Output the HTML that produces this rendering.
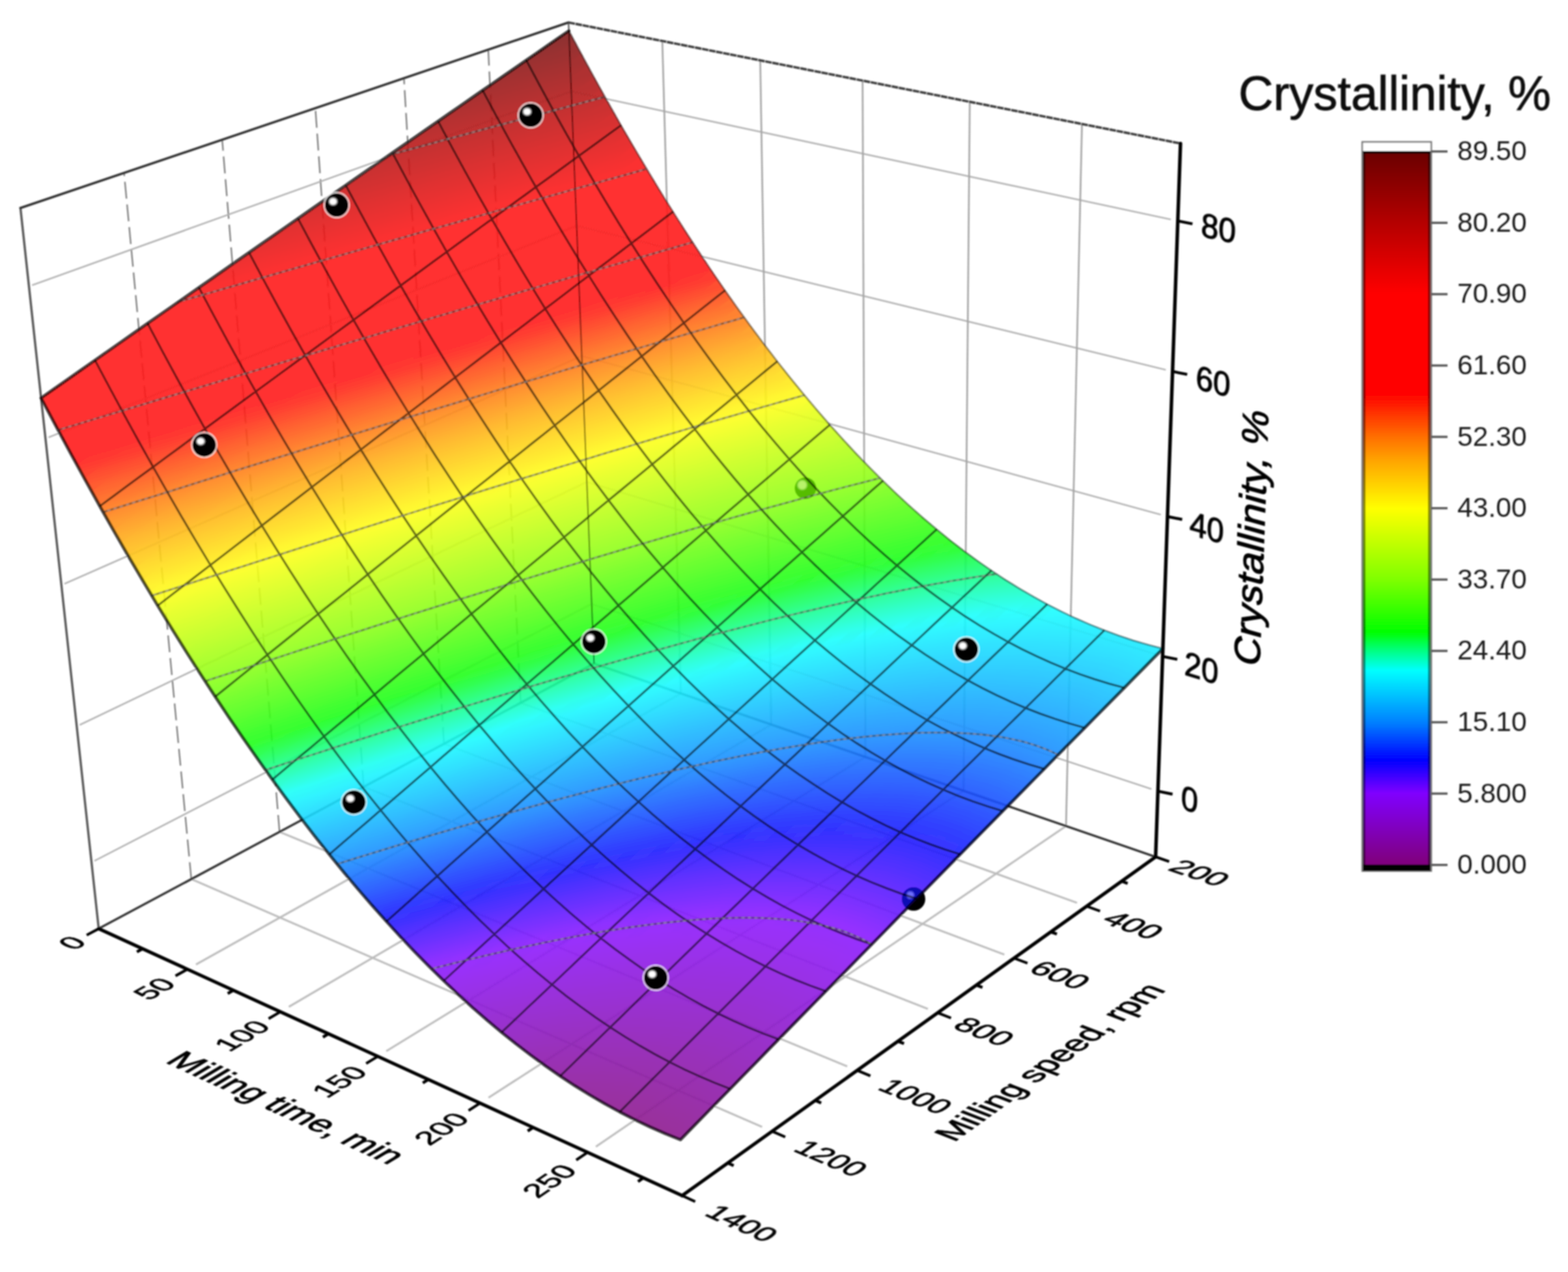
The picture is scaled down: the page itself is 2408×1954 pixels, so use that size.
<!DOCTYPE html>
<html lang="en"><head><meta charset="utf-8"><title>Crystallinity response surface</title>
<style>html,body{margin:0;padding:0;background:#fff}svg{display:block}</style></head>
<body>
<svg width="2408" height="1954" viewBox="0 0 2408 1954">
<defs>
<filter id="soft" filterUnits="userSpaceOnUse" x="0" y="0" width="2408" height="1954"><feGaussianBlur stdDeviation="0.8"/></filter>
<filter id="b1" x="-50%" y="-50%" width="200%" height="200%"><feGaussianBlur stdDeviation="1.2"/></filter>
<linearGradient id="g0" gradientUnits="userSpaceOnUse" x1="878.7" y1="56.8" x2="966.5" y2="372.3"><stop offset="0.0000" stop-color="#750000"/><stop offset="0.0362" stop-color="#7d0000"/><stop offset="0.0729" stop-color="#850000"/><stop offset="0.1100" stop-color="#8d0000"/><stop offset="0.1475" stop-color="#940000"/><stop offset="0.1855" stop-color="#9c0000"/><stop offset="0.2239" stop-color="#a40000"/><stop offset="0.2628" stop-color="#ac0000"/><stop offset="0.3021" stop-color="#b40000"/><stop offset="0.3419" stop-color="#bc0000"/><stop offset="0.3821" stop-color="#c30000"/><stop offset="0.4229" stop-color="#cb0000"/><stop offset="0.4641" stop-color="#d30000"/><stop offset="0.5058" stop-color="#db0000"/><stop offset="0.5481" stop-color="#e30000"/><stop offset="0.5908" stop-color="#eb0000"/><stop offset="0.6341" stop-color="#f30000"/><stop offset="0.6779" stop-color="#fb0000"/><stop offset="0.7222" stop-color="#ff0000"/><stop offset="0.7671" stop-color="#ff0000"/><stop offset="0.8125" stop-color="#ff0000"/><stop offset="0.8585" stop-color="#ff0000"/><stop offset="0.9051" stop-color="#ff0000"/><stop offset="0.9522" stop-color="#ff0000"/><stop offset="1.0000" stop-color="#ff0000"/></linearGradient>
<linearGradient id="g1" gradientUnits="userSpaceOnUse" x1="888.7" y1="75.6" x2="977.4" y2="391.9"><stop offset="0.0000" stop-color="#820000"/><stop offset="0.0363" stop-color="#8a0000"/><stop offset="0.0729" stop-color="#920000"/><stop offset="0.1100" stop-color="#990000"/><stop offset="0.1475" stop-color="#a10000"/><stop offset="0.1855" stop-color="#a90000"/><stop offset="0.2239" stop-color="#b10000"/><stop offset="0.2628" stop-color="#b90000"/><stop offset="0.3021" stop-color="#c10000"/><stop offset="0.3419" stop-color="#c80000"/><stop offset="0.3822" stop-color="#d00000"/><stop offset="0.4229" stop-color="#d80000"/><stop offset="0.4641" stop-color="#e00000"/><stop offset="0.5059" stop-color="#e80000"/><stop offset="0.5481" stop-color="#f00000"/><stop offset="0.5908" stop-color="#f80000"/><stop offset="0.6341" stop-color="#ff0000"/><stop offset="0.6779" stop-color="#ff0000"/><stop offset="0.7222" stop-color="#ff0000"/><stop offset="0.7671" stop-color="#ff0000"/><stop offset="0.8125" stop-color="#ff0000"/><stop offset="0.8585" stop-color="#ff0000"/><stop offset="0.9051" stop-color="#ff0000"/><stop offset="0.9523" stop-color="#ff0000"/><stop offset="1.0000" stop-color="#ff0000"/></linearGradient>
<linearGradient id="g2" gradientUnits="userSpaceOnUse" x1="898.7" y1="94.1" x2="988.3" y2="411.3"><stop offset="0.0000" stop-color="#8f0000"/><stop offset="0.0363" stop-color="#970000"/><stop offset="0.0729" stop-color="#9e0000"/><stop offset="0.1100" stop-color="#a60000"/><stop offset="0.1476" stop-color="#ae0000"/><stop offset="0.1855" stop-color="#b60000"/><stop offset="0.2239" stop-color="#be0000"/><stop offset="0.2628" stop-color="#c50000"/><stop offset="0.3021" stop-color="#cd0000"/><stop offset="0.3419" stop-color="#d50000"/><stop offset="0.3822" stop-color="#dd0000"/><stop offset="0.4229" stop-color="#e50000"/><stop offset="0.4641" stop-color="#ed0000"/><stop offset="0.5059" stop-color="#f50000"/><stop offset="0.5481" stop-color="#fd0000"/><stop offset="0.5908" stop-color="#ff0000"/><stop offset="0.6341" stop-color="#ff0000"/><stop offset="0.6779" stop-color="#ff0000"/><stop offset="0.7222" stop-color="#ff0000"/><stop offset="0.7671" stop-color="#ff0000"/><stop offset="0.8125" stop-color="#ff0000"/><stop offset="0.8585" stop-color="#ff0000"/><stop offset="0.9051" stop-color="#ff0000"/><stop offset="0.9523" stop-color="#ff0000"/><stop offset="1.0000" stop-color="#ff0000"/></linearGradient>
<linearGradient id="g3" gradientUnits="userSpaceOnUse" x1="908.7" y1="112.4" x2="999.2" y2="430.6"><stop offset="0.0000" stop-color="#9b0000"/><stop offset="0.0363" stop-color="#a30000"/><stop offset="0.0729" stop-color="#ab0000"/><stop offset="0.1100" stop-color="#b30000"/><stop offset="0.1476" stop-color="#ba0000"/><stop offset="0.1855" stop-color="#c20000"/><stop offset="0.2239" stop-color="#ca0000"/><stop offset="0.2628" stop-color="#d20000"/><stop offset="0.3021" stop-color="#da0000"/><stop offset="0.3419" stop-color="#e20000"/><stop offset="0.3822" stop-color="#e90000"/><stop offset="0.4229" stop-color="#f10000"/><stop offset="0.4642" stop-color="#f90000"/><stop offset="0.5059" stop-color="#ff0000"/><stop offset="0.5481" stop-color="#ff0000"/><stop offset="0.5909" stop-color="#ff0000"/><stop offset="0.6341" stop-color="#ff0000"/><stop offset="0.6779" stop-color="#ff0000"/><stop offset="0.7222" stop-color="#ff0000"/><stop offset="0.7671" stop-color="#ff0000"/><stop offset="0.8125" stop-color="#ff0000"/><stop offset="0.8585" stop-color="#ff0000"/><stop offset="0.9051" stop-color="#ff0000"/><stop offset="0.9523" stop-color="#ff0000"/><stop offset="1.0000" stop-color="#ff0000"/></linearGradient>
<linearGradient id="g4" gradientUnits="userSpaceOnUse" x1="918.7" y1="130.6" x2="1010.1" y2="449.7"><stop offset="0.0000" stop-color="#a80000"/><stop offset="0.0363" stop-color="#af0000"/><stop offset="0.0729" stop-color="#b70000"/><stop offset="0.1100" stop-color="#bf0000"/><stop offset="0.1476" stop-color="#c70000"/><stop offset="0.1855" stop-color="#cf0000"/><stop offset="0.2240" stop-color="#d60000"/><stop offset="0.2628" stop-color="#de0000"/><stop offset="0.3021" stop-color="#e60000"/><stop offset="0.3419" stop-color="#ee0000"/><stop offset="0.3822" stop-color="#f60000"/><stop offset="0.4229" stop-color="#fe0000"/><stop offset="0.4642" stop-color="#ff0000"/><stop offset="0.5059" stop-color="#ff0000"/><stop offset="0.5481" stop-color="#ff0000"/><stop offset="0.5909" stop-color="#ff0000"/><stop offset="0.6341" stop-color="#ff0000"/><stop offset="0.6779" stop-color="#ff0000"/><stop offset="0.7223" stop-color="#ff0000"/><stop offset="0.7671" stop-color="#ff0000"/><stop offset="0.8126" stop-color="#ff0000"/><stop offset="0.8585" stop-color="#ff0000"/><stop offset="0.9051" stop-color="#ff0000"/><stop offset="0.9523" stop-color="#ff0000"/><stop offset="1.0000" stop-color="#ff0000"/></linearGradient>
<linearGradient id="g5" gradientUnits="userSpaceOnUse" x1="928.7" y1="148.5" x2="1021" y2="468.7"><stop offset="0.0000" stop-color="#b40000"/><stop offset="0.0363" stop-color="#bc0000"/><stop offset="0.0729" stop-color="#c30000"/><stop offset="0.1100" stop-color="#cb0000"/><stop offset="0.1476" stop-color="#d30000"/><stop offset="0.1856" stop-color="#db0000"/><stop offset="0.2240" stop-color="#e30000"/><stop offset="0.2628" stop-color="#eb0000"/><stop offset="0.3022" stop-color="#f20000"/><stop offset="0.3420" stop-color="#fa0000"/><stop offset="0.3822" stop-color="#ff0000"/><stop offset="0.4230" stop-color="#ff0000"/><stop offset="0.4642" stop-color="#ff0000"/><stop offset="0.5059" stop-color="#ff0000"/><stop offset="0.5481" stop-color="#ff0000"/><stop offset="0.5909" stop-color="#ff0000"/><stop offset="0.6341" stop-color="#ff0000"/><stop offset="0.6779" stop-color="#ff0000"/><stop offset="0.7223" stop-color="#ff0000"/><stop offset="0.7671" stop-color="#ff0000"/><stop offset="0.8126" stop-color="#ff0000"/><stop offset="0.8586" stop-color="#ff0000"/><stop offset="0.9051" stop-color="#ff0000"/><stop offset="0.9523" stop-color="#ff0400"/><stop offset="1.0000" stop-color="#ff1800"/></linearGradient>
<linearGradient id="g6" gradientUnits="userSpaceOnUse" x1="938.7" y1="166.3" x2="1031.9" y2="487.5"><stop offset="0.0000" stop-color="#c00000"/><stop offset="0.0363" stop-color="#c80000"/><stop offset="0.0729" stop-color="#cf0000"/><stop offset="0.1101" stop-color="#d70000"/><stop offset="0.1476" stop-color="#df0000"/><stop offset="0.1856" stop-color="#e70000"/><stop offset="0.2240" stop-color="#ef0000"/><stop offset="0.2628" stop-color="#f70000"/><stop offset="0.3022" stop-color="#fe0000"/><stop offset="0.3420" stop-color="#ff0000"/><stop offset="0.3822" stop-color="#ff0000"/><stop offset="0.4230" stop-color="#ff0000"/><stop offset="0.4642" stop-color="#ff0000"/><stop offset="0.5059" stop-color="#ff0000"/><stop offset="0.5482" stop-color="#ff0000"/><stop offset="0.5909" stop-color="#ff0000"/><stop offset="0.6342" stop-color="#ff0000"/><stop offset="0.6779" stop-color="#ff0000"/><stop offset="0.7223" stop-color="#ff0000"/><stop offset="0.7671" stop-color="#ff0000"/><stop offset="0.8126" stop-color="#ff0000"/><stop offset="0.8586" stop-color="#ff0000"/><stop offset="0.9051" stop-color="#ff0e00"/><stop offset="0.9523" stop-color="#ff2200"/><stop offset="1.0000" stop-color="#ff3500"/></linearGradient>
<linearGradient id="g7" gradientUnits="userSpaceOnUse" x1="948.6" y1="183.8" x2="1042.8" y2="506.2"><stop offset="0.0000" stop-color="#cc0000"/><stop offset="0.0363" stop-color="#d40000"/><stop offset="0.0729" stop-color="#db0000"/><stop offset="0.1101" stop-color="#e30000"/><stop offset="0.1476" stop-color="#eb0000"/><stop offset="0.1856" stop-color="#f30000"/><stop offset="0.2240" stop-color="#fb0000"/><stop offset="0.2629" stop-color="#ff0000"/><stop offset="0.3022" stop-color="#ff0000"/><stop offset="0.3420" stop-color="#ff0000"/><stop offset="0.3822" stop-color="#ff0000"/><stop offset="0.4230" stop-color="#ff0000"/><stop offset="0.4642" stop-color="#ff0000"/><stop offset="0.5059" stop-color="#ff0000"/><stop offset="0.5482" stop-color="#ff0000"/><stop offset="0.5909" stop-color="#ff0000"/><stop offset="0.6342" stop-color="#ff0000"/><stop offset="0.6780" stop-color="#ff0000"/><stop offset="0.7223" stop-color="#ff0000"/><stop offset="0.7672" stop-color="#ff0000"/><stop offset="0.8126" stop-color="#ff0400"/><stop offset="0.8586" stop-color="#ff1800"/><stop offset="0.9051" stop-color="#ff2b00"/><stop offset="0.9523" stop-color="#ff3f00"/><stop offset="1.0000" stop-color="#ff5200"/></linearGradient>
<linearGradient id="g8" gradientUnits="userSpaceOnUse" x1="958.6" y1="201.2" x2="1053.6" y2="524.8"><stop offset="0.0000" stop-color="#d80000"/><stop offset="0.0363" stop-color="#df0000"/><stop offset="0.0730" stop-color="#e70000"/><stop offset="0.1101" stop-color="#ef0000"/><stop offset="0.1476" stop-color="#f70000"/><stop offset="0.1856" stop-color="#ff0000"/><stop offset="0.2240" stop-color="#ff0000"/><stop offset="0.2629" stop-color="#ff0000"/><stop offset="0.3022" stop-color="#ff0000"/><stop offset="0.3420" stop-color="#ff0000"/><stop offset="0.3823" stop-color="#ff0000"/><stop offset="0.4230" stop-color="#ff0000"/><stop offset="0.4642" stop-color="#ff0000"/><stop offset="0.5060" stop-color="#ff0000"/><stop offset="0.5482" stop-color="#ff0000"/><stop offset="0.5909" stop-color="#ff0000"/><stop offset="0.6342" stop-color="#ff0000"/><stop offset="0.6780" stop-color="#ff0000"/><stop offset="0.7223" stop-color="#ff0000"/><stop offset="0.7672" stop-color="#ff0d00"/><stop offset="0.8126" stop-color="#ff2100"/><stop offset="0.8586" stop-color="#ff3400"/><stop offset="0.9051" stop-color="#ff4800"/><stop offset="0.9523" stop-color="#ff5b00"/><stop offset="1.0000" stop-color="#ff6f00"/></linearGradient>
<linearGradient id="g9" gradientUnits="userSpaceOnUse" x1="968.6" y1="218.4" x2="1064.5" y2="543.2"><stop offset="0.0000" stop-color="#e30000"/><stop offset="0.0363" stop-color="#eb0000"/><stop offset="0.0730" stop-color="#f30000"/><stop offset="0.1101" stop-color="#fb0000"/><stop offset="0.1476" stop-color="#ff0000"/><stop offset="0.1856" stop-color="#ff0000"/><stop offset="0.2240" stop-color="#ff0000"/><stop offset="0.2629" stop-color="#ff0000"/><stop offset="0.3022" stop-color="#ff0000"/><stop offset="0.3420" stop-color="#ff0000"/><stop offset="0.3823" stop-color="#ff0000"/><stop offset="0.4230" stop-color="#ff0000"/><stop offset="0.4642" stop-color="#ff0000"/><stop offset="0.5060" stop-color="#ff0000"/><stop offset="0.5482" stop-color="#ff0000"/><stop offset="0.5909" stop-color="#ff0000"/><stop offset="0.6342" stop-color="#ff0000"/><stop offset="0.6780" stop-color="#ff0300"/><stop offset="0.7223" stop-color="#ff1600"/><stop offset="0.7672" stop-color="#ff2a00"/><stop offset="0.8126" stop-color="#ff3d00"/><stop offset="0.8586" stop-color="#ff5000"/><stop offset="0.9051" stop-color="#ff6400"/><stop offset="0.9523" stop-color="#ff7600"/><stop offset="1.0000" stop-color="#ff8800"/></linearGradient>
<linearGradient id="g10" gradientUnits="userSpaceOnUse" x1="978.6" y1="235.4" x2="1075.3" y2="561.4"><stop offset="0.0000" stop-color="#ef0000"/><stop offset="0.0363" stop-color="#f60000"/><stop offset="0.0730" stop-color="#fe0000"/><stop offset="0.1101" stop-color="#ff0000"/><stop offset="0.1476" stop-color="#ff0000"/><stop offset="0.1856" stop-color="#ff0000"/><stop offset="0.2240" stop-color="#ff0000"/><stop offset="0.2629" stop-color="#ff0000"/><stop offset="0.3022" stop-color="#ff0000"/><stop offset="0.3420" stop-color="#ff0000"/><stop offset="0.3823" stop-color="#ff0000"/><stop offset="0.4230" stop-color="#ff0000"/><stop offset="0.4643" stop-color="#ff0000"/><stop offset="0.5060" stop-color="#ff0000"/><stop offset="0.5482" stop-color="#ff0000"/><stop offset="0.5910" stop-color="#ff0000"/><stop offset="0.6342" stop-color="#ff0b00"/><stop offset="0.6780" stop-color="#ff1f00"/><stop offset="0.7223" stop-color="#ff3200"/><stop offset="0.7672" stop-color="#ff4500"/><stop offset="0.8126" stop-color="#ff5900"/><stop offset="0.8586" stop-color="#ff6c00"/><stop offset="0.9051" stop-color="#ff7e00"/><stop offset="0.9523" stop-color="#ff8f00"/><stop offset="1.0000" stop-color="#ffa000"/></linearGradient>
<linearGradient id="g11" gradientUnits="userSpaceOnUse" x1="988.6" y1="252.2" x2="1086.1" y2="579.5"><stop offset="0.0000" stop-color="#fa0000"/><stop offset="0.0363" stop-color="#ff0000"/><stop offset="0.0730" stop-color="#ff0000"/><stop offset="0.1101" stop-color="#ff0000"/><stop offset="0.1476" stop-color="#ff0000"/><stop offset="0.1856" stop-color="#ff0000"/><stop offset="0.2240" stop-color="#ff0000"/><stop offset="0.2629" stop-color="#ff0000"/><stop offset="0.3022" stop-color="#ff0000"/><stop offset="0.3420" stop-color="#ff0000"/><stop offset="0.3823" stop-color="#ff0000"/><stop offset="0.4230" stop-color="#ff0000"/><stop offset="0.4643" stop-color="#ff0000"/><stop offset="0.5060" stop-color="#ff0000"/><stop offset="0.5482" stop-color="#ff0000"/><stop offset="0.5910" stop-color="#ff1300"/><stop offset="0.6342" stop-color="#ff2700"/><stop offset="0.6780" stop-color="#ff3a00"/><stop offset="0.7223" stop-color="#ff4e00"/><stop offset="0.7672" stop-color="#ff6100"/><stop offset="0.8126" stop-color="#ff7400"/><stop offset="0.8586" stop-color="#ff8500"/><stop offset="0.9051" stop-color="#ff9600"/><stop offset="0.9523" stop-color="#ffa700"/><stop offset="1.0000" stop-color="#ffb500"/></linearGradient>
<linearGradient id="g12" gradientUnits="userSpaceOnUse" x1="998.5" y1="268.8" x2="1097" y2="597.5"><stop offset="0.0000" stop-color="#ff0000"/><stop offset="0.0363" stop-color="#ff0000"/><stop offset="0.0730" stop-color="#ff0000"/><stop offset="0.1101" stop-color="#ff0000"/><stop offset="0.1476" stop-color="#ff0000"/><stop offset="0.1856" stop-color="#ff0000"/><stop offset="0.2240" stop-color="#ff0000"/><stop offset="0.2629" stop-color="#ff0000"/><stop offset="0.3022" stop-color="#ff0000"/><stop offset="0.3420" stop-color="#ff0000"/><stop offset="0.3823" stop-color="#ff0000"/><stop offset="0.4231" stop-color="#ff0000"/><stop offset="0.4643" stop-color="#ff0000"/><stop offset="0.5060" stop-color="#ff0800"/><stop offset="0.5482" stop-color="#ff1b00"/><stop offset="0.5910" stop-color="#ff2f00"/><stop offset="0.6342" stop-color="#ff4200"/><stop offset="0.6780" stop-color="#ff5500"/><stop offset="0.7223" stop-color="#ff6900"/><stop offset="0.7672" stop-color="#ff7a00"/><stop offset="0.8126" stop-color="#ff8b00"/><stop offset="0.8586" stop-color="#ff9c00"/><stop offset="0.9051" stop-color="#ffac00"/><stop offset="0.9523" stop-color="#ffbb00"/><stop offset="1.0000" stop-color="#ffc900"/></linearGradient>
<linearGradient id="g13" gradientUnits="userSpaceOnUse" x1="1008.5" y1="285.2" x2="1107.8" y2="615.4"><stop offset="0.0000" stop-color="#ff0000"/><stop offset="0.0363" stop-color="#ff0000"/><stop offset="0.0730" stop-color="#ff0000"/><stop offset="0.1101" stop-color="#ff0000"/><stop offset="0.1476" stop-color="#ff0000"/><stop offset="0.1856" stop-color="#ff0000"/><stop offset="0.2240" stop-color="#ff0000"/><stop offset="0.2629" stop-color="#ff0000"/><stop offset="0.3023" stop-color="#ff0000"/><stop offset="0.3421" stop-color="#ff0000"/><stop offset="0.3823" stop-color="#ff0000"/><stop offset="0.4231" stop-color="#ff0000"/><stop offset="0.4643" stop-color="#ff0f00"/><stop offset="0.5060" stop-color="#ff2300"/><stop offset="0.5482" stop-color="#ff3600"/><stop offset="0.5910" stop-color="#ff4900"/><stop offset="0.6342" stop-color="#ff5d00"/><stop offset="0.6780" stop-color="#ff7000"/><stop offset="0.7223" stop-color="#ff8100"/><stop offset="0.7672" stop-color="#ff9200"/><stop offset="0.8126" stop-color="#ffa300"/><stop offset="0.8586" stop-color="#ffb200"/><stop offset="0.9051" stop-color="#ffc000"/><stop offset="0.9523" stop-color="#ffcf00"/><stop offset="1.0000" stop-color="#ffdd00"/></linearGradient>
<linearGradient id="g14" gradientUnits="userSpaceOnUse" x1="1018.5" y1="301.4" x2="1118.6" y2="633.1"><stop offset="0.0000" stop-color="#ff0000"/><stop offset="0.0363" stop-color="#ff0000"/><stop offset="0.0730" stop-color="#ff0000"/><stop offset="0.1101" stop-color="#ff0000"/><stop offset="0.1476" stop-color="#ff0000"/><stop offset="0.1856" stop-color="#ff0000"/><stop offset="0.2241" stop-color="#ff0000"/><stop offset="0.2629" stop-color="#ff0000"/><stop offset="0.3023" stop-color="#ff0000"/><stop offset="0.3421" stop-color="#ff0000"/><stop offset="0.3823" stop-color="#ff0300"/><stop offset="0.4231" stop-color="#ff1700"/><stop offset="0.4643" stop-color="#ff2a00"/><stop offset="0.5060" stop-color="#ff3d00"/><stop offset="0.5483" stop-color="#ff5000"/><stop offset="0.5910" stop-color="#ff6400"/><stop offset="0.6343" stop-color="#ff7600"/><stop offset="0.6780" stop-color="#ff8700"/><stop offset="0.7224" stop-color="#ff9800"/><stop offset="0.7672" stop-color="#ffa800"/><stop offset="0.8126" stop-color="#ffb700"/><stop offset="0.8586" stop-color="#ffc500"/><stop offset="0.9052" stop-color="#ffd400"/><stop offset="0.9523" stop-color="#ffe200"/><stop offset="1.0000" stop-color="#fff100"/></linearGradient>
<linearGradient id="g15" gradientUnits="userSpaceOnUse" x1="1028.5" y1="317.4" x2="1129.4" y2="650.7"><stop offset="0.0000" stop-color="#ff0000"/><stop offset="0.0363" stop-color="#ff0000"/><stop offset="0.0730" stop-color="#ff0000"/><stop offset="0.1101" stop-color="#ff0000"/><stop offset="0.1477" stop-color="#ff0000"/><stop offset="0.1856" stop-color="#ff0000"/><stop offset="0.2241" stop-color="#ff0000"/><stop offset="0.2629" stop-color="#ff0000"/><stop offset="0.3023" stop-color="#ff0000"/><stop offset="0.3421" stop-color="#ff0a00"/><stop offset="0.3823" stop-color="#ff1d00"/><stop offset="0.4231" stop-color="#ff3100"/><stop offset="0.4643" stop-color="#ff4400"/><stop offset="0.5060" stop-color="#ff5700"/><stop offset="0.5483" stop-color="#ff6a00"/><stop offset="0.5910" stop-color="#ff7c00"/><stop offset="0.6343" stop-color="#ff8d00"/><stop offset="0.6780" stop-color="#ff9e00"/><stop offset="0.7224" stop-color="#ffad00"/><stop offset="0.7672" stop-color="#ffbc00"/><stop offset="0.8126" stop-color="#ffca00"/><stop offset="0.8586" stop-color="#ffd800"/><stop offset="0.9052" stop-color="#ffe700"/><stop offset="0.9523" stop-color="#fff500"/><stop offset="1.0000" stop-color="#faff00"/></linearGradient>
<linearGradient id="g16" gradientUnits="userSpaceOnUse" x1="1038.4" y1="333.3" x2="1140.2" y2="668.2"><stop offset="0.0000" stop-color="#ff0000"/><stop offset="0.0363" stop-color="#ff0000"/><stop offset="0.0730" stop-color="#ff0000"/><stop offset="0.1101" stop-color="#ff0000"/><stop offset="0.1477" stop-color="#ff0000"/><stop offset="0.1856" stop-color="#ff0000"/><stop offset="0.2241" stop-color="#ff0000"/><stop offset="0.2630" stop-color="#ff0000"/><stop offset="0.3023" stop-color="#ff1100"/><stop offset="0.3421" stop-color="#ff2400"/><stop offset="0.3824" stop-color="#ff3700"/><stop offset="0.4231" stop-color="#ff4a00"/><stop offset="0.4643" stop-color="#ff5e00"/><stop offset="0.5061" stop-color="#ff7000"/><stop offset="0.5483" stop-color="#ff8100"/><stop offset="0.5910" stop-color="#ff9200"/><stop offset="0.6343" stop-color="#ffa300"/><stop offset="0.6781" stop-color="#ffb200"/><stop offset="0.7224" stop-color="#ffc000"/><stop offset="0.7672" stop-color="#ffcf00"/><stop offset="0.8126" stop-color="#ffdd00"/><stop offset="0.8586" stop-color="#ffeb00"/><stop offset="0.9052" stop-color="#fffa00"/><stop offset="0.9523" stop-color="#f6ff00"/><stop offset="1.0000" stop-color="#e8ff00"/></linearGradient>
<linearGradient id="g17" gradientUnits="userSpaceOnUse" x1="1048.4" y1="348.9" x2="1151" y2="685.5"><stop offset="0.0000" stop-color="#ff0000"/><stop offset="0.0363" stop-color="#ff0000"/><stop offset="0.0730" stop-color="#ff0000"/><stop offset="0.1101" stop-color="#ff0000"/><stop offset="0.1477" stop-color="#ff0000"/><stop offset="0.1856" stop-color="#ff0000"/><stop offset="0.2241" stop-color="#ff0400"/><stop offset="0.2630" stop-color="#ff1700"/><stop offset="0.3023" stop-color="#ff2a00"/><stop offset="0.3421" stop-color="#ff3d00"/><stop offset="0.3824" stop-color="#ff5000"/><stop offset="0.4231" stop-color="#ff6400"/><stop offset="0.4643" stop-color="#ff7600"/><stop offset="0.5061" stop-color="#ff8700"/><stop offset="0.5483" stop-color="#ff9700"/><stop offset="0.5910" stop-color="#ffa800"/><stop offset="0.6343" stop-color="#ffb600"/><stop offset="0.6781" stop-color="#ffc500"/><stop offset="0.7224" stop-color="#ffd300"/><stop offset="0.7672" stop-color="#ffe100"/><stop offset="0.8126" stop-color="#fff000"/><stop offset="0.8586" stop-color="#fffe00"/><stop offset="0.9052" stop-color="#f2ff00"/><stop offset="0.9523" stop-color="#e4ff00"/><stop offset="1.0000" stop-color="#d7ff00"/></linearGradient>
<linearGradient id="g18" gradientUnits="userSpaceOnUse" x1="1058.4" y1="364.4" x2="1161.8" y2="702.7"><stop offset="0.0000" stop-color="#ff0000"/><stop offset="0.0363" stop-color="#ff0000"/><stop offset="0.0730" stop-color="#ff0000"/><stop offset="0.1101" stop-color="#ff0000"/><stop offset="0.1477" stop-color="#ff0000"/><stop offset="0.1857" stop-color="#ff0a00"/><stop offset="0.2241" stop-color="#ff1d00"/><stop offset="0.2630" stop-color="#ff3000"/><stop offset="0.3023" stop-color="#ff4300"/><stop offset="0.3421" stop-color="#ff5600"/><stop offset="0.3824" stop-color="#ff6900"/><stop offset="0.4231" stop-color="#ff7b00"/><stop offset="0.4643" stop-color="#ff8c00"/><stop offset="0.5061" stop-color="#ff9c00"/><stop offset="0.5483" stop-color="#ffac00"/><stop offset="0.5910" stop-color="#ffba00"/><stop offset="0.6343" stop-color="#ffc900"/><stop offset="0.6781" stop-color="#ffd700"/><stop offset="0.7224" stop-color="#ffe500"/><stop offset="0.7672" stop-color="#fff400"/><stop offset="0.8126" stop-color="#fcff00"/><stop offset="0.8586" stop-color="#eeff00"/><stop offset="0.9052" stop-color="#e1ff00"/><stop offset="0.9523" stop-color="#d3ff00"/><stop offset="1.0000" stop-color="#c5ff00"/></linearGradient>
<linearGradient id="g19" gradientUnits="userSpaceOnUse" x1="1068.4" y1="379.7" x2="1172.6" y2="719.8"><stop offset="0.0000" stop-color="#ff0000"/><stop offset="0.0363" stop-color="#ff0000"/><stop offset="0.0730" stop-color="#ff0000"/><stop offset="0.1101" stop-color="#ff0000"/><stop offset="0.1477" stop-color="#ff0f00"/><stop offset="0.1857" stop-color="#ff2200"/><stop offset="0.2241" stop-color="#ff3500"/><stop offset="0.2630" stop-color="#ff4800"/><stop offset="0.3023" stop-color="#ff5b00"/><stop offset="0.3421" stop-color="#ff6f00"/><stop offset="0.3824" stop-color="#ff7f00"/><stop offset="0.4231" stop-color="#ff9000"/><stop offset="0.4644" stop-color="#ffa100"/><stop offset="0.5061" stop-color="#ffb000"/><stop offset="0.5483" stop-color="#ffbe00"/><stop offset="0.5910" stop-color="#ffcc00"/><stop offset="0.6343" stop-color="#ffdb00"/><stop offset="0.6781" stop-color="#ffe900"/><stop offset="0.7224" stop-color="#fff700"/><stop offset="0.7672" stop-color="#f9ff00"/><stop offset="0.8127" stop-color="#ebff00"/><stop offset="0.8586" stop-color="#ddff00"/><stop offset="0.9052" stop-color="#cfff00"/><stop offset="0.9523" stop-color="#c2ff00"/><stop offset="1.0000" stop-color="#b4ff00"/></linearGradient>
<linearGradient id="g20" gradientUnits="userSpaceOnUse" x1="1078.4" y1="394.8" x2="1183.4" y2="736.8"><stop offset="0.0000" stop-color="#ff0000"/><stop offset="0.0363" stop-color="#ff0000"/><stop offset="0.0730" stop-color="#ff0100"/><stop offset="0.1101" stop-color="#ff1400"/><stop offset="0.1477" stop-color="#ff2700"/><stop offset="0.1857" stop-color="#ff3a00"/><stop offset="0.2241" stop-color="#ff4d00"/><stop offset="0.2630" stop-color="#ff6000"/><stop offset="0.3023" stop-color="#ff7300"/><stop offset="0.3421" stop-color="#ff8400"/><stop offset="0.3824" stop-color="#ff9400"/><stop offset="0.4231" stop-color="#ffa500"/><stop offset="0.4644" stop-color="#ffb300"/><stop offset="0.5061" stop-color="#ffc200"/><stop offset="0.5483" stop-color="#ffd000"/><stop offset="0.5911" stop-color="#ffde00"/><stop offset="0.6343" stop-color="#ffed00"/><stop offset="0.6781" stop-color="#fffb00"/><stop offset="0.7224" stop-color="#f5ff00"/><stop offset="0.7673" stop-color="#e8ff00"/><stop offset="0.8127" stop-color="#daff00"/><stop offset="0.8586" stop-color="#ccff00"/><stop offset="0.9052" stop-color="#beff00"/><stop offset="0.9523" stop-color="#b1ff00"/><stop offset="1.0000" stop-color="#a3ff00"/></linearGradient>
<linearGradient id="g21" gradientUnits="userSpaceOnUse" x1="1088.3" y1="409.7" x2="1194.1" y2="753.7"><stop offset="0.0000" stop-color="#ff0000"/><stop offset="0.0363" stop-color="#ff0600"/><stop offset="0.0730" stop-color="#ff1900"/><stop offset="0.1101" stop-color="#ff2c00"/><stop offset="0.1477" stop-color="#ff3f00"/><stop offset="0.1857" stop-color="#ff5200"/><stop offset="0.2241" stop-color="#ff6500"/><stop offset="0.2630" stop-color="#ff7700"/><stop offset="0.3023" stop-color="#ff8800"/><stop offset="0.3421" stop-color="#ff9900"/><stop offset="0.3824" stop-color="#ffa900"/><stop offset="0.4231" stop-color="#ffb700"/><stop offset="0.4644" stop-color="#ffc500"/><stop offset="0.5061" stop-color="#ffd300"/><stop offset="0.5483" stop-color="#ffe200"/><stop offset="0.5911" stop-color="#fff000"/><stop offset="0.6343" stop-color="#fffe00"/><stop offset="0.6781" stop-color="#f2ff00"/><stop offset="0.7224" stop-color="#e4ff00"/><stop offset="0.7673" stop-color="#d7ff00"/><stop offset="0.8127" stop-color="#c9ff00"/><stop offset="0.8586" stop-color="#bbff00"/><stop offset="0.9052" stop-color="#aeff00"/><stop offset="0.9523" stop-color="#a0ff00"/><stop offset="1.0000" stop-color="#92ff00"/></linearGradient>
<linearGradient id="g22" gradientUnits="userSpaceOnUse" x1="1098.3" y1="424.4" x2="1204.9" y2="770.5"><stop offset="0.0000" stop-color="#ff0b00"/><stop offset="0.0363" stop-color="#ff1d00"/><stop offset="0.0730" stop-color="#ff3000"/><stop offset="0.1101" stop-color="#ff4300"/><stop offset="0.1477" stop-color="#ff5600"/><stop offset="0.1857" stop-color="#ff6a00"/><stop offset="0.2241" stop-color="#ff7b00"/><stop offset="0.2630" stop-color="#ff8b00"/><stop offset="0.3023" stop-color="#ff9c00"/><stop offset="0.3421" stop-color="#ffac00"/><stop offset="0.3824" stop-color="#ffba00"/><stop offset="0.4232" stop-color="#ffc800"/><stop offset="0.4644" stop-color="#ffd600"/><stop offset="0.5061" stop-color="#ffe500"/><stop offset="0.5483" stop-color="#fff300"/><stop offset="0.5911" stop-color="#fdff00"/><stop offset="0.6343" stop-color="#efff00"/><stop offset="0.6781" stop-color="#e2ff00"/><stop offset="0.7224" stop-color="#d4ff00"/><stop offset="0.7673" stop-color="#c6ff00"/><stop offset="0.8127" stop-color="#b9ff00"/><stop offset="0.8586" stop-color="#abff00"/><stop offset="0.9052" stop-color="#9dff00"/><stop offset="0.9523" stop-color="#8fff00"/><stop offset="1.0000" stop-color="#82ff00"/></linearGradient>
<linearGradient id="g23" gradientUnits="userSpaceOnUse" x1="1108.3" y1="439" x2="1215.7" y2="787.2"><stop offset="0.0000" stop-color="#ff2200"/><stop offset="0.0363" stop-color="#ff3500"/><stop offset="0.0730" stop-color="#ff4700"/><stop offset="0.1101" stop-color="#ff5a00"/><stop offset="0.1477" stop-color="#ff6e00"/><stop offset="0.1857" stop-color="#ff7e00"/><stop offset="0.2241" stop-color="#ff8f00"/><stop offset="0.2630" stop-color="#ffa000"/><stop offset="0.3023" stop-color="#ffaf00"/><stop offset="0.3421" stop-color="#ffbd00"/><stop offset="0.3824" stop-color="#ffcb00"/><stop offset="0.4232" stop-color="#ffd900"/><stop offset="0.4644" stop-color="#ffe700"/><stop offset="0.5061" stop-color="#fff600"/><stop offset="0.5483" stop-color="#faff00"/><stop offset="0.5911" stop-color="#edff00"/><stop offset="0.6343" stop-color="#dfff00"/><stop offset="0.6781" stop-color="#d1ff00"/><stop offset="0.7224" stop-color="#c4ff00"/><stop offset="0.7673" stop-color="#b6ff00"/><stop offset="0.8127" stop-color="#a8ff00"/><stop offset="0.8586" stop-color="#9bff00"/><stop offset="0.9052" stop-color="#8dff00"/><stop offset="0.9523" stop-color="#7fff00"/><stop offset="1.0000" stop-color="#6cff00"/></linearGradient>
<linearGradient id="g24" gradientUnits="userSpaceOnUse" x1="1118.3" y1="453.3" x2="1226.4" y2="803.8"><stop offset="0.0000" stop-color="#ff3800"/><stop offset="0.0363" stop-color="#ff4b00"/><stop offset="0.0730" stop-color="#ff5e00"/><stop offset="0.1101" stop-color="#ff7100"/><stop offset="0.1477" stop-color="#ff8100"/><stop offset="0.1857" stop-color="#ff9200"/><stop offset="0.2241" stop-color="#ffa300"/><stop offset="0.2630" stop-color="#ffb100"/><stop offset="0.3023" stop-color="#ffbf00"/><stop offset="0.3421" stop-color="#ffce00"/><stop offset="0.3824" stop-color="#ffdc00"/><stop offset="0.4232" stop-color="#ffea00"/><stop offset="0.4644" stop-color="#fff800"/><stop offset="0.5061" stop-color="#f8ff00"/><stop offset="0.5483" stop-color="#eaff00"/><stop offset="0.5911" stop-color="#ddff00"/><stop offset="0.6343" stop-color="#cfff00"/><stop offset="0.6781" stop-color="#c2ff00"/><stop offset="0.7224" stop-color="#b4ff00"/><stop offset="0.7673" stop-color="#a6ff00"/><stop offset="0.8127" stop-color="#98ff00"/><stop offset="0.8586" stop-color="#8bff00"/><stop offset="0.9052" stop-color="#7cff00"/><stop offset="0.9523" stop-color="#6aff00"/><stop offset="1.0000" stop-color="#57ff00"/></linearGradient>
<linearGradient id="g25" gradientUnits="userSpaceOnUse" x1="1128.3" y1="467.5" x2="1237.2" y2="820.3"><stop offset="0.0000" stop-color="#ff4f00"/><stop offset="0.0363" stop-color="#ff6100"/><stop offset="0.0730" stop-color="#ff7400"/><stop offset="0.1101" stop-color="#ff8400"/><stop offset="0.1477" stop-color="#ff9500"/><stop offset="0.1857" stop-color="#ffa500"/><stop offset="0.2241" stop-color="#ffb400"/><stop offset="0.2630" stop-color="#ffc200"/><stop offset="0.3024" stop-color="#ffd000"/><stop offset="0.3422" stop-color="#ffde00"/><stop offset="0.3824" stop-color="#ffec00"/><stop offset="0.4232" stop-color="#fffa00"/><stop offset="0.4644" stop-color="#f6ff00"/><stop offset="0.5061" stop-color="#e8ff00"/><stop offset="0.5484" stop-color="#dbff00"/><stop offset="0.5911" stop-color="#cdff00"/><stop offset="0.6343" stop-color="#bfff00"/><stop offset="0.6781" stop-color="#b2ff00"/><stop offset="0.7224" stop-color="#a4ff00"/><stop offset="0.7673" stop-color="#96ff00"/><stop offset="0.8127" stop-color="#89ff00"/><stop offset="0.8586" stop-color="#79ff00"/><stop offset="0.9052" stop-color="#67ff00"/><stop offset="0.9523" stop-color="#54ff00"/><stop offset="1.0000" stop-color="#42ff00"/></linearGradient>
<linearGradient id="g26" gradientUnits="userSpaceOnUse" x1="1138.3" y1="481.5" x2="1247.9" y2="836.7"><stop offset="0.0000" stop-color="#ff6400"/><stop offset="0.0363" stop-color="#ff7600"/><stop offset="0.0730" stop-color="#ff8700"/><stop offset="0.1101" stop-color="#ff9700"/><stop offset="0.1477" stop-color="#ffa800"/><stop offset="0.1857" stop-color="#ffb600"/><stop offset="0.2241" stop-color="#ffc400"/><stop offset="0.2630" stop-color="#ffd200"/><stop offset="0.3024" stop-color="#ffe000"/><stop offset="0.3422" stop-color="#ffee00"/><stop offset="0.3824" stop-color="#fffc00"/><stop offset="0.4232" stop-color="#f4ff00"/><stop offset="0.4644" stop-color="#e6ff00"/><stop offset="0.5061" stop-color="#d9ff00"/><stop offset="0.5484" stop-color="#cbff00"/><stop offset="0.5911" stop-color="#beff00"/><stop offset="0.6343" stop-color="#b0ff00"/><stop offset="0.6781" stop-color="#a2ff00"/><stop offset="0.7224" stop-color="#95ff00"/><stop offset="0.7673" stop-color="#87ff00"/><stop offset="0.8127" stop-color="#77ff00"/><stop offset="0.8586" stop-color="#65ff00"/><stop offset="0.9052" stop-color="#52ff00"/><stop offset="0.9523" stop-color="#40ff00"/><stop offset="1.0000" stop-color="#2dff00"/></linearGradient>
<linearGradient id="g27" gradientUnits="userSpaceOnUse" x1="1148.3" y1="495.3" x2="1258.6" y2="853"><stop offset="0.0000" stop-color="#ff7900"/><stop offset="0.0363" stop-color="#ff8900"/><stop offset="0.0730" stop-color="#ff9a00"/><stop offset="0.1101" stop-color="#ffa900"/><stop offset="0.1477" stop-color="#ffb800"/><stop offset="0.1857" stop-color="#ffc600"/><stop offset="0.2241" stop-color="#ffd400"/><stop offset="0.2630" stop-color="#ffe200"/><stop offset="0.3024" stop-color="#fff000"/><stop offset="0.3422" stop-color="#fffe00"/><stop offset="0.3824" stop-color="#f2ff00"/><stop offset="0.4232" stop-color="#e5ff00"/><stop offset="0.4644" stop-color="#d7ff00"/><stop offset="0.5061" stop-color="#caff00"/><stop offset="0.5484" stop-color="#bcff00"/><stop offset="0.5911" stop-color="#afff00"/><stop offset="0.6344" stop-color="#a1ff00"/><stop offset="0.6781" stop-color="#93ff00"/><stop offset="0.7224" stop-color="#86ff00"/><stop offset="0.7673" stop-color="#75ff00"/><stop offset="0.8127" stop-color="#63ff00"/><stop offset="0.8586" stop-color="#50ff00"/><stop offset="0.9052" stop-color="#3eff00"/><stop offset="0.9523" stop-color="#2bff00"/><stop offset="1.0000" stop-color="#19ff00"/></linearGradient>
<linearGradient id="g28" gradientUnits="userSpaceOnUse" x1="1158.4" y1="508.9" x2="1269.4" y2="869.2"><stop offset="0.0000" stop-color="#ff8b00"/><stop offset="0.0363" stop-color="#ff9c00"/><stop offset="0.0730" stop-color="#ffab00"/><stop offset="0.1101" stop-color="#ffb900"/><stop offset="0.1477" stop-color="#ffc700"/><stop offset="0.1857" stop-color="#ffd500"/><stop offset="0.2241" stop-color="#ffe300"/><stop offset="0.2630" stop-color="#fff200"/><stop offset="0.3024" stop-color="#feff00"/><stop offset="0.3422" stop-color="#f1ff00"/><stop offset="0.3824" stop-color="#e3ff00"/><stop offset="0.4232" stop-color="#d6ff00"/><stop offset="0.4644" stop-color="#c8ff00"/><stop offset="0.5062" stop-color="#bbff00"/><stop offset="0.5484" stop-color="#adff00"/><stop offset="0.5911" stop-color="#a0ff00"/><stop offset="0.6344" stop-color="#92ff00"/><stop offset="0.6781" stop-color="#84ff00"/><stop offset="0.7224" stop-color="#74ff00"/><stop offset="0.7673" stop-color="#61ff00"/><stop offset="0.8127" stop-color="#4fff00"/><stop offset="0.8587" stop-color="#3cff00"/><stop offset="0.9052" stop-color="#2aff00"/><stop offset="0.9523" stop-color="#17ff00"/><stop offset="1.0000" stop-color="#05ff00"/></linearGradient>
<linearGradient id="g29" gradientUnits="userSpaceOnUse" x1="1168.4" y1="522.4" x2="1280.1" y2="885.4"><stop offset="0.0000" stop-color="#ff9d00"/><stop offset="0.0363" stop-color="#ffac00"/><stop offset="0.0730" stop-color="#ffba00"/><stop offset="0.1102" stop-color="#ffc800"/><stop offset="0.1477" stop-color="#ffd700"/><stop offset="0.1857" stop-color="#ffe500"/><stop offset="0.2242" stop-color="#fff300"/><stop offset="0.2630" stop-color="#fdff00"/><stop offset="0.3024" stop-color="#f0ff00"/><stop offset="0.3422" stop-color="#e2ff00"/><stop offset="0.3825" stop-color="#d5ff00"/><stop offset="0.4232" stop-color="#c7ff00"/><stop offset="0.4644" stop-color="#baff00"/><stop offset="0.5062" stop-color="#acff00"/><stop offset="0.5484" stop-color="#9fff00"/><stop offset="0.5911" stop-color="#91ff00"/><stop offset="0.6344" stop-color="#83ff00"/><stop offset="0.6781" stop-color="#72ff00"/><stop offset="0.7224" stop-color="#60ff00"/><stop offset="0.7673" stop-color="#4dff00"/><stop offset="0.8127" stop-color="#3bff00"/><stop offset="0.8587" stop-color="#29ff00"/><stop offset="0.9052" stop-color="#16ff00"/><stop offset="0.9523" stop-color="#04ff00"/><stop offset="1.0000" stop-color="#00ff2b"/></linearGradient>
<linearGradient id="g30" gradientUnits="userSpaceOnUse" x1="1178.4" y1="535.6" x2="1290.8" y2="901.4"><stop offset="0.0000" stop-color="#ffae00"/><stop offset="0.0363" stop-color="#ffbc00"/><stop offset="0.0730" stop-color="#ffca00"/><stop offset="0.1102" stop-color="#ffd800"/><stop offset="0.1477" stop-color="#ffe600"/><stop offset="0.1857" stop-color="#fff400"/><stop offset="0.2242" stop-color="#fcff00"/><stop offset="0.2630" stop-color="#efff00"/><stop offset="0.3024" stop-color="#e1ff00"/><stop offset="0.3422" stop-color="#d4ff00"/><stop offset="0.3825" stop-color="#c6ff00"/><stop offset="0.4232" stop-color="#b9ff00"/><stop offset="0.4644" stop-color="#abff00"/><stop offset="0.5062" stop-color="#9eff00"/><stop offset="0.5484" stop-color="#90ff00"/><stop offset="0.5911" stop-color="#83ff00"/><stop offset="0.6344" stop-color="#71ff00"/><stop offset="0.6781" stop-color="#5fff00"/><stop offset="0.7224" stop-color="#4dff00"/><stop offset="0.7673" stop-color="#3aff00"/><stop offset="0.8127" stop-color="#28ff00"/><stop offset="0.8587" stop-color="#15ff00"/><stop offset="0.9052" stop-color="#03ff00"/><stop offset="0.9523" stop-color="#00ff2d"/><stop offset="1.0000" stop-color="#00ff62"/></linearGradient>
<linearGradient id="g31" gradientUnits="userSpaceOnUse" x1="1188.5" y1="548.7" x2="1301.5" y2="917.4"><stop offset="0.0000" stop-color="#ffbc00"/><stop offset="0.0363" stop-color="#ffca00"/><stop offset="0.0730" stop-color="#ffd800"/><stop offset="0.1102" stop-color="#ffe600"/><stop offset="0.1477" stop-color="#fff400"/><stop offset="0.1857" stop-color="#fcff00"/><stop offset="0.2242" stop-color="#eeff00"/><stop offset="0.2630" stop-color="#e1ff00"/><stop offset="0.3024" stop-color="#d3ff00"/><stop offset="0.3422" stop-color="#c6ff00"/><stop offset="0.3825" stop-color="#b8ff00"/><stop offset="0.4232" stop-color="#abff00"/><stop offset="0.4644" stop-color="#9dff00"/><stop offset="0.5062" stop-color="#90ff00"/><stop offset="0.5484" stop-color="#82ff00"/><stop offset="0.5911" stop-color="#71ff00"/><stop offset="0.6344" stop-color="#5eff00"/><stop offset="0.6781" stop-color="#4cff00"/><stop offset="0.7224" stop-color="#3aff00"/><stop offset="0.7673" stop-color="#27ff00"/><stop offset="0.8127" stop-color="#15ff00"/><stop offset="0.8587" stop-color="#02ff00"/><stop offset="0.9052" stop-color="#00ff2e"/><stop offset="0.9523" stop-color="#00ff63"/><stop offset="1.0000" stop-color="#00ff97"/></linearGradient>
<linearGradient id="g32" gradientUnits="userSpaceOnUse" x1="1198.5" y1="561.6" x2="1312.2" y2="933.4"><stop offset="0.0000" stop-color="#ffcb00"/><stop offset="0.0363" stop-color="#ffd900"/><stop offset="0.0730" stop-color="#ffe700"/><stop offset="0.1102" stop-color="#fff500"/><stop offset="0.1477" stop-color="#fbff00"/><stop offset="0.1857" stop-color="#eeff00"/><stop offset="0.2242" stop-color="#e0ff00"/><stop offset="0.2631" stop-color="#d3ff00"/><stop offset="0.3024" stop-color="#c5ff00"/><stop offset="0.3422" stop-color="#b8ff00"/><stop offset="0.3825" stop-color="#aaff00"/><stop offset="0.4232" stop-color="#9dff00"/><stop offset="0.4644" stop-color="#8fff00"/><stop offset="0.5062" stop-color="#82ff00"/><stop offset="0.5484" stop-color="#70ff00"/><stop offset="0.5911" stop-color="#5eff00"/><stop offset="0.6344" stop-color="#4cff00"/><stop offset="0.6781" stop-color="#39ff00"/><stop offset="0.7225" stop-color="#27ff00"/><stop offset="0.7673" stop-color="#15ff00"/><stop offset="0.8127" stop-color="#02ff00"/><stop offset="0.8587" stop-color="#00ff2f"/><stop offset="0.9052" stop-color="#00ff64"/><stop offset="0.9523" stop-color="#00ff97"/><stop offset="1.0000" stop-color="#00ffc8"/></linearGradient>
<linearGradient id="g33" gradientUnits="userSpaceOnUse" x1="1208.6" y1="574.4" x2="1322.8" y2="949.3"><stop offset="0.0000" stop-color="#ffd900"/><stop offset="0.0363" stop-color="#ffe700"/><stop offset="0.0730" stop-color="#fff500"/><stop offset="0.1102" stop-color="#fbff00"/><stop offset="0.1477" stop-color="#eeff00"/><stop offset="0.1857" stop-color="#e0ff00"/><stop offset="0.2242" stop-color="#d3ff00"/><stop offset="0.2631" stop-color="#c5ff00"/><stop offset="0.3024" stop-color="#b8ff00"/><stop offset="0.3422" stop-color="#aaff00"/><stop offset="0.3825" stop-color="#9dff00"/><stop offset="0.4232" stop-color="#8fff00"/><stop offset="0.4645" stop-color="#82ff00"/><stop offset="0.5062" stop-color="#70ff00"/><stop offset="0.5484" stop-color="#5eff00"/><stop offset="0.5911" stop-color="#4cff00"/><stop offset="0.6344" stop-color="#39ff00"/><stop offset="0.6781" stop-color="#27ff00"/><stop offset="0.7225" stop-color="#15ff00"/><stop offset="0.7673" stop-color="#02ff00"/><stop offset="0.8127" stop-color="#00ff2e"/><stop offset="0.8587" stop-color="#00ff63"/><stop offset="0.9052" stop-color="#00ff96"/><stop offset="0.9523" stop-color="#00ffc7"/><stop offset="1.0000" stop-color="#00fff8"/></linearGradient>
<linearGradient id="g34" gradientUnits="userSpaceOnUse" x1="1218.6" y1="586.9" x2="1333.5" y2="965.1"><stop offset="0.0000" stop-color="#ffe700"/><stop offset="0.0363" stop-color="#fff500"/><stop offset="0.0730" stop-color="#fbff00"/><stop offset="0.1102" stop-color="#eeff00"/><stop offset="0.1477" stop-color="#e0ff00"/><stop offset="0.1857" stop-color="#d3ff00"/><stop offset="0.2242" stop-color="#c5ff00"/><stop offset="0.2631" stop-color="#b8ff00"/><stop offset="0.3024" stop-color="#abff00"/><stop offset="0.3422" stop-color="#9dff00"/><stop offset="0.3825" stop-color="#90ff00"/><stop offset="0.4232" stop-color="#82ff00"/><stop offset="0.4645" stop-color="#71ff00"/><stop offset="0.5062" stop-color="#5eff00"/><stop offset="0.5484" stop-color="#4cff00"/><stop offset="0.5911" stop-color="#3aff00"/><stop offset="0.6344" stop-color="#28ff00"/><stop offset="0.6782" stop-color="#15ff00"/><stop offset="0.7225" stop-color="#03ff00"/><stop offset="0.7673" stop-color="#00ff2d"/><stop offset="0.8127" stop-color="#00ff62"/><stop offset="0.8587" stop-color="#00ff95"/><stop offset="0.9052" stop-color="#00ffc5"/><stop offset="0.9523" stop-color="#00fff6"/><stop offset="1.0000" stop-color="#00f0ff"/></linearGradient>
<linearGradient id="g35" gradientUnits="userSpaceOnUse" x1="1228.7" y1="599.3" x2="1344.1" y2="980.9"><stop offset="0.0000" stop-color="#fff500"/><stop offset="0.0363" stop-color="#fbff00"/><stop offset="0.0730" stop-color="#eeff00"/><stop offset="0.1102" stop-color="#e1ff00"/><stop offset="0.1477" stop-color="#d3ff00"/><stop offset="0.1857" stop-color="#c6ff00"/><stop offset="0.2242" stop-color="#b8ff00"/><stop offset="0.2631" stop-color="#abff00"/><stop offset="0.3024" stop-color="#9eff00"/><stop offset="0.3422" stop-color="#90ff00"/><stop offset="0.3825" stop-color="#83ff00"/><stop offset="0.4232" stop-color="#71ff00"/><stop offset="0.4645" stop-color="#5fff00"/><stop offset="0.5062" stop-color="#4dff00"/><stop offset="0.5484" stop-color="#3bff00"/><stop offset="0.5911" stop-color="#28ff00"/><stop offset="0.6344" stop-color="#16ff00"/><stop offset="0.6782" stop-color="#04ff00"/><stop offset="0.7225" stop-color="#00ff2a"/><stop offset="0.7673" stop-color="#00ff5f"/><stop offset="0.8127" stop-color="#00ff92"/><stop offset="0.8587" stop-color="#00ffc3"/><stop offset="0.9052" stop-color="#00fff3"/><stop offset="0.9523" stop-color="#00f1ff"/><stop offset="1.0000" stop-color="#00deff"/></linearGradient>
<linearGradient id="g36" gradientUnits="userSpaceOnUse" x1="1238.8" y1="611.4" x2="1354.7" y2="996.6"><stop offset="0.0000" stop-color="#fcff00"/><stop offset="0.0363" stop-color="#efff00"/><stop offset="0.0730" stop-color="#e1ff00"/><stop offset="0.1102" stop-color="#d4ff00"/><stop offset="0.1477" stop-color="#c6ff00"/><stop offset="0.1857" stop-color="#b9ff00"/><stop offset="0.2242" stop-color="#acff00"/><stop offset="0.2631" stop-color="#9eff00"/><stop offset="0.3024" stop-color="#91ff00"/><stop offset="0.3422" stop-color="#83ff00"/><stop offset="0.3825" stop-color="#72ff00"/><stop offset="0.4232" stop-color="#60ff00"/><stop offset="0.4645" stop-color="#4eff00"/><stop offset="0.5062" stop-color="#3cff00"/><stop offset="0.5484" stop-color="#29ff00"/><stop offset="0.5911" stop-color="#17ff00"/><stop offset="0.6344" stop-color="#05ff00"/><stop offset="0.6782" stop-color="#00ff27"/><stop offset="0.7225" stop-color="#00ff5c"/><stop offset="0.7673" stop-color="#00ff8f"/><stop offset="0.8127" stop-color="#00ffc0"/><stop offset="0.8587" stop-color="#00fff0"/><stop offset="0.9052" stop-color="#00f2ff"/><stop offset="0.9523" stop-color="#00dfff"/><stop offset="1.0000" stop-color="#00cdff"/></linearGradient>
<linearGradient id="g37" gradientUnits="userSpaceOnUse" x1="1248.9" y1="623.4" x2="1365.3" y2="1012.3"><stop offset="0.0000" stop-color="#efff00"/><stop offset="0.0363" stop-color="#e2ff00"/><stop offset="0.0730" stop-color="#d5ff00"/><stop offset="0.1102" stop-color="#c7ff00"/><stop offset="0.1477" stop-color="#baff00"/><stop offset="0.1857" stop-color="#adff00"/><stop offset="0.2242" stop-color="#9fff00"/><stop offset="0.2631" stop-color="#92ff00"/><stop offset="0.3024" stop-color="#84ff00"/><stop offset="0.3422" stop-color="#74ff00"/><stop offset="0.3825" stop-color="#61ff00"/><stop offset="0.4232" stop-color="#4fff00"/><stop offset="0.4645" stop-color="#3dff00"/><stop offset="0.5062" stop-color="#2bff00"/><stop offset="0.5484" stop-color="#19ff00"/><stop offset="0.5911" stop-color="#06ff00"/><stop offset="0.6344" stop-color="#00ff22"/><stop offset="0.6782" stop-color="#00ff57"/><stop offset="0.7225" stop-color="#00ff8b"/><stop offset="0.7673" stop-color="#00ffbb"/><stop offset="0.8127" stop-color="#00ffec"/><stop offset="0.8587" stop-color="#00f4ff"/><stop offset="0.9052" stop-color="#00e1ff"/><stop offset="0.9523" stop-color="#00cfff"/><stop offset="1.0000" stop-color="#00bcff"/></linearGradient>
<linearGradient id="g38" gradientUnits="userSpaceOnUse" x1="1259" y1="635.3" x2="1375.9" y2="1028"><stop offset="0.0000" stop-color="#e3ff00"/><stop offset="0.0363" stop-color="#d6ff00"/><stop offset="0.0730" stop-color="#c8ff00"/><stop offset="0.1102" stop-color="#bbff00"/><stop offset="0.1477" stop-color="#aeff00"/><stop offset="0.1857" stop-color="#a0ff00"/><stop offset="0.2242" stop-color="#93ff00"/><stop offset="0.2631" stop-color="#85ff00"/><stop offset="0.3024" stop-color="#75ff00"/><stop offset="0.3422" stop-color="#63ff00"/><stop offset="0.3825" stop-color="#51ff00"/><stop offset="0.4232" stop-color="#3fff00"/><stop offset="0.4645" stop-color="#2dff00"/><stop offset="0.5062" stop-color="#1aff00"/><stop offset="0.5484" stop-color="#08ff00"/><stop offset="0.5911" stop-color="#00ff1d"/><stop offset="0.6344" stop-color="#00ff52"/><stop offset="0.6782" stop-color="#00ff86"/><stop offset="0.7225" stop-color="#00ffb6"/><stop offset="0.7673" stop-color="#00ffe7"/><stop offset="0.8127" stop-color="#00f6ff"/><stop offset="0.8587" stop-color="#00e3ff"/><stop offset="0.9052" stop-color="#00d1ff"/><stop offset="0.9523" stop-color="#00beff"/><stop offset="1.0000" stop-color="#00abff"/></linearGradient>
<linearGradient id="g39" gradientUnits="userSpaceOnUse" x1="1269.1" y1="646.9" x2="1386.5" y2="1043.7"><stop offset="0.0000" stop-color="#d7ff00"/><stop offset="0.0363" stop-color="#caff00"/><stop offset="0.0730" stop-color="#bcff00"/><stop offset="0.1102" stop-color="#afff00"/><stop offset="0.1477" stop-color="#a2ff00"/><stop offset="0.1857" stop-color="#94ff00"/><stop offset="0.2242" stop-color="#87ff00"/><stop offset="0.2631" stop-color="#77ff00"/><stop offset="0.3024" stop-color="#65ff00"/><stop offset="0.3422" stop-color="#53ff00"/><stop offset="0.3825" stop-color="#41ff00"/><stop offset="0.4232" stop-color="#2fff00"/><stop offset="0.4645" stop-color="#1cff00"/><stop offset="0.5062" stop-color="#0aff00"/><stop offset="0.5484" stop-color="#00ff17"/><stop offset="0.5911" stop-color="#00ff4c"/><stop offset="0.6344" stop-color="#00ff80"/><stop offset="0.6782" stop-color="#00ffb0"/><stop offset="0.7225" stop-color="#00ffe1"/><stop offset="0.7673" stop-color="#00f8ff"/><stop offset="0.8127" stop-color="#00e5ff"/><stop offset="0.8587" stop-color="#00d3ff"/><stop offset="0.9052" stop-color="#00c0ff"/><stop offset="0.9523" stop-color="#00aeff"/><stop offset="1.0000" stop-color="#009bff"/></linearGradient>
<linearGradient id="g40" gradientUnits="userSpaceOnUse" x1="1279.3" y1="658.4" x2="1397" y2="1059.4"><stop offset="0.0000" stop-color="#cbff00"/><stop offset="0.0363" stop-color="#beff00"/><stop offset="0.0730" stop-color="#b1ff00"/><stop offset="0.1102" stop-color="#a3ff00"/><stop offset="0.1477" stop-color="#96ff00"/><stop offset="0.1857" stop-color="#89ff00"/><stop offset="0.2242" stop-color="#7aff00"/><stop offset="0.2631" stop-color="#67ff00"/><stop offset="0.3024" stop-color="#55ff00"/><stop offset="0.3422" stop-color="#43ff00"/><stop offset="0.3825" stop-color="#31ff00"/><stop offset="0.4232" stop-color="#1fff00"/><stop offset="0.4645" stop-color="#0dff00"/><stop offset="0.5062" stop-color="#00ff10"/><stop offset="0.5484" stop-color="#00ff44"/><stop offset="0.5911" stop-color="#00ff79"/><stop offset="0.6344" stop-color="#00ffaa"/><stop offset="0.6782" stop-color="#00ffda"/><stop offset="0.7225" stop-color="#00fbff"/><stop offset="0.7673" stop-color="#00e8ff"/><stop offset="0.8127" stop-color="#00d6ff"/><stop offset="0.8587" stop-color="#00c3ff"/><stop offset="0.9052" stop-color="#00b0ff"/><stop offset="0.9523" stop-color="#009eff"/><stop offset="1.0000" stop-color="#008bff"/></linearGradient>
<linearGradient id="g41" gradientUnits="userSpaceOnUse" x1="1289.4" y1="669.7" x2="1407.5" y2="1075"><stop offset="0.0000" stop-color="#c0ff00"/><stop offset="0.0363" stop-color="#b3ff00"/><stop offset="0.0730" stop-color="#a5ff00"/><stop offset="0.1102" stop-color="#98ff00"/><stop offset="0.1477" stop-color="#8bff00"/><stop offset="0.1857" stop-color="#7cff00"/><stop offset="0.2242" stop-color="#6aff00"/><stop offset="0.2631" stop-color="#58ff00"/><stop offset="0.3024" stop-color="#46ff00"/><stop offset="0.3422" stop-color="#34ff00"/><stop offset="0.3825" stop-color="#22ff00"/><stop offset="0.4232" stop-color="#10ff00"/><stop offset="0.4645" stop-color="#00ff08"/><stop offset="0.5062" stop-color="#00ff3c"/><stop offset="0.5484" stop-color="#00ff71"/><stop offset="0.5911" stop-color="#00ffa2"/><stop offset="0.6344" stop-color="#00ffd2"/><stop offset="0.6782" stop-color="#00feff"/><stop offset="0.7225" stop-color="#00ebff"/><stop offset="0.7673" stop-color="#00d9ff"/><stop offset="0.8127" stop-color="#00c6ff"/><stop offset="0.8587" stop-color="#00b4ff"/><stop offset="0.9052" stop-color="#00a1ff"/><stop offset="0.9523" stop-color="#008eff"/><stop offset="1.0000" stop-color="#007aff"/></linearGradient>
<linearGradient id="g42" gradientUnits="userSpaceOnUse" x1="1299.6" y1="680.8" x2="1417.9" y2="1090.7"><stop offset="0.0000" stop-color="#b5ff00"/><stop offset="0.0363" stop-color="#a7ff00"/><stop offset="0.0730" stop-color="#9aff00"/><stop offset="0.1102" stop-color="#8dff00"/><stop offset="0.1477" stop-color="#7fff00"/><stop offset="0.1857" stop-color="#6dff00"/><stop offset="0.2242" stop-color="#5bff00"/><stop offset="0.2631" stop-color="#49ff00"/><stop offset="0.3024" stop-color="#37ff00"/><stop offset="0.3422" stop-color="#25ff00"/><stop offset="0.3825" stop-color="#13ff00"/><stop offset="0.4232" stop-color="#00ff00"/><stop offset="0.4645" stop-color="#00ff33"/><stop offset="0.5062" stop-color="#00ff67"/><stop offset="0.5484" stop-color="#00ff9a"/><stop offset="0.5911" stop-color="#00ffca"/><stop offset="0.6344" stop-color="#00fffa"/><stop offset="0.6782" stop-color="#00eeff"/><stop offset="0.7225" stop-color="#00dcff"/><stop offset="0.7673" stop-color="#00c9ff"/><stop offset="0.8127" stop-color="#00b7ff"/><stop offset="0.8587" stop-color="#00a4ff"/><stop offset="0.9052" stop-color="#0092ff"/><stop offset="0.9523" stop-color="#007fff"/><stop offset="1.0000" stop-color="#0065ff"/></linearGradient>
<linearGradient id="g43" gradientUnits="userSpaceOnUse" x1="1309.8" y1="691.7" x2="1428.3" y2="1106.3"><stop offset="0.0000" stop-color="#aaff00"/><stop offset="0.0363" stop-color="#9cff00"/><stop offset="0.0730" stop-color="#8fff00"/><stop offset="0.1102" stop-color="#82ff00"/><stop offset="0.1477" stop-color="#70ff00"/><stop offset="0.1857" stop-color="#5eff00"/><stop offset="0.2242" stop-color="#4cff00"/><stop offset="0.2631" stop-color="#3aff00"/><stop offset="0.3024" stop-color="#28ff00"/><stop offset="0.3422" stop-color="#16ff00"/><stop offset="0.3825" stop-color="#04ff00"/><stop offset="0.4232" stop-color="#00ff29"/><stop offset="0.4645" stop-color="#00ff5d"/><stop offset="0.5062" stop-color="#00ff90"/><stop offset="0.5484" stop-color="#00ffc0"/><stop offset="0.5911" stop-color="#00fff0"/><stop offset="0.6344" stop-color="#00f2ff"/><stop offset="0.6782" stop-color="#00e0ff"/><stop offset="0.7225" stop-color="#00cdff"/><stop offset="0.7673" stop-color="#00bbff"/><stop offset="0.8127" stop-color="#00a8ff"/><stop offset="0.8587" stop-color="#0096ff"/><stop offset="0.9052" stop-color="#0083ff"/><stop offset="0.9523" stop-color="#006aff"/><stop offset="1.0000" stop-color="#0050ff"/></linearGradient>
<linearGradient id="g44" gradientUnits="userSpaceOnUse" x1="1320" y1="702.5" x2="1438.6" y2="1122"><stop offset="0.0000" stop-color="#9fff00"/><stop offset="0.0363" stop-color="#92ff00"/><stop offset="0.0730" stop-color="#84ff00"/><stop offset="0.1102" stop-color="#74ff00"/><stop offset="0.1477" stop-color="#62ff00"/><stop offset="0.1857" stop-color="#50ff00"/><stop offset="0.2242" stop-color="#3eff00"/><stop offset="0.2631" stop-color="#2cff00"/><stop offset="0.3024" stop-color="#1aff00"/><stop offset="0.3422" stop-color="#08ff00"/><stop offset="0.3825" stop-color="#00ff1e"/><stop offset="0.4232" stop-color="#00ff52"/><stop offset="0.4645" stop-color="#00ff86"/><stop offset="0.5062" stop-color="#00ffb6"/><stop offset="0.5484" stop-color="#00ffe6"/><stop offset="0.5911" stop-color="#00f6ff"/><stop offset="0.6344" stop-color="#00e4ff"/><stop offset="0.6782" stop-color="#00d1ff"/><stop offset="0.7225" stop-color="#00bfff"/><stop offset="0.7673" stop-color="#00acff"/><stop offset="0.8127" stop-color="#009aff"/><stop offset="0.8587" stop-color="#0087ff"/><stop offset="0.9052" stop-color="#0070ff"/><stop offset="0.9523" stop-color="#0056ff"/><stop offset="1.0000" stop-color="#003cff"/></linearGradient>
<linearGradient id="g45" gradientUnits="userSpaceOnUse" x1="1330.2" y1="713" x2="1448.9" y2="1137.8"><stop offset="0.0000" stop-color="#95ff00"/><stop offset="0.0363" stop-color="#87ff00"/><stop offset="0.0730" stop-color="#78ff00"/><stop offset="0.1102" stop-color="#66ff00"/><stop offset="0.1477" stop-color="#54ff00"/><stop offset="0.1857" stop-color="#42ff00"/><stop offset="0.2242" stop-color="#30ff00"/><stop offset="0.2631" stop-color="#1eff00"/><stop offset="0.3024" stop-color="#0cff00"/><stop offset="0.3422" stop-color="#00ff12"/><stop offset="0.3825" stop-color="#00ff46"/><stop offset="0.4232" stop-color="#00ff7b"/><stop offset="0.4645" stop-color="#00ffab"/><stop offset="0.5062" stop-color="#00ffdb"/><stop offset="0.5484" stop-color="#00faff"/><stop offset="0.5911" stop-color="#00e8ff"/><stop offset="0.6344" stop-color="#00d6ff"/><stop offset="0.6782" stop-color="#00c3ff"/><stop offset="0.7225" stop-color="#00b1ff"/><stop offset="0.7673" stop-color="#009eff"/><stop offset="0.8127" stop-color="#008cff"/><stop offset="0.8587" stop-color="#0076ff"/><stop offset="0.9052" stop-color="#005cff"/><stop offset="0.9523" stop-color="#0042ff"/><stop offset="1.0000" stop-color="#0028ff"/></linearGradient>
<linearGradient id="g46" gradientUnits="userSpaceOnUse" x1="1340.4" y1="723.4" x2="1459.2" y2="1153.5"><stop offset="0.0000" stop-color="#8bff00"/><stop offset="0.0363" stop-color="#7cff00"/><stop offset="0.0730" stop-color="#6aff00"/><stop offset="0.1102" stop-color="#58ff00"/><stop offset="0.1477" stop-color="#46ff00"/><stop offset="0.1857" stop-color="#34ff00"/><stop offset="0.2242" stop-color="#22ff00"/><stop offset="0.2631" stop-color="#10ff00"/><stop offset="0.3024" stop-color="#00ff05"/><stop offset="0.3422" stop-color="#00ff39"/><stop offset="0.3825" stop-color="#00ff6d"/><stop offset="0.4232" stop-color="#00ff9f"/><stop offset="0.4645" stop-color="#00ffcf"/><stop offset="0.5062" stop-color="#00ffff"/><stop offset="0.5484" stop-color="#00edff"/><stop offset="0.5911" stop-color="#00daff"/><stop offset="0.6344" stop-color="#00c8ff"/><stop offset="0.6782" stop-color="#00b5ff"/><stop offset="0.7225" stop-color="#00a3ff"/><stop offset="0.7673" stop-color="#0090ff"/><stop offset="0.8127" stop-color="#007dff"/><stop offset="0.8587" stop-color="#0063ff"/><stop offset="0.9052" stop-color="#0049ff"/><stop offset="0.9523" stop-color="#002fff"/><stop offset="1.0000" stop-color="#0015ff"/></linearGradient>
<linearGradient id="g47" gradientUnits="userSpaceOnUse" x1="1350.6" y1="733.6" x2="1469.3" y2="1169.4"><stop offset="0.0000" stop-color="#81ff00"/><stop offset="0.0363" stop-color="#6fff00"/><stop offset="0.0730" stop-color="#5dff00"/><stop offset="0.1102" stop-color="#4bff00"/><stop offset="0.1477" stop-color="#39ff00"/><stop offset="0.1857" stop-color="#27ff00"/><stop offset="0.2242" stop-color="#15ff00"/><stop offset="0.2631" stop-color="#03ff00"/><stop offset="0.3024" stop-color="#00ff2b"/><stop offset="0.3422" stop-color="#00ff60"/><stop offset="0.3825" stop-color="#00ff92"/><stop offset="0.4232" stop-color="#00ffc2"/><stop offset="0.4645" stop-color="#00fff2"/><stop offset="0.5062" stop-color="#00f2ff"/><stop offset="0.5484" stop-color="#00dfff"/><stop offset="0.5911" stop-color="#00cdff"/><stop offset="0.6344" stop-color="#00baff"/><stop offset="0.6782" stop-color="#00a8ff"/><stop offset="0.7225" stop-color="#0095ff"/><stop offset="0.7673" stop-color="#0083ff"/><stop offset="0.8127" stop-color="#006aff"/><stop offset="0.8587" stop-color="#0050ff"/><stop offset="0.9052" stop-color="#0036ff"/><stop offset="0.9523" stop-color="#001cff"/><stop offset="1.0000" stop-color="#0002ff"/></linearGradient>
<linearGradient id="g48" gradientUnits="userSpaceOnUse" x1="1360.9" y1="743.7" x2="1479.4" y2="1185.3"><stop offset="0.0000" stop-color="#74ff00"/><stop offset="0.0363" stop-color="#62ff00"/><stop offset="0.0730" stop-color="#50ff00"/><stop offset="0.1102" stop-color="#3eff00"/><stop offset="0.1477" stop-color="#2cff00"/><stop offset="0.1857" stop-color="#1aff00"/><stop offset="0.2242" stop-color="#08ff00"/><stop offset="0.2631" stop-color="#00ff1d"/><stop offset="0.3024" stop-color="#00ff51"/><stop offset="0.3422" stop-color="#00ff84"/><stop offset="0.3825" stop-color="#00ffb4"/><stop offset="0.4232" stop-color="#00ffe4"/><stop offset="0.4645" stop-color="#00f7ff"/><stop offset="0.5062" stop-color="#00e5ff"/><stop offset="0.5484" stop-color="#00d2ff"/><stop offset="0.5911" stop-color="#00c0ff"/><stop offset="0.6344" stop-color="#00adff"/><stop offset="0.6782" stop-color="#009bff"/><stop offset="0.7225" stop-color="#0088ff"/><stop offset="0.7673" stop-color="#0072ff"/><stop offset="0.8127" stop-color="#0058ff"/><stop offset="0.8587" stop-color="#003eff"/><stop offset="0.9052" stop-color="#0024ff"/><stop offset="0.9523" stop-color="#000aff"/><stop offset="1.0000" stop-color="#1300ff"/></linearGradient>
<linearGradient id="g49" gradientUnits="userSpaceOnUse" x1="1371.2" y1="753.5" x2="1489.4" y2="1201.3"><stop offset="0.0000" stop-color="#67ff00"/><stop offset="0.0363" stop-color="#56ff00"/><stop offset="0.0730" stop-color="#44ff00"/><stop offset="0.1102" stop-color="#32ff00"/><stop offset="0.1477" stop-color="#20ff00"/><stop offset="0.1857" stop-color="#0eff00"/><stop offset="0.2242" stop-color="#00ff0d"/><stop offset="0.2631" stop-color="#00ff41"/><stop offset="0.3024" stop-color="#00ff75"/><stop offset="0.3422" stop-color="#00ffa5"/><stop offset="0.3825" stop-color="#00ffd5"/><stop offset="0.4232" stop-color="#00fdff"/><stop offset="0.4645" stop-color="#00eaff"/><stop offset="0.5062" stop-color="#00d8ff"/><stop offset="0.5484" stop-color="#00c6ff"/><stop offset="0.5911" stop-color="#00b3ff"/><stop offset="0.6344" stop-color="#00a1ff"/><stop offset="0.6782" stop-color="#008eff"/><stop offset="0.7225" stop-color="#007aff"/><stop offset="0.7673" stop-color="#0060ff"/><stop offset="0.8127" stop-color="#0046ff"/><stop offset="0.8587" stop-color="#002cff"/><stop offset="0.9052" stop-color="#0012ff"/><stop offset="0.9523" stop-color="#0900ff"/><stop offset="1.0000" stop-color="#2700ff"/></linearGradient>
<linearGradient id="g50" gradientUnits="userSpaceOnUse" x1="1381.4" y1="763.2" x2="1499.3" y2="1217.3"><stop offset="0.0000" stop-color="#5bff00"/><stop offset="0.0363" stop-color="#49ff00"/><stop offset="0.0730" stop-color="#37ff00"/><stop offset="0.1102" stop-color="#25ff00"/><stop offset="0.1477" stop-color="#13ff00"/><stop offset="0.1857" stop-color="#01ff00"/><stop offset="0.2242" stop-color="#00ff30"/><stop offset="0.2631" stop-color="#00ff64"/><stop offset="0.3024" stop-color="#00ff96"/><stop offset="0.3422" stop-color="#00ffc6"/><stop offset="0.3825" stop-color="#00fff5"/><stop offset="0.4232" stop-color="#00f0ff"/><stop offset="0.4645" stop-color="#00deff"/><stop offset="0.5062" stop-color="#00ccff"/><stop offset="0.5484" stop-color="#00b9ff"/><stop offset="0.5911" stop-color="#00a7ff"/><stop offset="0.6344" stop-color="#0094ff"/><stop offset="0.6782" stop-color="#0082ff"/><stop offset="0.7225" stop-color="#0069ff"/><stop offset="0.7673" stop-color="#004fff"/><stop offset="0.8127" stop-color="#0035ff"/><stop offset="0.8587" stop-color="#001bff"/><stop offset="0.9052" stop-color="#0001ff"/><stop offset="0.9523" stop-color="#1d00ff"/><stop offset="1.0000" stop-color="#3a00ff"/></linearGradient>
<linearGradient id="g51" gradientUnits="userSpaceOnUse" x1="1391.8" y1="772.7" x2="1509.1" y2="1233.5"><stop offset="0.0000" stop-color="#4fff00"/><stop offset="0.0363" stop-color="#3dff00"/><stop offset="0.0730" stop-color="#2bff00"/><stop offset="0.1102" stop-color="#1aff00"/><stop offset="0.1477" stop-color="#08ff00"/><stop offset="0.1857" stop-color="#00ff1e"/><stop offset="0.2242" stop-color="#00ff52"/><stop offset="0.2631" stop-color="#00ff86"/><stop offset="0.3024" stop-color="#00ffb5"/><stop offset="0.3422" stop-color="#00ffe5"/><stop offset="0.3825" stop-color="#00f7ff"/><stop offset="0.4232" stop-color="#00e4ff"/><stop offset="0.4645" stop-color="#00d2ff"/><stop offset="0.5062" stop-color="#00c0ff"/><stop offset="0.5484" stop-color="#00adff"/><stop offset="0.5911" stop-color="#009bff"/><stop offset="0.6344" stop-color="#0088ff"/><stop offset="0.6781" stop-color="#0072ff"/><stop offset="0.7225" stop-color="#0058ff"/><stop offset="0.7673" stop-color="#003eff"/><stop offset="0.8127" stop-color="#0024ff"/><stop offset="0.8587" stop-color="#000aff"/><stop offset="0.9052" stop-color="#1200ff"/><stop offset="0.9523" stop-color="#3000ff"/><stop offset="1.0000" stop-color="#4d00ff"/></linearGradient>
<linearGradient id="g52" gradientUnits="userSpaceOnUse" x1="1402.1" y1="782.1" x2="1518.7" y2="1249.9"><stop offset="0.0000" stop-color="#44ff00"/><stop offset="0.0363" stop-color="#32ff00"/><stop offset="0.0730" stop-color="#20ff00"/><stop offset="0.1102" stop-color="#0eff00"/><stop offset="0.1477" stop-color="#00ff0c"/><stop offset="0.1857" stop-color="#00ff3f"/><stop offset="0.2242" stop-color="#00ff73"/><stop offset="0.2631" stop-color="#00ffa4"/><stop offset="0.3024" stop-color="#00ffd4"/><stop offset="0.3422" stop-color="#00fdff"/><stop offset="0.3825" stop-color="#00ebff"/><stop offset="0.4232" stop-color="#00d9ff"/><stop offset="0.4645" stop-color="#00c6ff"/><stop offset="0.5062" stop-color="#00b4ff"/><stop offset="0.5484" stop-color="#00a2ff"/><stop offset="0.5911" stop-color="#008fff"/><stop offset="0.6344" stop-color="#007cff"/><stop offset="0.6781" stop-color="#0062ff"/><stop offset="0.7224" stop-color="#0048ff"/><stop offset="0.7673" stop-color="#002eff"/><stop offset="0.8127" stop-color="#0014ff"/><stop offset="0.8587" stop-color="#0700ff"/><stop offset="0.9052" stop-color="#2500ff"/><stop offset="0.9523" stop-color="#4200ff"/><stop offset="1.0000" stop-color="#6000ff"/></linearGradient>
<linearGradient id="g53" gradientUnits="userSpaceOnUse" x1="1412.4" y1="791.2" x2="1528.2" y2="1266.3"><stop offset="0.0000" stop-color="#39ff00"/><stop offset="0.0363" stop-color="#27ff00"/><stop offset="0.0730" stop-color="#15ff00"/><stop offset="0.1102" stop-color="#03ff00"/><stop offset="0.1477" stop-color="#00ff2c"/><stop offset="0.1857" stop-color="#00ff5f"/><stop offset="0.2242" stop-color="#00ff92"/><stop offset="0.2631" stop-color="#00ffc1"/><stop offset="0.3024" stop-color="#00fff1"/><stop offset="0.3422" stop-color="#00f2ff"/><stop offset="0.3825" stop-color="#00e0ff"/><stop offset="0.4232" stop-color="#00ceff"/><stop offset="0.4645" stop-color="#00bbff"/><stop offset="0.5062" stop-color="#00a9ff"/><stop offset="0.5484" stop-color="#0096ff"/><stop offset="0.5911" stop-color="#0084ff"/><stop offset="0.6344" stop-color="#006cff"/><stop offset="0.6781" stop-color="#0052ff"/><stop offset="0.7224" stop-color="#0038ff"/><stop offset="0.7673" stop-color="#001eff"/><stop offset="0.8127" stop-color="#0004ff"/><stop offset="0.8587" stop-color="#1900ff"/><stop offset="0.9052" stop-color="#3600ff"/><stop offset="0.9523" stop-color="#5400ff"/><stop offset="1.0000" stop-color="#7200ff"/></linearGradient>
<linearGradient id="g54" gradientUnits="userSpaceOnUse" x1="1422.8" y1="800.2" x2="1537.6" y2="1282.9"><stop offset="0.0000" stop-color="#2eff00"/><stop offset="0.0363" stop-color="#1cff00"/><stop offset="0.0730" stop-color="#0aff00"/><stop offset="0.1102" stop-color="#00ff17"/><stop offset="0.1477" stop-color="#00ff4b"/><stop offset="0.1857" stop-color="#00ff7f"/><stop offset="0.2242" stop-color="#00ffae"/><stop offset="0.2631" stop-color="#00ffde"/><stop offset="0.3024" stop-color="#00f9ff"/><stop offset="0.3422" stop-color="#00e7ff"/><stop offset="0.3825" stop-color="#00d5ff"/><stop offset="0.4232" stop-color="#00c3ff"/><stop offset="0.4645" stop-color="#00b0ff"/><stop offset="0.5062" stop-color="#009eff"/><stop offset="0.5484" stop-color="#008cff"/><stop offset="0.5911" stop-color="#0076ff"/><stop offset="0.6344" stop-color="#005dff"/><stop offset="0.6781" stop-color="#0043ff"/><stop offset="0.7224" stop-color="#0029ff"/><stop offset="0.7673" stop-color="#000fff"/><stop offset="0.8127" stop-color="#0d00ff"/><stop offset="0.8586" stop-color="#2a00ff"/><stop offset="0.9052" stop-color="#4800ff"/><stop offset="0.9523" stop-color="#6600ff"/><stop offset="1.0000" stop-color="#8000fd"/></linearGradient>
<linearGradient id="g55" gradientUnits="userSpaceOnUse" x1="1433.2" y1="809" x2="1546.8" y2="1299.7"><stop offset="0.0000" stop-color="#23ff00"/><stop offset="0.0363" stop-color="#11ff00"/><stop offset="0.0730" stop-color="#00ff01"/><stop offset="0.1102" stop-color="#00ff35"/><stop offset="0.1477" stop-color="#00ff69"/><stop offset="0.1857" stop-color="#00ff9a"/><stop offset="0.2242" stop-color="#00ffca"/><stop offset="0.2631" stop-color="#00fff9"/><stop offset="0.3024" stop-color="#00efff"/><stop offset="0.3422" stop-color="#00ddff"/><stop offset="0.3825" stop-color="#00caff"/><stop offset="0.4232" stop-color="#00b8ff"/><stop offset="0.4645" stop-color="#00a6ff"/><stop offset="0.5062" stop-color="#0093ff"/><stop offset="0.5484" stop-color="#0081ff"/><stop offset="0.5911" stop-color="#0068ff"/><stop offset="0.6344" stop-color="#004eff"/><stop offset="0.6781" stop-color="#0034ff"/><stop offset="0.7224" stop-color="#001aff"/><stop offset="0.7673" stop-color="#0000ff"/><stop offset="0.8127" stop-color="#1d00ff"/><stop offset="0.8586" stop-color="#3b00ff"/><stop offset="0.9052" stop-color="#5900ff"/><stop offset="0.9523" stop-color="#7600ff"/><stop offset="1.0000" stop-color="#8000f5"/></linearGradient>
<linearGradient id="g56" gradientUnits="userSpaceOnUse" x1="1443.6" y1="817.6" x2="1555.7" y2="1316.7"><stop offset="0.0000" stop-color="#19ff00"/><stop offset="0.0363" stop-color="#07ff00"/><stop offset="0.0730" stop-color="#00ff1f"/><stop offset="0.1102" stop-color="#00ff52"/><stop offset="0.1477" stop-color="#00ff85"/><stop offset="0.1857" stop-color="#00ffb5"/><stop offset="0.2242" stop-color="#00ffe4"/><stop offset="0.2631" stop-color="#00f7ff"/><stop offset="0.3024" stop-color="#00e5ff"/><stop offset="0.3422" stop-color="#00d2ff"/><stop offset="0.3825" stop-color="#00c0ff"/><stop offset="0.4232" stop-color="#00aeff"/><stop offset="0.4644" stop-color="#009cff"/><stop offset="0.5062" stop-color="#0089ff"/><stop offset="0.5484" stop-color="#0073ff"/><stop offset="0.5911" stop-color="#0059ff"/><stop offset="0.6344" stop-color="#0040ff"/><stop offset="0.6781" stop-color="#0026ff"/><stop offset="0.7224" stop-color="#000cff"/><stop offset="0.7673" stop-color="#1000ff"/><stop offset="0.8127" stop-color="#2e00ff"/><stop offset="0.8586" stop-color="#4b00ff"/><stop offset="0.9052" stop-color="#6900ff"/><stop offset="0.9523" stop-color="#8000fc"/><stop offset="1.0000" stop-color="#8000ee"/></linearGradient>
<linearGradient id="g57" gradientUnits="userSpaceOnUse" x1="1454" y1="826" x2="1564.5" y2="1334"><stop offset="0.0000" stop-color="#0fff00"/><stop offset="0.0363" stop-color="#00ff07"/><stop offset="0.0730" stop-color="#00ff3b"/><stop offset="0.1102" stop-color="#00ff6e"/><stop offset="0.1477" stop-color="#00ff9f"/><stop offset="0.1857" stop-color="#00ffcf"/><stop offset="0.2242" stop-color="#00fffe"/><stop offset="0.2631" stop-color="#00edff"/><stop offset="0.3024" stop-color="#00dbff"/><stop offset="0.3422" stop-color="#00c9ff"/><stop offset="0.3825" stop-color="#00b6ff"/><stop offset="0.4232" stop-color="#00a4ff"/><stop offset="0.4644" stop-color="#0092ff"/><stop offset="0.5062" stop-color="#007fff"/><stop offset="0.5484" stop-color="#0065ff"/><stop offset="0.5911" stop-color="#004cff"/><stop offset="0.6344" stop-color="#0032ff"/><stop offset="0.6781" stop-color="#0018ff"/><stop offset="0.7224" stop-color="#0200ff"/><stop offset="0.7673" stop-color="#2000ff"/><stop offset="0.8127" stop-color="#3d00ff"/><stop offset="0.8586" stop-color="#5b00ff"/><stop offset="0.9052" stop-color="#7900ff"/><stop offset="0.9523" stop-color="#8000f4"/><stop offset="1.0000" stop-color="#8000e6"/></linearGradient>
<linearGradient id="g58" gradientUnits="userSpaceOnUse" x1="1464.5" y1="834.3" x2="1573" y2="1351.4"><stop offset="0.0000" stop-color="#06ff00"/><stop offset="0.0363" stop-color="#00ff22"/><stop offset="0.0730" stop-color="#00ff56"/><stop offset="0.1102" stop-color="#00ff88"/><stop offset="0.1477" stop-color="#00ffb8"/><stop offset="0.1857" stop-color="#00ffe7"/><stop offset="0.2242" stop-color="#00f6ff"/><stop offset="0.2631" stop-color="#00e4ff"/><stop offset="0.3024" stop-color="#00d1ff"/><stop offset="0.3422" stop-color="#00bfff"/><stop offset="0.3825" stop-color="#00adff"/><stop offset="0.4232" stop-color="#009bff"/><stop offset="0.4644" stop-color="#0088ff"/><stop offset="0.5062" stop-color="#0072ff"/><stop offset="0.5484" stop-color="#0058ff"/><stop offset="0.5911" stop-color="#003eff"/><stop offset="0.6344" stop-color="#0025ff"/><stop offset="0.6781" stop-color="#000bff"/><stop offset="0.7224" stop-color="#1100ff"/><stop offset="0.7673" stop-color="#2f00ff"/><stop offset="0.8127" stop-color="#4c00ff"/><stop offset="0.8586" stop-color="#6a00ff"/><stop offset="0.9052" stop-color="#8000fb"/><stop offset="0.9523" stop-color="#8000ed"/><stop offset="1.0000" stop-color="#8000df"/></linearGradient>
<linearGradient id="g59" gradientUnits="userSpaceOnUse" x1="1475" y1="842.4" x2="1581.2" y2="1369.1"><stop offset="0.0000" stop-color="#00ff09"/><stop offset="0.0363" stop-color="#00ff3c"/><stop offset="0.0730" stop-color="#00ff70"/><stop offset="0.1102" stop-color="#00ffa0"/><stop offset="0.1477" stop-color="#00ffd0"/><stop offset="0.1857" stop-color="#00ffff"/><stop offset="0.2242" stop-color="#00edff"/><stop offset="0.2631" stop-color="#00dbff"/><stop offset="0.3024" stop-color="#00c8ff"/><stop offset="0.3422" stop-color="#00b6ff"/><stop offset="0.3825" stop-color="#00a4ff"/><stop offset="0.4232" stop-color="#0091ff"/><stop offset="0.4644" stop-color="#007fff"/><stop offset="0.5062" stop-color="#0065ff"/><stop offset="0.5484" stop-color="#004bff"/><stop offset="0.5911" stop-color="#0032ff"/><stop offset="0.6343" stop-color="#0018ff"/><stop offset="0.6781" stop-color="#0200ff"/><stop offset="0.7224" stop-color="#2000ff"/><stop offset="0.7673" stop-color="#3d00ff"/><stop offset="0.8127" stop-color="#5b00ff"/><stop offset="0.8586" stop-color="#7900ff"/><stop offset="0.9052" stop-color="#8000f4"/><stop offset="0.9523" stop-color="#8000e6"/><stop offset="1.0000" stop-color="#8000d8"/></linearGradient>
<linearGradient id="g60" gradientUnits="userSpaceOnUse" x1="1485.5" y1="850.3" x2="1589.1" y2="1387.1"><stop offset="0.0000" stop-color="#00ff22"/><stop offset="0.0363" stop-color="#00ff55"/><stop offset="0.0730" stop-color="#00ff88"/><stop offset="0.1102" stop-color="#00ffb7"/><stop offset="0.1477" stop-color="#00ffe7"/><stop offset="0.1857" stop-color="#00f6ff"/><stop offset="0.2242" stop-color="#00e4ff"/><stop offset="0.2631" stop-color="#00d2ff"/><stop offset="0.3024" stop-color="#00c0ff"/><stop offset="0.3422" stop-color="#00adff"/><stop offset="0.3825" stop-color="#009bff"/><stop offset="0.4232" stop-color="#0089ff"/><stop offset="0.4644" stop-color="#0073ff"/><stop offset="0.5062" stop-color="#0059ff"/><stop offset="0.5484" stop-color="#003fff"/><stop offset="0.5911" stop-color="#0025ff"/><stop offset="0.6343" stop-color="#000bff"/><stop offset="0.6781" stop-color="#1000ff"/><stop offset="0.7224" stop-color="#2e00ff"/><stop offset="0.7673" stop-color="#4b00ff"/><stop offset="0.8127" stop-color="#6900ff"/><stop offset="0.8586" stop-color="#8000fc"/><stop offset="0.9052" stop-color="#8000ee"/><stop offset="0.9523" stop-color="#8000df"/><stop offset="1.0000" stop-color="#8000d1"/></linearGradient>
<linearGradient id="g61" gradientUnits="userSpaceOnUse" x1="1496" y1="858" x2="1596.6" y2="1405.4"><stop offset="0.0000" stop-color="#00ff39"/><stop offset="0.0363" stop-color="#00ff6d"/><stop offset="0.0730" stop-color="#00ff9e"/><stop offset="0.1102" stop-color="#00ffcd"/><stop offset="0.1477" stop-color="#00fffd"/><stop offset="0.1857" stop-color="#00eeff"/><stop offset="0.2242" stop-color="#00dcff"/><stop offset="0.2631" stop-color="#00c9ff"/><stop offset="0.3024" stop-color="#00b7ff"/><stop offset="0.3422" stop-color="#00a5ff"/><stop offset="0.3825" stop-color="#0093ff"/><stop offset="0.4232" stop-color="#0080ff"/><stop offset="0.4644" stop-color="#0067ff"/><stop offset="0.5061" stop-color="#004dff"/><stop offset="0.5484" stop-color="#0033ff"/><stop offset="0.5911" stop-color="#001aff"/><stop offset="0.6343" stop-color="#0000ff"/><stop offset="0.6781" stop-color="#1e00ff"/><stop offset="0.7224" stop-color="#3b00ff"/><stop offset="0.7673" stop-color="#5900ff"/><stop offset="0.8127" stop-color="#7600ff"/><stop offset="0.8586" stop-color="#8000f5"/><stop offset="0.9052" stop-color="#8000e7"/><stop offset="0.9523" stop-color="#8000d9"/><stop offset="1.0000" stop-color="#8000cb"/></linearGradient>
<linearGradient id="g62" gradientUnits="userSpaceOnUse" x1="1506.5" y1="865.6" x2="1603.7" y2="1424"><stop offset="0.0000" stop-color="#00ff50"/><stop offset="0.0363" stop-color="#00ff84"/><stop offset="0.0730" stop-color="#00ffb3"/><stop offset="0.1102" stop-color="#00ffe2"/><stop offset="0.1477" stop-color="#00f8ff"/><stop offset="0.1857" stop-color="#00e6ff"/><stop offset="0.2242" stop-color="#00d4ff"/><stop offset="0.2630" stop-color="#00c1ff"/><stop offset="0.3024" stop-color="#00afff"/><stop offset="0.3422" stop-color="#009dff"/><stop offset="0.3825" stop-color="#008bff"/><stop offset="0.4232" stop-color="#0075ff"/><stop offset="0.4644" stop-color="#005bff"/><stop offset="0.5061" stop-color="#0042ff"/><stop offset="0.5484" stop-color="#0028ff"/><stop offset="0.5911" stop-color="#000eff"/><stop offset="0.6343" stop-color="#0d00ff"/><stop offset="0.6781" stop-color="#2b00ff"/><stop offset="0.7224" stop-color="#4800ff"/><stop offset="0.7673" stop-color="#6600ff"/><stop offset="0.8127" stop-color="#8000fd"/><stop offset="0.8586" stop-color="#8000ef"/><stop offset="0.9052" stop-color="#8000e1"/><stop offset="0.9523" stop-color="#8000d3"/><stop offset="1.0000" stop-color="#8000c4"/></linearGradient>
<linearGradient id="g63" gradientUnits="userSpaceOnUse" x1="1517.1" y1="872.9" x2="1610.3" y2="1443"><stop offset="0.0000" stop-color="#00ff66"/><stop offset="0.0363" stop-color="#00ff98"/><stop offset="0.0730" stop-color="#00ffc7"/><stop offset="0.1102" stop-color="#00fff6"/><stop offset="0.1477" stop-color="#00f0ff"/><stop offset="0.1857" stop-color="#00deff"/><stop offset="0.2242" stop-color="#00ccff"/><stop offset="0.2630" stop-color="#00baff"/><stop offset="0.3024" stop-color="#00a7ff"/><stop offset="0.3422" stop-color="#0095ff"/><stop offset="0.3824" stop-color="#0083ff"/><stop offset="0.4232" stop-color="#006aff"/><stop offset="0.4644" stop-color="#0051ff"/><stop offset="0.5061" stop-color="#0037ff"/><stop offset="0.5484" stop-color="#001dff"/><stop offset="0.5911" stop-color="#0003ff"/><stop offset="0.6343" stop-color="#1900ff"/><stop offset="0.6781" stop-color="#3700ff"/><stop offset="0.7224" stop-color="#5400ff"/><stop offset="0.7673" stop-color="#7200ff"/><stop offset="0.8127" stop-color="#8000f8"/><stop offset="0.8586" stop-color="#8000e9"/><stop offset="0.9052" stop-color="#8000db"/><stop offset="0.9523" stop-color="#8000cd"/><stop offset="1.0000" stop-color="#8000bf"/></linearGradient>
<linearGradient id="g64" gradientUnits="userSpaceOnUse" x1="1527.7" y1="880.1" x2="1616.4" y2="1462.3"><stop offset="0.0000" stop-color="#00ff7b"/><stop offset="0.0363" stop-color="#00ffab"/><stop offset="0.0730" stop-color="#00ffda"/><stop offset="0.1102" stop-color="#00fbff"/><stop offset="0.1477" stop-color="#00e9ff"/><stop offset="0.1857" stop-color="#00d7ff"/><stop offset="0.2242" stop-color="#00c5ff"/><stop offset="0.2630" stop-color="#00b2ff"/><stop offset="0.3024" stop-color="#00a0ff"/><stop offset="0.3422" stop-color="#008eff"/><stop offset="0.3824" stop-color="#007aff"/><stop offset="0.4232" stop-color="#0060ff"/><stop offset="0.4644" stop-color="#0046ff"/><stop offset="0.5061" stop-color="#002dff"/><stop offset="0.5483" stop-color="#0013ff"/><stop offset="0.5911" stop-color="#0800ff"/><stop offset="0.6343" stop-color="#2500ff"/><stop offset="0.6781" stop-color="#4300ff"/><stop offset="0.7224" stop-color="#6000ff"/><stop offset="0.7672" stop-color="#7e00ff"/><stop offset="0.8126" stop-color="#8000f2"/><stop offset="0.8586" stop-color="#8000e4"/><stop offset="0.9052" stop-color="#8000d5"/><stop offset="0.9523" stop-color="#8000c7"/><stop offset="1.0000" stop-color="#8000b9"/></linearGradient>
<linearGradient id="g65" gradientUnits="userSpaceOnUse" x1="1538.3" y1="887.1" x2="1621.9" y2="1482.1"><stop offset="0.0000" stop-color="#00ff8e"/><stop offset="0.0363" stop-color="#00ffbd"/><stop offset="0.0730" stop-color="#00ffec"/><stop offset="0.1102" stop-color="#00f4ff"/><stop offset="0.1477" stop-color="#00e2ff"/><stop offset="0.1857" stop-color="#00d0ff"/><stop offset="0.2242" stop-color="#00beff"/><stop offset="0.2630" stop-color="#00abff"/><stop offset="0.3024" stop-color="#0099ff"/><stop offset="0.3422" stop-color="#0087ff"/><stop offset="0.3824" stop-color="#0070ff"/><stop offset="0.4232" stop-color="#0056ff"/><stop offset="0.4644" stop-color="#003dff"/><stop offset="0.5061" stop-color="#0023ff"/><stop offset="0.5483" stop-color="#0009ff"/><stop offset="0.5911" stop-color="#1300ff"/><stop offset="0.6343" stop-color="#3000ff"/><stop offset="0.6781" stop-color="#4e00ff"/><stop offset="0.7224" stop-color="#6b00ff"/><stop offset="0.7672" stop-color="#8000fb"/><stop offset="0.8126" stop-color="#8000ed"/><stop offset="0.8586" stop-color="#8000de"/><stop offset="0.9052" stop-color="#8000d0"/><stop offset="0.9523" stop-color="#8000c2"/><stop offset="1.0000" stop-color="#8000b4"/></linearGradient>
<linearGradient id="g66" gradientUnits="userSpaceOnUse" x1="1549" y1="893.9" x2="1626.7" y2="1502.2"><stop offset="0.0000" stop-color="#00ff9f"/><stop offset="0.0363" stop-color="#00ffcf"/><stop offset="0.0730" stop-color="#00fffe"/><stop offset="0.1102" stop-color="#00edff"/><stop offset="0.1477" stop-color="#00dbff"/><stop offset="0.1857" stop-color="#00c9ff"/><stop offset="0.2242" stop-color="#00b7ff"/><stop offset="0.2630" stop-color="#00a5ff"/><stop offset="0.3024" stop-color="#0092ff"/><stop offset="0.3422" stop-color="#0080ff"/><stop offset="0.3824" stop-color="#0067ff"/><stop offset="0.4232" stop-color="#004dff"/><stop offset="0.4644" stop-color="#0033ff"/><stop offset="0.5061" stop-color="#001aff"/><stop offset="0.5483" stop-color="#0000ff"/><stop offset="0.5911" stop-color="#1d00ff"/><stop offset="0.6343" stop-color="#3b00ff"/><stop offset="0.6781" stop-color="#5800ff"/><stop offset="0.7224" stop-color="#7600ff"/><stop offset="0.7672" stop-color="#8000f6"/><stop offset="0.8126" stop-color="#8000e8"/><stop offset="0.8586" stop-color="#8000d9"/><stop offset="0.9052" stop-color="#8000cb"/><stop offset="0.9523" stop-color="#8000bd"/><stop offset="1.0000" stop-color="#8000af"/></linearGradient>
<linearGradient id="g67" gradientUnits="userSpaceOnUse" x1="1559.7" y1="900.6" x2="1630.8" y2="1522.8"><stop offset="0.0000" stop-color="#00ffb0"/><stop offset="0.0363" stop-color="#00ffdf"/><stop offset="0.0730" stop-color="#00f9ff"/><stop offset="0.1102" stop-color="#00e7ff"/><stop offset="0.1477" stop-color="#00d5ff"/><stop offset="0.1857" stop-color="#00c3ff"/><stop offset="0.2241" stop-color="#00b1ff"/><stop offset="0.2630" stop-color="#009eff"/><stop offset="0.3024" stop-color="#008cff"/><stop offset="0.3422" stop-color="#0077ff"/><stop offset="0.3824" stop-color="#005eff"/><stop offset="0.4232" stop-color="#0044ff"/><stop offset="0.4644" stop-color="#002bff"/><stop offset="0.5061" stop-color="#0011ff"/><stop offset="0.5483" stop-color="#0a00ff"/><stop offset="0.5910" stop-color="#2700ff"/><stop offset="0.6343" stop-color="#4500ff"/><stop offset="0.6781" stop-color="#6200ff"/><stop offset="0.7224" stop-color="#8000ff"/><stop offset="0.7672" stop-color="#8000f1"/><stop offset="0.8126" stop-color="#8000e3"/><stop offset="0.8586" stop-color="#8000d5"/><stop offset="0.9051" stop-color="#8000c6"/><stop offset="0.9523" stop-color="#8000b8"/><stop offset="1.0000" stop-color="#8000aa"/></linearGradient>
<linearGradient id="g68" gradientUnits="userSpaceOnUse" x1="1570.4" y1="907.1" x2="1634" y2="1543.9"><stop offset="0.0000" stop-color="#00ffbf"/><stop offset="0.0363" stop-color="#00ffee"/><stop offset="0.0730" stop-color="#00f3ff"/><stop offset="0.1102" stop-color="#00e1ff"/><stop offset="0.1477" stop-color="#00cfff"/><stop offset="0.1857" stop-color="#00bdff"/><stop offset="0.2241" stop-color="#00abff"/><stop offset="0.2630" stop-color="#0098ff"/><stop offset="0.3024" stop-color="#0086ff"/><stop offset="0.3421" stop-color="#006fff"/><stop offset="0.3824" stop-color="#0056ff"/><stop offset="0.4232" stop-color="#003cff"/><stop offset="0.4644" stop-color="#0022ff"/><stop offset="0.5061" stop-color="#0009ff"/><stop offset="0.5483" stop-color="#1400ff"/><stop offset="0.5910" stop-color="#3100ff"/><stop offset="0.6343" stop-color="#4e00ff"/><stop offset="0.6781" stop-color="#6c00ff"/><stop offset="0.7224" stop-color="#8000fb"/><stop offset="0.7672" stop-color="#8000ec"/><stop offset="0.8126" stop-color="#8000de"/><stop offset="0.8586" stop-color="#8000d0"/><stop offset="0.9051" stop-color="#8000c2"/><stop offset="0.9523" stop-color="#8000b3"/><stop offset="1.0000" stop-color="#8000a5"/></linearGradient>
<linearGradient id="g69" gradientUnits="userSpaceOnUse" x1="1581.1" y1="913.3" x2="1636.2" y2="1565.4"><stop offset="0.0000" stop-color="#00ffce"/><stop offset="0.0363" stop-color="#00fffd"/><stop offset="0.0730" stop-color="#00eeff"/><stop offset="0.1102" stop-color="#00dcff"/><stop offset="0.1477" stop-color="#00c9ff"/><stop offset="0.1857" stop-color="#00b7ff"/><stop offset="0.2241" stop-color="#00a5ff"/><stop offset="0.2630" stop-color="#0093ff"/><stop offset="0.3023" stop-color="#0081ff"/><stop offset="0.3421" stop-color="#0067ff"/><stop offset="0.3824" stop-color="#004eff"/><stop offset="0.4231" stop-color="#0034ff"/><stop offset="0.4644" stop-color="#001bff"/><stop offset="0.5061" stop-color="#0001ff"/><stop offset="0.5483" stop-color="#1c00ff"/><stop offset="0.5910" stop-color="#3a00ff"/><stop offset="0.6343" stop-color="#5700ff"/><stop offset="0.6781" stop-color="#7500ff"/><stop offset="0.7224" stop-color="#8000f6"/><stop offset="0.7672" stop-color="#8000e8"/><stop offset="0.8126" stop-color="#8000da"/><stop offset="0.8586" stop-color="#8000cc"/><stop offset="0.9051" stop-color="#8000bd"/><stop offset="0.9523" stop-color="#8000af"/><stop offset="1.0000" stop-color="#8000a1"/></linearGradient>
<linearGradient id="g70" gradientUnits="userSpaceOnUse" x1="1591.9" y1="919.4" x2="1637.3" y2="1587.3"><stop offset="0.0000" stop-color="#00ffdb"/><stop offset="0.0363" stop-color="#00fbff"/><stop offset="0.0730" stop-color="#00e9ff"/><stop offset="0.1101" stop-color="#00d6ff"/><stop offset="0.1477" stop-color="#00c4ff"/><stop offset="0.1857" stop-color="#00b2ff"/><stop offset="0.2241" stop-color="#00a0ff"/><stop offset="0.2630" stop-color="#008eff"/><stop offset="0.3023" stop-color="#007aff"/><stop offset="0.3421" stop-color="#0060ff"/><stop offset="0.3824" stop-color="#0047ff"/><stop offset="0.4231" stop-color="#002dff"/><stop offset="0.4644" stop-color="#0013ff"/><stop offset="0.5061" stop-color="#0700ff"/><stop offset="0.5483" stop-color="#2500ff"/><stop offset="0.5910" stop-color="#4200ff"/><stop offset="0.6343" stop-color="#6000ff"/><stop offset="0.6780" stop-color="#7d00ff"/><stop offset="0.7224" stop-color="#8000f2"/><stop offset="0.7672" stop-color="#8000e4"/><stop offset="0.8126" stop-color="#8000d6"/><stop offset="0.8586" stop-color="#8000c8"/><stop offset="0.9051" stop-color="#8000b9"/><stop offset="0.9523" stop-color="#8000ab"/><stop offset="1.0000" stop-color="#80009d"/></linearGradient>
<linearGradient id="g71" gradientUnits="userSpaceOnUse" x1="1602.7" y1="925.4" x2="1637.2" y2="1609.7"><stop offset="0.0000" stop-color="#00ffe8"/><stop offset="0.0363" stop-color="#00f6ff"/><stop offset="0.0730" stop-color="#00e4ff"/><stop offset="0.1101" stop-color="#00d2ff"/><stop offset="0.1477" stop-color="#00bfff"/><stop offset="0.1857" stop-color="#00adff"/><stop offset="0.2241" stop-color="#009bff"/><stop offset="0.2630" stop-color="#0089ff"/><stop offset="0.3023" stop-color="#0073ff"/><stop offset="0.3421" stop-color="#0059ff"/><stop offset="0.3824" stop-color="#0040ff"/><stop offset="0.4231" stop-color="#0026ff"/><stop offset="0.4644" stop-color="#000cff"/><stop offset="0.5061" stop-color="#0f00ff"/><stop offset="0.5483" stop-color="#2c00ff"/><stop offset="0.5910" stop-color="#4a00ff"/><stop offset="0.6343" stop-color="#6700ff"/><stop offset="0.6780" stop-color="#8000fd"/><stop offset="0.7223" stop-color="#8000ef"/><stop offset="0.7672" stop-color="#8000e0"/><stop offset="0.8126" stop-color="#8000d2"/><stop offset="0.8586" stop-color="#8000c4"/><stop offset="0.9051" stop-color="#8000b6"/><stop offset="0.9523" stop-color="#8000a8"/><stop offset="1.0000" stop-color="#800099"/></linearGradient>
<linearGradient id="g72" gradientUnits="userSpaceOnUse" x1="1613.5" y1="931.1" x2="1635.6" y2="1632.5"><stop offset="0.0000" stop-color="#00fff4"/><stop offset="0.0363" stop-color="#00f1ff"/><stop offset="0.0730" stop-color="#00dfff"/><stop offset="0.1101" stop-color="#00cdff"/><stop offset="0.1477" stop-color="#00bbff"/><stop offset="0.1857" stop-color="#00a9ff"/><stop offset="0.2241" stop-color="#0097ff"/><stop offset="0.2630" stop-color="#0084ff"/><stop offset="0.3023" stop-color="#006dff"/><stop offset="0.3421" stop-color="#0053ff"/><stop offset="0.3824" stop-color="#0039ff"/><stop offset="0.4231" stop-color="#0020ff"/><stop offset="0.4643" stop-color="#0006ff"/><stop offset="0.5061" stop-color="#1600ff"/><stop offset="0.5483" stop-color="#3400ff"/><stop offset="0.5910" stop-color="#5100ff"/><stop offset="0.6343" stop-color="#6e00ff"/><stop offset="0.6780" stop-color="#8000f9"/><stop offset="0.7223" stop-color="#8000eb"/><stop offset="0.7672" stop-color="#8000dd"/><stop offset="0.8126" stop-color="#8000cf"/><stop offset="0.8586" stop-color="#8000c1"/><stop offset="0.9051" stop-color="#8000b2"/><stop offset="0.9523" stop-color="#8000a4"/><stop offset="1.0000" stop-color="#800096"/></linearGradient>
<linearGradient id="g73" gradientUnits="userSpaceOnUse" x1="1624.4" y1="936.7" x2="1632.5" y2="1655.7"><stop offset="0.0000" stop-color="#00ffff"/><stop offset="0.0363" stop-color="#00edff"/><stop offset="0.0730" stop-color="#00dbff"/><stop offset="0.1101" stop-color="#00c9ff"/><stop offset="0.1477" stop-color="#00b7ff"/><stop offset="0.1857" stop-color="#00a5ff"/><stop offset="0.2241" stop-color="#0092ff"/><stop offset="0.2630" stop-color="#0080ff"/><stop offset="0.3023" stop-color="#0067ff"/><stop offset="0.3421" stop-color="#004dff"/><stop offset="0.3824" stop-color="#0034ff"/><stop offset="0.4231" stop-color="#001aff"/><stop offset="0.4643" stop-color="#0000ff"/><stop offset="0.5061" stop-color="#1d00ff"/><stop offset="0.5483" stop-color="#3a00ff"/><stop offset="0.5910" stop-color="#5800ff"/><stop offset="0.6342" stop-color="#7500ff"/><stop offset="0.6780" stop-color="#8000f6"/><stop offset="0.7223" stop-color="#8000e8"/><stop offset="0.7672" stop-color="#8000da"/><stop offset="0.8126" stop-color="#8000cc"/><stop offset="0.8586" stop-color="#8000bd"/><stop offset="0.9051" stop-color="#8000af"/><stop offset="0.9523" stop-color="#8000a1"/><stop offset="1.0000" stop-color="#800093"/></linearGradient>
<linearGradient id="g74" gradientUnits="userSpaceOnUse" x1="1635.3" y1="942" x2="1627.5" y2="1679.2"><stop offset="0.0000" stop-color="#00fbff"/><stop offset="0.0363" stop-color="#00e9ff"/><stop offset="0.0730" stop-color="#00d7ff"/><stop offset="0.1101" stop-color="#00c5ff"/><stop offset="0.1477" stop-color="#00b3ff"/><stop offset="0.1857" stop-color="#00a1ff"/><stop offset="0.2241" stop-color="#008fff"/><stop offset="0.2630" stop-color="#007bff"/><stop offset="0.3023" stop-color="#0062ff"/><stop offset="0.3421" stop-color="#0048ff"/><stop offset="0.3824" stop-color="#002eff"/><stop offset="0.4231" stop-color="#0015ff"/><stop offset="0.4643" stop-color="#0600ff"/><stop offset="0.5060" stop-color="#2300ff"/><stop offset="0.5483" stop-color="#4000ff"/><stop offset="0.5910" stop-color="#5e00ff"/><stop offset="0.6342" stop-color="#7b00ff"/><stop offset="0.6780" stop-color="#8000f3"/><stop offset="0.7223" stop-color="#8000e5"/><stop offset="0.7672" stop-color="#8000d7"/><stop offset="0.8126" stop-color="#8000c9"/><stop offset="0.8586" stop-color="#8000ba"/><stop offset="0.9051" stop-color="#8000ac"/><stop offset="0.9523" stop-color="#80009e"/><stop offset="1.0000" stop-color="#800090"/></linearGradient>
<linearGradient id="g75" gradientUnits="userSpaceOnUse" x1="1646.2" y1="947.2" x2="1620.6" y2="1703"><stop offset="0.0000" stop-color="#00f8ff"/><stop offset="0.0363" stop-color="#00e6ff"/><stop offset="0.0730" stop-color="#00d4ff"/><stop offset="0.1101" stop-color="#00c2ff"/><stop offset="0.1477" stop-color="#00b0ff"/><stop offset="0.1857" stop-color="#009dff"/><stop offset="0.2241" stop-color="#008bff"/><stop offset="0.2630" stop-color="#0076ff"/><stop offset="0.3023" stop-color="#005dff"/><stop offset="0.3421" stop-color="#0043ff"/><stop offset="0.3824" stop-color="#002aff"/><stop offset="0.4231" stop-color="#0010ff"/><stop offset="0.4643" stop-color="#0b00ff"/><stop offset="0.5060" stop-color="#2800ff"/><stop offset="0.5483" stop-color="#4600ff"/><stop offset="0.5910" stop-color="#6300ff"/><stop offset="0.6342" stop-color="#8000ff"/><stop offset="0.6780" stop-color="#8000f1"/><stop offset="0.7223" stop-color="#8000e2"/><stop offset="0.7672" stop-color="#8000d4"/><stop offset="0.8126" stop-color="#8000c6"/><stop offset="0.8586" stop-color="#8000b8"/><stop offset="0.9051" stop-color="#8000aa"/><stop offset="0.9523" stop-color="#80009b"/><stop offset="1.0000" stop-color="#80008d"/></linearGradient>
<linearGradient id="g76" gradientUnits="userSpaceOnUse" x1="1657.1" y1="952.2" x2="1611.4" y2="1726.8"><stop offset="0.0000" stop-color="#00f5ff"/><stop offset="0.0363" stop-color="#00e3ff"/><stop offset="0.0730" stop-color="#00d1ff"/><stop offset="0.1101" stop-color="#00bfff"/><stop offset="0.1477" stop-color="#00adff"/><stop offset="0.1857" stop-color="#009aff"/><stop offset="0.2241" stop-color="#0088ff"/><stop offset="0.2630" stop-color="#0072ff"/><stop offset="0.3023" stop-color="#0058ff"/><stop offset="0.3421" stop-color="#003fff"/><stop offset="0.3823" stop-color="#0025ff"/><stop offset="0.4231" stop-color="#000cff"/><stop offset="0.4643" stop-color="#1000ff"/><stop offset="0.5060" stop-color="#2d00ff"/><stop offset="0.5482" stop-color="#4b00ff"/><stop offset="0.5910" stop-color="#6800ff"/><stop offset="0.6342" stop-color="#8000fc"/><stop offset="0.6780" stop-color="#8000ee"/><stop offset="0.7223" stop-color="#8000e0"/><stop offset="0.7672" stop-color="#8000d2"/><stop offset="0.8126" stop-color="#8000c4"/><stop offset="0.8586" stop-color="#8000b6"/><stop offset="0.9051" stop-color="#8000a7"/><stop offset="0.9523" stop-color="#800099"/><stop offset="1.0000" stop-color="#80008b"/></linearGradient>
<linearGradient id="g77" gradientUnits="userSpaceOnUse" x1="1668.1" y1="957.1" x2="1599.7" y2="1750.5"><stop offset="0.0000" stop-color="#00f2ff"/><stop offset="0.0363" stop-color="#00e0ff"/><stop offset="0.0730" stop-color="#00ceff"/><stop offset="0.1101" stop-color="#00bcff"/><stop offset="0.1477" stop-color="#00aaff"/><stop offset="0.1857" stop-color="#0098ff"/><stop offset="0.2241" stop-color="#0085ff"/><stop offset="0.2630" stop-color="#006eff"/><stop offset="0.3023" stop-color="#0055ff"/><stop offset="0.3421" stop-color="#003bff"/><stop offset="0.3823" stop-color="#0021ff"/><stop offset="0.4231" stop-color="#0008ff"/><stop offset="0.4643" stop-color="#1400ff"/><stop offset="0.5060" stop-color="#3200ff"/><stop offset="0.5482" stop-color="#4f00ff"/><stop offset="0.5910" stop-color="#6c00ff"/><stop offset="0.6342" stop-color="#8000fa"/><stop offset="0.6780" stop-color="#8000ec"/><stop offset="0.7223" stop-color="#8000de"/><stop offset="0.7672" stop-color="#8000d0"/><stop offset="0.8126" stop-color="#8000c2"/><stop offset="0.8586" stop-color="#8000b3"/><stop offset="0.9051" stop-color="#8000a5"/><stop offset="0.9523" stop-color="#800097"/><stop offset="1.0000" stop-color="#800089"/></linearGradient>
<linearGradient id="g78" gradientUnits="userSpaceOnUse" x1="1679.2" y1="961.7" x2="1585.2" y2="1773.9"><stop offset="0.0000" stop-color="#00f0ff"/><stop offset="0.0363" stop-color="#00deff"/><stop offset="0.0730" stop-color="#00ccff"/><stop offset="0.1101" stop-color="#00baff"/><stop offset="0.1477" stop-color="#00a7ff"/><stop offset="0.1857" stop-color="#0095ff"/><stop offset="0.2241" stop-color="#0083ff"/><stop offset="0.2630" stop-color="#006bff"/><stop offset="0.3023" stop-color="#0051ff"/><stop offset="0.3421" stop-color="#0038ff"/><stop offset="0.3823" stop-color="#001eff"/><stop offset="0.4231" stop-color="#0005ff"/><stop offset="0.4643" stop-color="#1800ff"/><stop offset="0.5060" stop-color="#3500ff"/><stop offset="0.5482" stop-color="#5300ff"/><stop offset="0.5909" stop-color="#7000ff"/><stop offset="0.6342" stop-color="#8000f8"/><stop offset="0.6780" stop-color="#8000ea"/><stop offset="0.7223" stop-color="#8000dc"/><stop offset="0.7671" stop-color="#8000ce"/><stop offset="0.8126" stop-color="#8000c0"/><stop offset="0.8585" stop-color="#8000b2"/><stop offset="0.9051" stop-color="#8000a3"/><stop offset="0.9523" stop-color="#800095"/><stop offset="1.0000" stop-color="#800087"/></linearGradient>
<linearGradient id="g79" gradientUnits="userSpaceOnUse" x1="1690.2" y1="966.2" x2="1567.6" y2="1796.7"><stop offset="0.0000" stop-color="#00eeff"/><stop offset="0.0363" stop-color="#00dcff"/><stop offset="0.0730" stop-color="#00caff"/><stop offset="0.1101" stop-color="#00b8ff"/><stop offset="0.1477" stop-color="#00a5ff"/><stop offset="0.1857" stop-color="#0093ff"/><stop offset="0.2241" stop-color="#0081ff"/><stop offset="0.2630" stop-color="#0068ff"/><stop offset="0.3023" stop-color="#004fff"/><stop offset="0.3421" stop-color="#0035ff"/><stop offset="0.3823" stop-color="#001bff"/><stop offset="0.4231" stop-color="#0002ff"/><stop offset="0.4643" stop-color="#1b00ff"/><stop offset="0.5060" stop-color="#3900ff"/><stop offset="0.5482" stop-color="#5600ff"/><stop offset="0.5909" stop-color="#7300ff"/><stop offset="0.6342" stop-color="#8000f7"/><stop offset="0.6780" stop-color="#8000e9"/><stop offset="0.7223" stop-color="#8000db"/><stop offset="0.7671" stop-color="#8000cc"/><stop offset="0.8126" stop-color="#8000be"/><stop offset="0.8585" stop-color="#8000b0"/><stop offset="0.9051" stop-color="#8000a2"/><stop offset="0.9523" stop-color="#800094"/><stop offset="1.0000" stop-color="#800085"/></linearGradient>
<linearGradient id="g80" gradientUnits="userSpaceOnUse" x1="1701.3" y1="970.4" x2="1546.8" y2="1818.5"><stop offset="0.0000" stop-color="#00ecff"/><stop offset="0.0363" stop-color="#00daff"/><stop offset="0.0730" stop-color="#00c8ff"/><stop offset="0.1101" stop-color="#00b6ff"/><stop offset="0.1477" stop-color="#00a4ff"/><stop offset="0.1857" stop-color="#0092ff"/><stop offset="0.2241" stop-color="#007fff"/><stop offset="0.2629" stop-color="#0066ff"/><stop offset="0.3023" stop-color="#004cff"/><stop offset="0.3421" stop-color="#0033ff"/><stop offset="0.3823" stop-color="#0019ff"/><stop offset="0.4230" stop-color="#0100ff"/><stop offset="0.4643" stop-color="#1e00ff"/><stop offset="0.5060" stop-color="#3b00ff"/><stop offset="0.5482" stop-color="#5900ff"/><stop offset="0.5909" stop-color="#7600ff"/><stop offset="0.6342" stop-color="#8000f6"/><stop offset="0.6779" stop-color="#8000e8"/><stop offset="0.7223" stop-color="#8000d9"/><stop offset="0.7671" stop-color="#8000cb"/><stop offset="0.8125" stop-color="#8000bd"/><stop offset="0.8585" stop-color="#8000af"/><stop offset="0.9051" stop-color="#8000a1"/><stop offset="0.9522" stop-color="#800092"/><stop offset="1.0000" stop-color="#800084"/></linearGradient>
<linearGradient id="g81" gradientUnits="userSpaceOnUse" x1="1712.5" y1="974.5" x2="1522.3" y2="1838.7"><stop offset="0.0000" stop-color="#00ebff"/><stop offset="0.0363" stop-color="#00d9ff"/><stop offset="0.0730" stop-color="#00c7ff"/><stop offset="0.1101" stop-color="#00b5ff"/><stop offset="0.1477" stop-color="#00a3ff"/><stop offset="0.1856" stop-color="#0090ff"/><stop offset="0.2241" stop-color="#007dff"/><stop offset="0.2629" stop-color="#0064ff"/><stop offset="0.3023" stop-color="#004aff"/><stop offset="0.3420" stop-color="#0031ff"/><stop offset="0.3823" stop-color="#0017ff"/><stop offset="0.4230" stop-color="#0300ff"/><stop offset="0.4643" stop-color="#2000ff"/><stop offset="0.5060" stop-color="#3d00ff"/><stop offset="0.5482" stop-color="#5b00ff"/><stop offset="0.5909" stop-color="#7800ff"/><stop offset="0.6342" stop-color="#8000f5"/><stop offset="0.6779" stop-color="#8000e7"/><stop offset="0.7223" stop-color="#8000d8"/><stop offset="0.7671" stop-color="#8000ca"/><stop offset="0.8125" stop-color="#8000bc"/><stop offset="0.8585" stop-color="#8000ae"/><stop offset="0.9051" stop-color="#8000a0"/><stop offset="0.9522" stop-color="#800091"/><stop offset="1.0000" stop-color="#800083"/></linearGradient>
<linearGradient id="g82" gradientUnits="userSpaceOnUse" x1="1723.6" y1="978.4" x2="1494.1" y2="1856.9"><stop offset="0.0000" stop-color="#00eaff"/><stop offset="0.0363" stop-color="#00d8ff"/><stop offset="0.0730" stop-color="#00c6ff"/><stop offset="0.1101" stop-color="#00b4ff"/><stop offset="0.1477" stop-color="#00a2ff"/><stop offset="0.1856" stop-color="#008fff"/><stop offset="0.2241" stop-color="#007cff"/><stop offset="0.2629" stop-color="#0063ff"/><stop offset="0.3023" stop-color="#0049ff"/><stop offset="0.3420" stop-color="#002fff"/><stop offset="0.3823" stop-color="#0016ff"/><stop offset="0.4230" stop-color="#0400ff"/><stop offset="0.4642" stop-color="#2200ff"/><stop offset="0.5060" stop-color="#3f00ff"/><stop offset="0.5482" stop-color="#5c00ff"/><stop offset="0.5909" stop-color="#7a00ff"/><stop offset="0.6341" stop-color="#8000f4"/><stop offset="0.6779" stop-color="#8000e6"/><stop offset="0.7222" stop-color="#8000d8"/><stop offset="0.7671" stop-color="#8000c9"/><stop offset="0.8125" stop-color="#8000bb"/><stop offset="0.8585" stop-color="#8000ad"/><stop offset="0.9051" stop-color="#80009f"/><stop offset="0.9522" stop-color="#800091"/><stop offset="1.0000" stop-color="#800082"/></linearGradient>
<linearGradient id="g83" gradientUnits="userSpaceOnUse" x1="1734.9" y1="982.1" x2="1462" y2="1872.3"><stop offset="0.0000" stop-color="#00e9ff"/><stop offset="0.0363" stop-color="#00d7ff"/><stop offset="0.0730" stop-color="#00c5ff"/><stop offset="0.1101" stop-color="#00b3ff"/><stop offset="0.1477" stop-color="#00a1ff"/><stop offset="0.1856" stop-color="#008fff"/><stop offset="0.2241" stop-color="#007bff"/><stop offset="0.2629" stop-color="#0062ff"/><stop offset="0.3022" stop-color="#0048ff"/><stop offset="0.3420" stop-color="#002fff"/><stop offset="0.3823" stop-color="#0015ff"/><stop offset="0.4230" stop-color="#0500ff"/><stop offset="0.4642" stop-color="#2200ff"/><stop offset="0.5059" stop-color="#4000ff"/><stop offset="0.5482" stop-color="#5d00ff"/><stop offset="0.5909" stop-color="#7b00ff"/><stop offset="0.6341" stop-color="#8000f3"/><stop offset="0.6779" stop-color="#8000e5"/><stop offset="0.7222" stop-color="#8000d7"/><stop offset="0.7671" stop-color="#8000c9"/><stop offset="0.8125" stop-color="#8000bb"/><stop offset="0.8585" stop-color="#8000ad"/><stop offset="0.9051" stop-color="#80009e"/><stop offset="0.9522" stop-color="#800090"/><stop offset="1.0000" stop-color="#800082"/></linearGradient>
<linearGradient id="g84" gradientUnits="userSpaceOnUse" x1="1746.1" y1="985.6" x2="1426.1" y2="1884"><stop offset="0.0000" stop-color="#00e9ff"/><stop offset="0.0363" stop-color="#00d7ff"/><stop offset="0.0730" stop-color="#00c5ff"/><stop offset="0.1101" stop-color="#00b3ff"/><stop offset="0.1476" stop-color="#00a1ff"/><stop offset="0.1856" stop-color="#008fff"/><stop offset="0.2240" stop-color="#007bff"/><stop offset="0.2629" stop-color="#0061ff"/><stop offset="0.3022" stop-color="#0048ff"/><stop offset="0.3420" stop-color="#002eff"/><stop offset="0.3823" stop-color="#0015ff"/><stop offset="0.4230" stop-color="#0600ff"/><stop offset="0.4642" stop-color="#2300ff"/><stop offset="0.5059" stop-color="#4000ff"/><stop offset="0.5481" stop-color="#5e00ff"/><stop offset="0.5909" stop-color="#7b00ff"/><stop offset="0.6341" stop-color="#8000f3"/><stop offset="0.6779" stop-color="#8000e5"/><stop offset="0.7222" stop-color="#8000d7"/><stop offset="0.7671" stop-color="#8000c9"/><stop offset="0.8125" stop-color="#8000bb"/><stop offset="0.8585" stop-color="#8000ac"/><stop offset="0.9051" stop-color="#80009e"/><stop offset="0.9522" stop-color="#800090"/><stop offset="1.0000" stop-color="#800082"/></linearGradient>
<linearGradient id="g85" gradientUnits="userSpaceOnUse" x1="1757.4" y1="989" x2="1386.5" y2="1891.2"><stop offset="0.0000" stop-color="#00e9ff"/><stop offset="0.0363" stop-color="#00d7ff"/><stop offset="0.0730" stop-color="#00c5ff"/><stop offset="0.1101" stop-color="#00b3ff"/><stop offset="0.1476" stop-color="#00a1ff"/><stop offset="0.1856" stop-color="#008fff"/><stop offset="0.2240" stop-color="#007bff"/><stop offset="0.2629" stop-color="#0062ff"/><stop offset="0.3022" stop-color="#0048ff"/><stop offset="0.3420" stop-color="#002fff"/><stop offset="0.3823" stop-color="#0015ff"/><stop offset="0.4230" stop-color="#0500ff"/><stop offset="0.4642" stop-color="#2300ff"/><stop offset="0.5059" stop-color="#4000ff"/><stop offset="0.5481" stop-color="#5d00ff"/><stop offset="0.5909" stop-color="#7b00ff"/><stop offset="0.6341" stop-color="#8000f3"/><stop offset="0.6779" stop-color="#8000e5"/><stop offset="0.7222" stop-color="#8000d7"/><stop offset="0.7671" stop-color="#8000c9"/><stop offset="0.8125" stop-color="#8000bb"/><stop offset="0.8585" stop-color="#8000ac"/><stop offset="0.9051" stop-color="#80009e"/><stop offset="0.9522" stop-color="#800090"/><stop offset="1.0000" stop-color="#800082"/></linearGradient>
<linearGradient id="g86" gradientUnits="userSpaceOnUse" x1="1768.7" y1="992.1" x2="1343.6" y2="1893"><stop offset="0.0000" stop-color="#00eaff"/><stop offset="0.0363" stop-color="#00d8ff"/><stop offset="0.0730" stop-color="#00c6ff"/><stop offset="0.1101" stop-color="#00b4ff"/><stop offset="0.1476" stop-color="#00a1ff"/><stop offset="0.1856" stop-color="#008fff"/><stop offset="0.2240" stop-color="#007cff"/><stop offset="0.2629" stop-color="#0062ff"/><stop offset="0.3022" stop-color="#0049ff"/><stop offset="0.3420" stop-color="#002fff"/><stop offset="0.3822" stop-color="#0016ff"/><stop offset="0.4230" stop-color="#0500ff"/><stop offset="0.4642" stop-color="#2200ff"/><stop offset="0.5059" stop-color="#3f00ff"/><stop offset="0.5481" stop-color="#5d00ff"/><stop offset="0.5909" stop-color="#7a00ff"/><stop offset="0.6341" stop-color="#8000f4"/><stop offset="0.6779" stop-color="#8000e6"/><stop offset="0.7222" stop-color="#8000d7"/><stop offset="0.7671" stop-color="#8000c9"/><stop offset="0.8125" stop-color="#8000bb"/><stop offset="0.8585" stop-color="#8000ad"/><stop offset="0.9051" stop-color="#80009f"/><stop offset="0.9522" stop-color="#800090"/><stop offset="1.0000" stop-color="#800082"/></linearGradient>
<linearGradient id="g87" gradientUnits="userSpaceOnUse" x1="1780.1" y1="995.1" x2="1298.1" y2="1888.2"><stop offset="0.0000" stop-color="#00ebff"/><stop offset="0.0363" stop-color="#00d9ff"/><stop offset="0.0730" stop-color="#00c6ff"/><stop offset="0.1101" stop-color="#00b4ff"/><stop offset="0.1476" stop-color="#00a2ff"/><stop offset="0.1856" stop-color="#0090ff"/><stop offset="0.2240" stop-color="#007dff"/><stop offset="0.2629" stop-color="#0063ff"/><stop offset="0.3022" stop-color="#004aff"/><stop offset="0.3420" stop-color="#0030ff"/><stop offset="0.3822" stop-color="#0017ff"/><stop offset="0.4230" stop-color="#0300ff"/><stop offset="0.4642" stop-color="#2100ff"/><stop offset="0.5059" stop-color="#3e00ff"/><stop offset="0.5481" stop-color="#5b00ff"/><stop offset="0.5908" stop-color="#7900ff"/><stop offset="0.6341" stop-color="#8000f4"/><stop offset="0.6779" stop-color="#8000e6"/><stop offset="0.7222" stop-color="#8000d8"/><stop offset="0.7671" stop-color="#8000ca"/><stop offset="0.8125" stop-color="#8000bc"/><stop offset="0.8585" stop-color="#8000ad"/><stop offset="0.9051" stop-color="#80009f"/><stop offset="0.9522" stop-color="#800091"/><stop offset="1.0000" stop-color="#800083"/></linearGradient>
<clipPath id="sc"><path d="M63.1,611.4L84,596.8L104.8,582.2L125.4,567.7L145.9,553.4L166.3,539.1L186.6,524.9L206.7,510.8L226.7,496.8L246.6,482.9L266.4,469.1L286,455.4L305.5,441.7L325,428.2L344.2,414.7L363.4,401.3L382.5,388L401.4,374.8L420.3,361.7L439,348.6L457.6,335.7L476.1,322.8L494.5,310L512.8,297.2L531,284.6L549.1,272L567.1,259.5L584.9,247.1L602.7,234.8L620.4,222.5L637.9,210.4L655.4,198.3L672.8,186.2L690,174.3L707.2,162.4L724.3,150.6L741.2,138.8L758.1,127.1L774.9,115.5L791.6,104L808.2,92.5L824.7,81.2L841.1,69.8L857.4,58.6L873.6,47.4L873.6,47.4L893.7,84.8L913.7,121.5L933.7,157.4L953.6,192.6L973.6,226.9L993.6,260.5L1013.5,293.3L1033.5,325.4L1053.4,356.7L1073.4,387.3L1093.3,417.1L1113.3,446.2L1133.3,474.5L1153.3,502.1L1173.4,529L1193.5,555.2L1213.6,580.6L1233.8,605.4L1254,629.4L1274.2,652.7L1294.5,675.2L1314.9,697.1L1335.3,718.2L1355.8,738.7L1376.3,758.4L1396.9,777.4L1417.6,795.7L1438.4,813.3L1459.2,830.2L1480.2,846.4L1501.2,861.8L1522.4,876.5L1543.6,890.6L1565,903.8L1586.5,916.4L1608.1,928.3L1629.8,939.4L1651.7,949.8L1673.6,959.4L1695.8,968.3L1718.1,976.5L1740.5,983.9L1763.1,990.6L1785.8,996.5L1785.8,996.5L1771.1,1011.3L1756.4,1026.3L1741.5,1041.3L1726.6,1056.5L1711.5,1071.7L1696.4,1087L1681.2,1102.4L1665.8,1118L1650.4,1133.6L1634.9,1149.3L1619.3,1165.1L1603.6,1181.1L1587.8,1197.1L1572,1213.2L1556,1229.5L1539.9,1245.8L1523.7,1262.3L1507.4,1278.8L1491,1295.5L1474.5,1312.3L1457.9,1329.2L1441.2,1346.2L1424.4,1363.3L1407.5,1380.5L1390.4,1397.9L1373.3,1415.3L1356.1,1432.9L1338.7,1450.6L1321.2,1468.4L1303.7,1486.3L1286,1504.4L1268.1,1522.6L1250.2,1540.9L1232.2,1559.3L1214,1577.8L1195.7,1596.5L1177.3,1615.3L1158.8,1634.3L1140.1,1653.4L1121.3,1672.6L1102.4,1691.9L1083.4,1711.4L1064.2,1731L1045,1750.7L1045,1750.7L1021.4,1741.2L998.1,1731L974.8,1719.9L951.7,1708L928.7,1695.4L905.8,1682L883,1667.9L860.3,1653L837.7,1637.3L815.2,1620.9L792.7,1603.7L770.4,1585.8L748.1,1567.1L725.8,1547.7L703.7,1527.5L681.5,1506.6L659.5,1485L637.4,1462.6L615.4,1439.4L593.5,1415.5L571.5,1390.9L549.6,1365.5L527.7,1339.4L505.8,1312.5L484,1284.9L462.1,1256.5L440.2,1227.3L418.3,1197.4L396.4,1166.7L374.5,1135.3L352.5,1103.1L330.6,1070.1L308.6,1036.3L286.5,1001.7L264.5,966.4L242.3,930.2L220.2,893.3L197.9,855.5L175.6,816.9L153.3,777.5L130.9,737.2L108.4,696.1L85.8,654.2L63.1,611.4Z"/></clipPath>
<linearGradient id="cb" x1="0" y1="0" x2="0" y2="1"><stop offset="0.0000" stop-color="#690000"/><stop offset="0.2000" stop-color="#ff0000"/><stop offset="0.3398" stop-color="#ff0000"/><stop offset="0.4000" stop-color="#ff6e00"/><stop offset="0.4344" stop-color="#ffa500"/><stop offset="0.5011" stop-color="#ffff00"/><stop offset="0.6000" stop-color="#80ff00"/><stop offset="0.6742" stop-color="#00ff00"/><stop offset="0.7000" stop-color="#00ff80"/><stop offset="0.7280" stop-color="#00ffff"/><stop offset="0.8011" stop-color="#0080ff"/><stop offset="0.8538" stop-color="#0000ff"/><stop offset="0.9000" stop-color="#8000ff"/><stop offset="0.9957" stop-color="#800080"/><stop offset="1.0000" stop-color="#800080"/></linearGradient>
</defs>
<rect width="2408" height="1954" fill="#fff"/>
<g id="all" filter="url(#soft)">
<g id="walls"><path d="M799.6,1079.6L749.8,76.3" stroke="#777" stroke-width="2.2" stroke-dasharray="26 9" fill="none"/>
<path d="M681.8,1142.7L620.3,120.1" stroke="#777" stroke-width="2.2" stroke-dasharray="26 9" fill="none"/>
<path d="M558.5,1208.7L484.3,166.2" stroke="#777" stroke-width="2.2" stroke-dasharray="26 9" fill="none"/>
<path d="M429.3,1277.9L341.2,214.6" stroke="#777" stroke-width="2.2" stroke-dasharray="26 9" fill="none"/>
<path d="M293.8,1350.4L190.5,265.6" stroke="#777" stroke-width="2.2" stroke-dasharray="26 9" fill="none"/>
<path d="M145,1322.5L908.6,927.8" stroke="#b0b0b0" stroke-width="2.4" fill="none"/>
<path d="M908.6,927.8L1768.4,1212.2" stroke="#b0b0b0" stroke-width="2.4" fill="none"/>
<path d="M122.4,1113.6L901.2,740.3" stroke="#b0b0b0" stroke-width="2.4" fill="none"/>
<path d="M901.2,740.3L1775.4,1005.2" stroke="#b0b0b0" stroke-width="2.4" fill="none"/>
<path d="M98.9,896.9L893.5,546.8" stroke="#b0b0b0" stroke-width="2.4" fill="none"/>
<path d="M893.5,546.8L1782.7,790.7" stroke="#b0b0b0" stroke-width="2.4" fill="none"/>
<path d="M74.6,671.9L885.5,346.9" stroke="#b0b0b0" stroke-width="2.4" fill="none"/>
<path d="M885.5,346.9L1790.3,568.1" stroke="#b0b0b0" stroke-width="2.4" fill="none"/>
<path d="M49.3,438.1L877.3,140.4" stroke="#b0b0b0" stroke-width="2.4" fill="none"/>
<path d="M877.3,140.4L1798.1,337.1" stroke="#b0b0b0" stroke-width="2.4" fill="none"/>
<path d="M1045.6,1065.2L1017.1,63" stroke="#a4a4a4" stroke-width="2.6" fill="none"/>
<path d="M1045.6,1065.2L301,1481.6" stroke="#bcbcbc" stroke-width="3" fill="none"/>
<path d="M1184.4,1113.1L1167.5,92.7" stroke="#a4a4a4" stroke-width="2.6" fill="none"/>
<path d="M1184.4,1113.1L443.6,1546.6" stroke="#bcbcbc" stroke-width="3" fill="none"/>
<path d="M1329,1162.8L1324.7,123.8" stroke="#a4a4a4" stroke-width="2.6" fill="none"/>
<path d="M1329,1162.8L593.2,1614.8" stroke="#bcbcbc" stroke-width="3" fill="none"/>
<path d="M1479.8,1214.8L1489.3,156.4" stroke="#a4a4a4" stroke-width="2.6" fill="none"/>
<path d="M1479.8,1214.8L750.2,1686.3" stroke="#bcbcbc" stroke-width="3" fill="none"/>
<path d="M1637.1,1268.9L1661.6,190.5" stroke="#a4a4a4" stroke-width="2.6" fill="none"/>
<path d="M1637.1,1268.9L915.1,1761.4" stroke="#bcbcbc" stroke-width="3" fill="none"/>
<path d="M799.6,1079.6L1654,1386.8" stroke="#bcbcbc" stroke-width="3" fill="none"/>
<path d="M681.8,1142.7L1542.4,1466.3" stroke="#bcbcbc" stroke-width="3" fill="none"/>
<path d="M558.5,1208.7L1425,1549.9" stroke="#bcbcbc" stroke-width="3" fill="none"/>
<path d="M429.3,1277.9L1301.1,1638.1" stroke="#bcbcbc" stroke-width="3" fill="none"/>
<path d="M293.8,1350.4L1170.4,1731.2" stroke="#bcbcbc" stroke-width="3" fill="none"/>
<path d="M151.6,1426.6L31.4,319.5" stroke="#555" stroke-width="3.4" fill="none" stroke-linecap="round"/>
<path d="M31.4,319.5L873.1,34.5" stroke="#333" stroke-width="3.6" fill="none" stroke-linecap="round"/>
<path d="M873.1,34.5L1812.9,220.4" stroke="#3c3c3c" stroke-width="3.7" fill="none" stroke-dasharray="10 1"/>
<path d="M912.3,1019.3L873.1,34.5" stroke="#444" stroke-width="2" fill="none" stroke-linecap="round"/>
<path d="M151.6,1426.6L912.3,1019.3" stroke="#333" stroke-width="3.4" fill="none" stroke-linecap="round"/>
<path d="M912.3,1019.3L1774.7,1316.3" stroke="#333" stroke-width="3.4" fill="none" stroke-linecap="round"/></g>
<circle cx="1403" cy="1381" r="18" fill="#000"/>
<path d="M63.1,611.4L84,596.8L104.8,582.2L125.4,567.7L145.9,553.4L166.3,539.1L186.6,524.9L206.7,510.8L226.7,496.8L246.6,482.9L266.4,469.1L286,455.4L305.5,441.7L325,428.2L344.2,414.7L363.4,401.3L382.5,388L401.4,374.8L420.3,361.7L439,348.6L457.6,335.7L476.1,322.8L494.5,310L512.8,297.2L531,284.6L549.1,272L567.1,259.5L584.9,247.1L602.7,234.8L620.4,222.5L637.9,210.4L655.4,198.3L672.8,186.2L690,174.3L707.2,162.4L724.3,150.6L741.2,138.8L758.1,127.1L774.9,115.5L791.6,104L808.2,92.5L824.7,81.2L841.1,69.8L857.4,58.6L873.6,47.4L873.6,47.4L893.7,84.8L913.7,121.5L933.7,157.4L953.6,192.6L973.6,226.9L993.6,260.5L1013.5,293.3L1033.5,325.4L1053.4,356.7L1073.4,387.3L1093.3,417.1L1113.3,446.2L1133.3,474.5L1153.3,502.1L1173.4,529L1193.5,555.2L1213.6,580.6L1233.8,605.4L1254,629.4L1274.2,652.7L1294.5,675.2L1314.9,697.1L1335.3,718.2L1355.8,738.7L1376.3,758.4L1396.9,777.4L1417.6,795.7L1438.4,813.3L1459.2,830.2L1480.2,846.4L1501.2,861.8L1522.4,876.5L1543.6,890.6L1565,903.8L1586.5,916.4L1608.1,928.3L1629.8,939.4L1651.7,949.8L1673.6,959.4L1695.8,968.3L1718.1,976.5L1740.5,983.9L1763.1,990.6L1785.8,996.5L1785.8,996.5L1771.1,1011.3L1756.4,1026.3L1741.5,1041.3L1726.6,1056.5L1711.5,1071.7L1696.4,1087L1681.2,1102.4L1665.8,1118L1650.4,1133.6L1634.9,1149.3L1619.3,1165.1L1603.6,1181.1L1587.8,1197.1L1572,1213.2L1556,1229.5L1539.9,1245.8L1523.7,1262.3L1507.4,1278.8L1491,1295.5L1474.5,1312.3L1457.9,1329.2L1441.2,1346.2L1424.4,1363.3L1407.5,1380.5L1390.4,1397.9L1373.3,1415.3L1356.1,1432.9L1338.7,1450.6L1321.2,1468.4L1303.7,1486.3L1286,1504.4L1268.1,1522.6L1250.2,1540.9L1232.2,1559.3L1214,1577.8L1195.7,1596.5L1177.3,1615.3L1158.8,1634.3L1140.1,1653.4L1121.3,1672.6L1102.4,1691.9L1083.4,1711.4L1064.2,1731L1045,1750.7L1045,1750.7L1021.4,1741.2L998.1,1731L974.8,1719.9L951.7,1708L928.7,1695.4L905.8,1682L883,1667.9L860.3,1653L837.7,1637.3L815.2,1620.9L792.7,1603.7L770.4,1585.8L748.1,1567.1L725.8,1547.7L703.7,1527.5L681.5,1506.6L659.5,1485L637.4,1462.6L615.4,1439.4L593.5,1415.5L571.5,1390.9L549.6,1365.5L527.7,1339.4L505.8,1312.5L484,1284.9L462.1,1256.5L440.2,1227.3L418.3,1197.4L396.4,1166.7L374.5,1135.3L352.5,1103.1L330.6,1070.1L308.6,1036.3L286.5,1001.7L264.5,966.4L242.3,930.2L220.2,893.3L197.9,855.5L175.6,816.9L153.3,777.5L130.9,737.2L108.4,696.1L85.8,654.2L63.1,611.4Z" fill="#fff" fill-opacity="0.45"/>
<g id="surface" opacity="0.8"><path d="M873.6,47.4L885,68.7L76,635.7L63.1,611.4Z" fill="url(#g0)"/>
<path d="M882.3,63.7L895,87.3L87.3,657L73,630.1Z" fill="url(#g1)"/>
<path d="M892.4,82.4L905,105.7L98.6,678.1L84.3,651.4Z" fill="url(#g2)"/>
<path d="M902.4,100.9L915,123.9L109.9,698.9L95.6,672.5Z" fill="url(#g3)"/>
<path d="M912.4,119.1L925,141.9L121.1,719.5L106.9,693.4Z" fill="url(#g4)"/>
<path d="M922.4,137.2L935,159.8L132.3,739.9L118.1,714.1Z" fill="url(#g5)"/>
<path d="M932.3,155.1L945,177.4L143.6,760.1L129.4,734.5Z" fill="url(#g6)"/>
<path d="M942.3,172.8L955,194.8L154.8,780.1L140.6,754.8Z" fill="url(#g7)"/>
<path d="M952.3,190.3L964.9,212.1L165.9,799.9L151.8,774.8Z" fill="url(#g8)"/>
<path d="M962.3,207.6L974.9,229.1L177.1,819.5L163,794.7Z" fill="url(#g9)"/>
<path d="M972.3,224.7L984.9,246L188.3,838.8L174.2,814.3Z" fill="url(#g10)"/>
<path d="M982.3,241.6L994.9,262.7L199.4,858L185.3,833.7Z" fill="url(#g11)"/>
<path d="M992.2,258.3L1004.8,279.2L210.5,877L196.5,853Z" fill="url(#g12)"/>
<path d="M1002.2,274.8L1014.8,295.4L221.6,895.7L207.6,872Z" fill="url(#g13)"/>
<path d="M1012.2,291.2L1024.8,311.5L232.7,914.3L218.7,890.8Z" fill="url(#g14)"/>
<path d="M1022.2,307.3L1034.8,327.5L243.8,932.6L229.8,909.4Z" fill="url(#g15)"/>
<path d="M1032.1,323.3L1044.7,343.2L254.9,950.8L240.9,927.8Z" fill="url(#g16)"/>
<path d="M1042.1,339.1L1054.7,358.7L265.9,968.7L251.9,946Z" fill="url(#g17)"/>
<path d="M1052.1,354.6L1064.7,374.1L277,986.5L263,964Z" fill="url(#g18)"/>
<path d="M1062.1,370L1074.7,389.2L288,1004L274,981.8Z" fill="url(#g19)"/>
<path d="M1072,385.3L1084.7,404.2L299,1021.4L285.1,999.4Z" fill="url(#g20)"/>
<path d="M1082,400.3L1094.7,419L310,1038.6L296.1,1016.8Z" fill="url(#g21)"/>
<path d="M1092,415.1L1104.6,433.6L321,1055.5L307.1,1034Z" fill="url(#g22)"/>
<path d="M1102,429.8L1114.6,448.1L332,1072.3L318.1,1051.1Z" fill="url(#g23)"/>
<path d="M1112,444.3L1124.6,462.3L343,1088.8L329.1,1067.9Z" fill="url(#g24)"/>
<path d="M1122,458.6L1134.6,476.4L354,1105.2L340.1,1084.5Z" fill="url(#g25)"/>
<path d="M1132,472.7L1144.7,490.2L365,1121.4L351.1,1100.9Z" fill="url(#g26)"/>
<path d="M1142,486.6L1154.7,503.9L375.9,1137.4L362.1,1117.2Z" fill="url(#g27)"/>
<path d="M1152,500.3L1164.7,517.5L386.9,1153.2L373,1133.2Z" fill="url(#g28)"/>
<path d="M1162,513.9L1174.7,530.8L397.9,1168.8L384,1149Z" fill="url(#g29)"/>
<path d="M1172.1,527.3L1184.8,543.9L408.8,1184.2L395,1164.7Z" fill="url(#g30)"/>
<path d="M1182.1,540.5L1194.8,556.9L419.8,1199.4L405.9,1180.1Z" fill="url(#g31)"/>
<path d="M1192.2,553.5L1204.9,569.7L430.7,1214.4L416.9,1195.4Z" fill="url(#g32)"/>
<path d="M1202.2,566.3L1214.9,582.3L441.6,1229.3L427.8,1210.5Z" fill="url(#g33)"/>
<path d="M1212.3,579L1225,594.7L452.6,1243.9L438.8,1225.4Z" fill="url(#g34)"/>
<path d="M1222.4,591.5L1235.1,607L463.5,1258.4L449.7,1240.1Z" fill="url(#g35)"/>
<path d="M1232.4,603.8L1245.2,619L474.5,1272.6L460.6,1254.6Z" fill="url(#g36)"/>
<path d="M1242.5,615.9L1255.3,630.9L485.4,1286.7L471.6,1268.9Z" fill="url(#g37)"/>
<path d="M1252.6,627.8L1265.4,642.6L496.3,1300.6L482.5,1283Z" fill="url(#g38)"/>
<path d="M1262.7,639.6L1275.6,654.2L507.3,1314.3L493.5,1297Z" fill="url(#g39)"/>
<path d="M1272.9,651.2L1285.7,665.5L518.2,1327.8L504.4,1310.7Z" fill="url(#g40)"/>
<path d="M1283,662.6L1295.9,676.7L529.2,1341.1L515.3,1324.3Z" fill="url(#g41)"/>
<path d="M1293.2,673.8L1306,687.7L540.1,1354.3L526.3,1337.6Z" fill="url(#g42)"/>
<path d="M1303.3,684.8L1316.2,698.5L551.1,1367.2L537.2,1350.8Z" fill="url(#g43)"/>
<path d="M1313.5,695.7L1326.4,709.2L562,1380L548.2,1363.8Z" fill="url(#g44)"/>
<path d="M1323.7,706.4L1336.6,719.6L573,1392.5L559.1,1376.6Z" fill="url(#g45)"/>
<path d="M1333.9,716.9L1346.9,729.9L584,1404.9L570.1,1389.2Z" fill="url(#g46)"/>
<path d="M1344.2,727.2L1357.1,740L594.9,1417.1L581.1,1401.7Z" fill="url(#g47)"/>
<path d="M1354.4,737.4L1367.4,749.9L605.9,1429.1L592,1413.9Z" fill="url(#g48)"/>
<path d="M1364.7,747.3L1377.7,759.7L616.9,1441L603,1426Z" fill="url(#g49)"/>
<path d="M1374.9,757.1L1388,769.3L627.9,1452.6L614,1437.9Z" fill="url(#g50)"/>
<path d="M1385.2,766.7L1398.3,778.7L638.9,1464.1L625,1449.6Z" fill="url(#g51)"/>
<path d="M1395.6,776.2L1408.6,787.9L649.9,1475.3L636,1461.1Z" fill="url(#g52)"/>
<path d="M1405.9,785.5L1419,796.9L660.9,1486.4L647,1472.4Z" fill="url(#g53)"/>
<path d="M1416.2,794.5L1429.4,805.8L672,1497.3L658,1483.5Z" fill="url(#g54)"/>
<path d="M1426.6,803.4L1439.8,814.5L683,1508L669.1,1494.5Z" fill="url(#g55)"/>
<path d="M1437,812.2L1450.2,823L694.1,1518.5L680.1,1505.2Z" fill="url(#g56)"/>
<path d="M1447.4,820.7L1460.6,831.3L705.1,1528.9L691.1,1515.8Z" fill="url(#g57)"/>
<path d="M1457.9,829.1L1471.1,839.4L716.2,1539L702.2,1526.2Z" fill="url(#g58)"/>
<path d="M1468.3,837.3L1481.6,847.4L727.3,1549L713.3,1536.4Z" fill="url(#g59)"/>
<path d="M1478.8,845.3L1492.1,855.2L738.4,1558.8L724.4,1546.4Z" fill="url(#g60)"/>
<path d="M1489.3,853.1L1502.6,862.8L749.5,1568.4L735.5,1556.2Z" fill="url(#g61)"/>
<path d="M1499.9,860.8L1513.2,870.2L760.7,1577.8L746.6,1565.9Z" fill="url(#g62)"/>
<path d="M1510.4,868.3L1523.8,877.5L771.8,1587L757.7,1575.3Z" fill="url(#g63)"/>
<path d="M1521,875.6L1534.4,884.6L783,1596L768.9,1584.6Z" fill="url(#g64)"/>
<path d="M1531.6,882.7L1545.1,891.5L794.2,1604.9L780.1,1593.7Z" fill="url(#g65)"/>
<path d="M1542.2,889.6L1555.7,898.2L805.4,1613.5L791.3,1602.6Z" fill="url(#g66)"/>
<path d="M1552.9,896.4L1566.4,904.7L816.7,1622L802.5,1611.3Z" fill="url(#g67)"/>
<path d="M1563.6,903L1577.1,911.1L827.9,1630.3L813.7,1619.8Z" fill="url(#g68)"/>
<path d="M1574.3,909.4L1587.9,917.2L839.2,1638.4L824.9,1628.1Z" fill="url(#g69)"/>
<path d="M1585.1,915.6L1598.7,923.2L850.5,1646.3L836.2,1636.2Z" fill="url(#g70)"/>
<path d="M1595.8,921.6L1609.5,929L861.8,1654L847.5,1644.2Z" fill="url(#g71)"/>
<path d="M1606.7,927.5L1620.4,934.6L873.1,1661.5L858.8,1652Z" fill="url(#g72)"/>
<path d="M1617.5,933.2L1631.2,940.1L884.5,1668.8L870.1,1659.5Z" fill="url(#g73)"/>
<path d="M1628.4,938.7L1642.2,945.4L895.9,1676L881.5,1666.9Z" fill="url(#g74)"/>
<path d="M1639.3,944L1653.1,950.4L907.3,1682.9L892.9,1674.1Z" fill="url(#g75)"/>
<path d="M1650.2,949.1L1664.1,955.3L918.7,1689.7L904.3,1681.1Z" fill="url(#g76)"/>
<path d="M1661.2,954L1675.1,960L930.2,1696.3L915.7,1687.9Z" fill="url(#g77)"/>
<path d="M1672.2,958.8L1686.2,964.6L941.7,1702.7L927.2,1694.6Z" fill="url(#g78)"/>
<path d="M1683.2,963.4L1697.2,968.9L953.2,1708.8L938.6,1701Z" fill="url(#g79)"/>
<path d="M1694.3,967.8L1708.4,973L964.8,1714.8L950.2,1707.2Z" fill="url(#g80)"/>
<path d="M1705.4,972L1719.5,977L976.3,1720.6L961.7,1713.3Z" fill="url(#g81)"/>
<path d="M1716.6,976L1730.7,980.8L988,1726.2L973.3,1719.1Z" fill="url(#g82)"/>
<path d="M1727.8,979.8L1742,984.4L999.6,1731.7L984.9,1724.8Z" fill="url(#g83)"/>
<path d="M1739,983.4L1753.2,987.8L1011.3,1736.9L996.5,1730.2Z" fill="url(#g84)"/>
<path d="M1750.3,986.9L1764.6,991L1023,1741.9L1008.2,1735.5Z" fill="url(#g85)"/>
<path d="M1761.6,990.2L1775.9,994L1034.7,1746.7L1019.9,1740.6Z" fill="url(#g86)"/>
<path d="M1772.9,993.2L1785.8,996.5L1045,1750.7L1031.6,1745.5Z" fill="url(#g87)"/></g>
<path d="M912.3,1019.3L873.1,34.5" stroke="#000" stroke-opacity="0.5" stroke-width="1.8" fill="none" clip-path="url(#sc)"/>
<g clip-path="url(#sc)"><circle cx="1403" cy="1381" r="18" fill="#0a0ab4"/><circle cx="1398" cy="1375" r="6" fill="#6f6fff" filter="url(#b1)"/></g>
<circle cx="1237" cy="750" r="16.5" fill="#56bd00"/><circle cx="1232" cy="745" r="7.5" fill="#b8f36a" filter="url(#b1)"/>
<path d="M953.6,192.6L937.6,204.2L921.5,215.8L905.3,227.6L889,239.4L872.6,251.3L856.1,263.3L839.6,275.3L822.9,287.4L806.2,299.6L789.3,311.8L772.4,324.2L755.3,336.6L738.2,349L720.9,361.6L703.6,374.2L686.1,387L668.6,399.7L650.9,412.6L633.2,425.6L615.3,438.6L597.4,451.7L579.3,464.9L561.2,478.2L542.9,491.5L524.5,505L506,518.5L487.4,532.1L468.7,545.8L449.9,559.6L430.9,573.5L411.9,587.5L392.7,601.5L373.4,615.7L354,629.9L334.5,644.2L314.8,658.7L295.1,673.2L275.2,687.8L255.2,702.5L235.1,717.3L214.8,732.2L194.4,747.2L173.9,762.3L153.3,777.5 M808.2,92.5L828.4,130.4L848.6,167.6L868.8,203.9L889,239.4L909.2,274.2L929.3,308.1L949.4,341.4L969.6,373.8L989.7,405.5L1009.9,436.5L1030,466.7L1050.2,496.1L1070.3,524.9L1090.5,552.8L1110.7,580.1L1131,606.6L1151.2,632.4L1171.5,657.5L1191.9,681.8L1212.3,705.5L1232.7,728.4L1253.2,750.6L1273.8,772.1L1294.4,792.8L1315,812.9L1335.8,832.2L1356.6,850.8L1377.5,868.7L1398.5,885.9L1419.5,902.4L1440.7,918.1L1462,933.2L1483.3,947.5L1504.8,961.1L1526.4,973.9L1548.1,986.1L1569.9,997.5L1591.8,1008.1L1613.9,1018.1L1636.1,1027.2L1658.5,1035.7L1681,1043.4L1703.7,1050.3L1726.6,1056.5 M1033.5,325.4L1017.6,337.4L1001.7,349.5L985.7,361.6L969.6,373.8L953.4,386.1L937.1,398.5L920.7,410.9L904.3,423.5L887.7,436L871,448.7L854.3,461.5L837.4,474.3L820.5,487.2L803.5,500.2L786.3,513.3L769.1,526.4L751.7,539.6L734.3,552.9L716.8,566.3L699.1,579.8L681.4,593.4L663.5,607L645.6,620.7L627.5,634.5L609.3,648.5L591,662.4L572.6,676.5L554.1,690.7L535.5,704.9L516.8,719.3L498,733.7L479,748.3L460,762.9L440.8,777.6L421.5,792.4L402.1,807.4L382.5,822.4L362.9,837.5L343.1,852.7L323.2,868L303.2,883.4L283,898.9L262.7,914.5L242.3,930.2 M741.2,138.8L761.7,177.2L782.1,214.7L802.5,251.4L822.9,287.4L843.3,322.6L863.6,357L883.9,390.6L904.3,423.5L924.6,455.6L944.9,486.9L965.2,517.5L985.5,547.3L1005.9,576.4L1026.2,604.8L1046.6,632.4L1067,659.3L1087.4,685.5L1107.9,710.9L1128.4,735.6L1148.9,759.6L1169.5,782.8L1190.1,805.4L1210.8,827.2L1231.6,848.3L1252.4,868.7L1273.2,888.3L1294.2,907.3L1315.2,925.5L1336.3,943L1357.5,959.8L1378.7,975.9L1400.1,991.2L1421.6,1005.8L1443.1,1019.7L1464.8,1032.9L1486.6,1045.3L1508.5,1057L1530.6,1068L1552.8,1078.2L1575.1,1087.6L1597.5,1096.4L1620.2,1104.3L1642.9,1111.5L1665.8,1118 M1113.3,446.2L1097.7,458.5L1081.9,471L1066.1,483.5L1050.2,496.1L1034.1,508.8L1018,521.6L1001.8,534.4L985.5,547.3L969.2,560.3L952.7,573.4L936.1,586.5L919.5,599.8L902.7,613.1L885.8,626.5L868.9,640L851.8,653.5L834.7,667.2L817.4,680.9L800.1,694.7L782.6,708.6L765,722.6L747.4,736.7L729.6,750.8L711.7,765.1L693.8,779.4L675.7,793.8L657.5,808.4L639.2,823L620.8,837.7L602.2,852.5L583.6,867.4L564.8,882.4L546,897.5L527,912.7L507.9,927.9L488.7,943.3L469.3,958.8L449.9,974.4L430.3,990.1L410.6,1005.9L390.8,1021.8L370.8,1037.8L350.8,1053.9L330.6,1070.1 M672.8,186.2L693.4,225L714.1,263L734.7,300.2L755.3,336.6L775.9,372.2L796.4,407L816.9,441L837.4,474.3L858,506.8L878.5,538.5L899,569.5L919.5,599.8L940,629.3L960.5,658L981,686L1001.6,713.3L1022.2,739.8L1042.8,765.6L1063.4,790.7L1084.1,815L1104.8,838.6L1125.6,861.5L1146.4,883.7L1167.3,905.1L1188.2,925.9L1209.2,945.9L1230.3,965.1L1251.4,983.7L1272.6,1001.5L1293.9,1018.7L1315.3,1035L1336.8,1050.7L1358.4,1065.6L1380,1079.8L1401.8,1093.3L1423.7,1106.1L1445.7,1118.1L1467.9,1129.3L1490.1,1139.8L1512.5,1149.6L1535.1,1158.6L1557.8,1166.9L1580.6,1174.4L1603.6,1181.1 M1193.5,555.2L1178,567.9L1162.4,580.8L1146.7,593.7L1131,606.6L1115.1,619.7L1099.2,632.8L1083.1,646L1067,659.3L1050.8,672.7L1034.5,686.1L1018.1,699.7L1001.6,713.3L985,727L968.3,740.8L951.5,754.6L934.6,768.6L917.6,782.6L900.6,796.8L883.4,811L866.1,825.3L848.7,839.7L831.2,854.2L813.6,868.7L795.9,883.4L778.1,898.2L760.2,913L742.2,928L724,943L705.8,958.2L687.4,973.4L669,988.7L650.4,1004.2L631.7,1019.7L612.9,1035.3L594,1051.1L575,1066.9L555.8,1082.9L536.5,1098.9L517.1,1115L497.6,1131.3L478,1147.7L458.2,1164.1L438.3,1180.7L418.3,1197.4 M602.7,234.8L623.6,274.1L644.5,312.5L665.3,350.1L686.1,387L706.9,423L727.7,458.2L748.4,492.7L769.1,526.4L789.8,559.3L810.5,591.5L831.1,622.9L851.8,653.5L872.5,683.4L893.2,712.5L913.9,740.9L934.6,768.6L955.4,795.5L976.1,821.7L996.9,847.1L1017.8,871.8L1038.6,895.8L1059.5,919.1L1080.5,941.6L1101.5,963.4L1122.6,984.5L1143.7,1004.8L1164.9,1024.5L1186.1,1043.4L1207.4,1061.5L1228.9,1079L1250.4,1095.7L1271.9,1111.7L1293.6,1127L1315.4,1141.5L1337.3,1155.3L1359.3,1168.4L1381.4,1180.7L1403.6,1192.2L1426,1203.1L1448.5,1213.1L1471.1,1222.5L1493.9,1231L1516.8,1238.8L1539.9,1245.8 M1274.2,652.7L1258.9,665.8L1243.4,678.9L1227.9,692.2L1212.3,705.5L1196.6,718.9L1180.8,732.4L1164.9,745.9L1148.9,759.6L1132.9,773.3L1116.7,787.1L1100.5,801L1084.1,815L1067.7,829.1L1051.1,843.3L1034.5,857.5L1017.8,871.8L1000.9,886.3L984,900.8L967,915.4L949.8,930.1L932.6,944.9L915.3,959.7L897.8,974.7L880.3,989.8L862.6,1005L844.9,1020.2L827,1035.6L809,1051L790.9,1066.6L772.7,1082.3L754.4,1098L736,1113.9L717.5,1129.8L698.8,1145.9L680.1,1162.1L661.2,1178.4L642.2,1194.7L623.1,1211.2L603.9,1227.8L584.5,1244.5L565,1261.4L545.4,1278.3L525.7,1295.3L505.8,1312.5 M531,284.6L552.2,324.3L573.3,363.2L594.3,401.3L615.3,438.6L636.3,475.1L657.3,510.8L678.2,545.7L699.1,579.8L720,613.2L740.9,645.7L761.7,677.5L782.6,708.6L803.5,738.9L824.3,768.4L845.2,797.2L866.1,825.3L887,852.6L907.9,879.2L928.9,905L949.8,930.1L970.8,954.4L991.9,978.1L1013,1001L1034.1,1023.1L1055.3,1044.6L1076.6,1065.3L1097.9,1085.3L1119.2,1104.5L1140.7,1123.1L1162.2,1140.9L1183.8,1157.9L1205.5,1174.3L1227.3,1189.9L1249.2,1204.7L1271.1,1218.9L1293.2,1232.3L1315.4,1244.9L1337.8,1256.8L1360.2,1268L1382.8,1278.4L1405.5,1288L1428.3,1296.9L1451.4,1305L1474.5,1312.3 M1355.8,738.7L1340.5,752.1L1325.2,765.6L1309.8,779.2L1294.4,792.8L1278.8,806.6L1263.1,820.4L1247.4,834.3L1231.6,848.3L1215.6,862.4L1199.6,876.5L1183.5,890.8L1167.3,905.1L1151,919.6L1134.6,934.1L1118.1,948.7L1101.5,963.4L1084.8,978.2L1068,993.1L1051.1,1008.1L1034.1,1023.1L1017,1038.3L999.8,1053.6L982.5,1068.9L965.1,1084.4L947.6,1099.9L930,1115.6L912.3,1131.4L894.4,1147.2L876.5,1163.2L858.4,1179.3L840.3,1195.4L822,1211.7L803.6,1228.1L785.1,1244.6L766.5,1261.2L747.7,1277.9L728.9,1294.7L709.9,1311.6L690.8,1328.6L671.6,1345.8L652.2,1363L632.8,1380.4L613.2,1397.9L593.5,1415.5 M457.6,335.7L479,375.9L500.4,415.2L521.6,453.8L542.9,491.5L564.1,528.5L585.2,564.6L606.4,600L627.5,634.5L648.6,668.3L669.6,701.3L690.7,733.6L711.7,765.1L732.8,795.8L753.8,825.7L774.9,855L795.9,883.4L817,911.1L838.1,938.1L859.1,964.3L880.3,989.8L901.4,1014.5L922.6,1038.6L943.8,1061.8L965.1,1084.4L986.4,1106.2L1007.8,1127.3L1029.2,1147.6L1050.7,1167.3L1072.3,1186.2L1093.9,1204.3L1115.6,1221.8L1137.4,1238.4L1159.3,1254.4L1181.3,1269.6L1203.4,1284.1L1225.6,1297.8L1247.9,1310.8L1270.3,1323.1L1292.8,1334.5L1315.4,1345.3L1338.2,1355.2L1361.2,1364.4L1384.2,1372.9L1407.5,1380.5 M1438.4,813.3L1423.3,827L1408.1,840.9L1392.9,854.7L1377.5,868.7L1362.1,882.8L1346.5,896.9L1330.9,911.2L1315.2,925.5L1299.4,939.9L1283.5,954.4L1267.5,969L1251.4,983.7L1235.2,998.5L1219,1013.3L1202.6,1028.3L1186.1,1043.4L1169.5,1058.5L1152.9,1073.8L1136.1,1089.1L1119.2,1104.5L1102.3,1120.1L1085.2,1135.7L1068,1151.4L1050.7,1167.3L1033.3,1183.2L1015.9,1199.3L998.2,1215.4L980.5,1231.6L962.7,1248L944.8,1264.5L926.7,1281L908.6,1297.7L890.3,1314.5L871.9,1331.4L853.4,1348.4L834.8,1365.5L816.1,1382.7L797.2,1400.1L778.3,1417.5L759.2,1435.1L739.9,1452.8L720.6,1470.6L701.1,1488.6L681.5,1506.6 M382.5,388L404.1,428.7L425.7,468.6L447.2,507.6L468.7,545.8L490.1,583.2L511.5,619.9L532.8,655.7L554.1,690.7L575.4,724.9L596.7,758.4L617.9,791.1L639.2,823L660.4,854.1L681.6,884.5L702.8,914.1L724,943L745.3,971.1L766.5,998.5L787.7,1025.2L809,1051L830.3,1076.2L851.7,1100.6L873,1124.3L894.4,1147.2L915.9,1169.4L937.4,1190.9L958.9,1211.6L980.5,1231.6L1002.2,1250.9L1024,1269.4L1045.8,1287.2L1067.7,1304.3L1089.7,1320.6L1111.7,1336.2L1133.9,1351L1156.2,1365.1L1178.6,1378.5L1201,1391.1L1223.7,1402.9L1246.4,1414L1269.3,1424.3L1292.3,1433.8L1315.4,1442.6L1338.7,1450.6 M1522.4,876.5L1507.4,890.6L1492.4,904.7L1477.2,918.9L1462,933.2L1446.6,947.5L1431.2,962L1415.7,976.6L1400.1,991.2L1384.4,1005.9L1368.6,1020.8L1352.8,1035.7L1336.8,1050.7L1320.7,1065.8L1304.6,1081L1288.3,1096.3L1271.9,1111.7L1255.5,1127.2L1238.9,1142.8L1222.3,1158.5L1205.5,1174.3L1188.6,1190.2L1171.7,1206.2L1154.6,1222.2L1137.4,1238.4L1120.2,1254.8L1102.8,1271.2L1085.3,1287.7L1067.7,1304.3L1050,1321L1032.1,1337.9L1014.2,1354.8L996.2,1371.9L978,1389.1L959.7,1406.4L941.3,1423.8L922.8,1441.3L904.2,1458.9L885.4,1476.7L866.6,1494.6L847.6,1512.6L828.5,1530.7L809.2,1548.9L789.9,1567.3L770.4,1585.8 M305.5,441.7L327.4,482.9L349.2,523.3L371,562.8L392.7,601.5L414.3,639.4L435.9,676.5L457.5,712.8L479,748.3L500.5,783L522,816.9L543.4,850L564.8,882.4L586.2,914L607.6,944.8L629,974.9L650.4,1004.2L671.8,1032.7L693.2,1060.5L714.6,1087.6L736,1113.9L757.5,1139.4L778.9,1164.3L800.4,1188.4L822,1211.7L843.6,1234.3L865.2,1256.2L886.9,1277.3L908.6,1297.7L930.4,1317.4L952.2,1336.3L974.2,1354.5L996.2,1371.9L1018.2,1388.6L1040.4,1404.6L1062.7,1419.8L1085,1434.2L1107.5,1447.9L1130.1,1460.9L1152.8,1473.1L1175.6,1484.5L1198.5,1495.2L1221.6,1505.1L1244.8,1514.2L1268.1,1522.6 M1608.1,928.3L1593.2,942.6L1578.3,957L1563.2,971.5L1548.1,986.1L1532.8,1000.7L1517.5,1015.5L1502.1,1030.4L1486.6,1045.3L1471,1060.4L1455.4,1075.5L1439.6,1090.7L1423.7,1106.1L1407.7,1121.5L1391.7,1137L1375.5,1152.6L1359.3,1168.4L1342.9,1184.2L1326.5,1200.1L1309.9,1216.1L1293.2,1232.3L1276.5,1248.5L1259.6,1264.8L1242.6,1281.3L1225.6,1297.8L1208.4,1314.5L1191.1,1331.3L1173.7,1348.1L1156.2,1365.1L1138.6,1382.2L1120.8,1399.5L1103,1416.8L1085,1434.2L1067,1451.8L1048.8,1469.5L1030.5,1487.3L1012,1505.2L993.5,1523.2L974.8,1541.4L956.1,1559.7L937.2,1578.1L918.1,1596.6L899,1615.3L879.7,1634.1L860.3,1653 M226.7,496.8L248.8,538.5L270.9,579.4L292.9,619.4L314.8,658.7L336.7,697L358.5,734.6L380.3,771.4L402.1,807.4L423.8,842.5L445.4,876.9L467.1,910.5L488.7,943.3L510.3,975.4L531.8,1006.6L553.4,1037.2L575,1066.9L596.5,1095.9L618.1,1124.1L639.6,1151.6L661.2,1178.4L682.8,1204.4L704.4,1229.6L726.1,1254.1L747.7,1277.9L769.4,1300.9L791.2,1323.2L813,1344.7L834.8,1365.5L856.7,1385.6L878.7,1404.9L900.7,1423.5L922.8,1441.3L945,1458.4L967.3,1474.7L989.6,1490.3L1012,1505.2L1034.6,1519.3L1057.2,1532.6L1080,1545.2L1102.9,1557L1125.9,1568.1L1149,1578.3L1172.3,1587.8L1195.7,1596.5 M1695.8,968.3L1681,982.9L1666.1,997.6L1651.2,1012.4L1636.1,1027.2L1621,1042.2L1605.8,1057.3L1590.5,1072.4L1575.1,1087.6L1559.6,1103L1544,1118.4L1528.3,1134L1512.5,1149.6L1496.7,1165.3L1480.7,1181.2L1464.6,1197.1L1448.5,1213.1L1432.2,1229.3L1415.8,1245.5L1399.4,1261.9L1382.8,1278.4L1366.1,1294.9L1349.3,1311.6L1332.4,1328.4L1315.4,1345.3L1298.3,1362.3L1281.1,1379.4L1263.8,1396.6L1246.4,1414L1228.9,1431.4L1211.2,1449L1193.4,1466.7L1175.6,1484.5L1157.6,1502.5L1139.5,1520.5L1121.2,1538.7L1102.9,1557L1084.4,1575.4L1065.8,1594L1047.1,1612.7L1028.3,1631.5L1009.3,1650.4L990.2,1669.5L971,1688.7L951.7,1708 M145.9,553.4L168.3,595.6L190.6,637L212.9,677.6L235.1,717.3L257.2,756.2L279.2,794.3L301.2,831.5L323.2,868L345.1,903.6L367,938.5L388.8,972.6L410.6,1005.9L432.4,1038.4L454.1,1070.1L475.9,1101.1L497.6,1131.3L519.3,1160.7L541.1,1189.4L562.8,1217.4L584.5,1244.5L606.2,1271L628,1296.7L649.8,1321.6L671.6,1345.8L693.4,1369.2L715.3,1391.9L737.2,1413.9L759.2,1435.1L781.2,1455.6L803.2,1475.3L825.4,1494.3L847.6,1512.6L869.8,1530.1L892.2,1546.8L914.6,1562.8L937.2,1578.1L959.8,1592.6L982.5,1606.3L1005.3,1619.3L1028.3,1631.5L1051.4,1642.9L1074.5,1653.6L1097.9,1663.5L1121.3,1672.6" fill="none" stroke="#000" stroke-opacity="0.58" stroke-width="3.3"/>
<path d="M541.2,253.4L565.7,246.7L590,240.1L614.1,233.6L638,227.1L661.6,220.7L685,214.3L708.2,208.1L731.1,201.8L753.9,195.7L776.4,189.6L798.8,183.6L820.9,177.6L842.8,171.8L864.5,165.9L886,160.1L907.4,154.4L928.5,148.8L949.4,143.2 M212,481.6L238.7,473.9L265.1,466.3L291.3,458.7L317.2,451.3L342.8,443.9L368.2,436.6L393.3,429.3L418.2,422.2L442.9,415.1L467.3,408.1L491.5,401.2L515.5,394.3L539.2,387.6L562.7,380.8L586,374.2L609.1,367.6L632,361.1L654.6,354.7L677,348.3L699.3,342.1L721.3,335.8L743.1,329.7L764.7,323.5L786.1,317.5L807.4,311.5L828.4,305.6L849.3,299.8L869.9,294L890.4,288.2L910.7,282.6L930.8,276.9L950.7,271.4L970.4,265.9L990,260.4L1009.4,255.1 M76.2,664.7L103,656.5L129.6,648.5L155.9,640.5L182,632.6L207.8,624.8L233.3,617.1L258.6,609.4L283.7,601.9L308.5,594.4L333.1,587L357.4,579.7L381.5,572.5L405.4,565.3L429,558.2L452.5,551.2L475.7,544.3L498.7,537.4L521.5,530.6L544,523.9L566.4,517.3L588.5,510.7L610.5,504.2L632.2,497.8L653.8,491.4L675.1,485.1L696.3,478.9L717.2,472.7L738,466.6L758.6,460.6L779,454.6L799.2,448.7L819.2,442.8L839.1,437L858.7,431.3L878.2,425.6L897.6,420L916.7,414.5L935.7,409L954.5,403.6L973.2,398.2L991.7,392.9L1010,387.6L1028.2,382.4L1046.2,377.2L1064,372.1L1081.7,367.1 M136.2,793.8L161.2,785.9L186,778.1L210.5,770.4L234.8,762.8L258.8,755.3L282.7,747.8L306.3,740.4L329.6,733.1L352.8,725.9L375.7,718.7L398.5,711.7L421,704.7L443.3,697.8L465.4,690.9L487.3,684.1L509,677.4L530.5,670.8L551.7,664.3L572.8,657.8L593.8,651.4L614.5,645L635,638.7L655.3,632.5L675.5,626.4L695.5,620.3L715.3,614.3L734.9,608.4L754.3,602.5L773.6,596.6L792.7,590.9L811.7,585.2L830.4,579.6L849,574L867.5,568.5L885.7,563L903.8,557.6L921.8,552.3L939.6,547L957.2,541.8L974.7,536.6L992.1,531.5L1009.3,526.4L1026.3,521.4L1043.2,516.5L1059.9,511.6L1076.5,506.8L1093,502L1109.3,497.2L1125.5,492.6L1141.5,487.9L1157.5,483.3 M216.1,920.6L239,913.2L261.7,905.8L284.2,898.6L306.4,891.4L328.5,884.3L350.4,877.2L372,870.3L393.5,863.4L414.8,856.6L435.8,849.9L456.7,843.2L477.4,836.6L497.9,830.1L518.2,823.7L538.3,817.3L558.3,811L578,804.8L597.6,798.6L617,792.5L636.2,786.5L655.3,780.5L674.2,774.7L692.9,768.8L711.5,763.1L729.9,757.4L748.1,751.7L766.2,746.2L784.1,740.6L801.8,735.2L819.4,729.8L836.9,724.5L854.1,719.2L871.3,714L888.3,708.9L905.1,703.8L921.8,698.7L938.4,693.7L954.8,688.8L971,684L987.1,679.2L1003.1,674.4L1019,669.7L1034.7,665.1L1050.3,660.5L1065.7,655.9L1081,651.4L1096.2,647L1111.2,642.6L1126.1,638.3L1140.9,634L1155.6,629.8L1170.1,625.6L1184.6,621.5L1198.9,617.4L1213,613.4L1227.1,609.4L1241,605.5L1254.8,601.6 M283.6,1056.9L304.4,1050L325.1,1043.2L345.6,1036.5L365.9,1029.8L386,1023.3L405.9,1016.8L425.7,1010.3L445.2,1004L464.6,997.7L483.8,991.5L502.9,985.3L521.7,979.2L540.4,973.2L558.9,967.3L577.3,961.4L595.5,955.6L613.5,949.9L631.4,944.2L649.1,938.6L666.7,933.1L684.1,927.6L701.3,922.2L718.4,916.8L735.3,911.6L752.1,906.3L768.8,901.2L785.3,896.1L801.6,891L817.8,886.1L833.9,881.2L849.8,876.3L865.6,871.5L881.3,866.8L896.8,862.1L912.2,857.4L927.4,852.9L942.5,848.4L957.5,843.9L972.3,839.5L987.1,835.2L1001.7,830.9L1016.1,826.6L1030.5,822.4L1044.7,818.3L1058.8,814.2L1072.7,810.2L1086.6,806.2L1100.3,802.3L1113.9,798.5L1127.4,794.6L1140.8,790.9L1154.1,787.2L1167.2,783.5L1180.2,779.9L1193.2,776.3L1206,772.8L1218.7,769.3L1231.3,765.9L1243.7,762.5L1256.1,759.2L1268.4,755.9L1280.5,752.7L1292.6,749.5L1304.5,746.4L1316.4,743.3L1328.1,740.3L1339.8,737.3L1351.3,734.3L1362.8,731.4L1374.1,728.6 M389.5,1188.9L407.8,1182.8L426,1176.9L444,1171L461.8,1165.2L479.5,1159.5L497,1153.8L514.4,1148.2L531.6,1142.7L548.7,1137.2L565.6,1131.8L582.3,1126.5L598.9,1121.2L615.4,1116L631.7,1110.9L647.8,1105.8L663.8,1100.8L679.7,1095.9L695.4,1091L711,1086.2L726.5,1081.5L741.8,1076.8L756.9,1072.1L772,1067.6L786.9,1063.1L801.7,1058.6L816.3,1054.2L830.8,1049.9L845.2,1045.6L859.5,1041.4L873.6,1037.3L887.6,1033.2L901.5,1029.1L915.2,1025.2L928.9,1021.2L942.4,1017.4L955.8,1013.5L969,1009.8L982.2,1006.1L995.2,1002.4L1008.1,998.8L1021,995.3L1033.6,991.8L1046.2,988.4L1058.7,985L1071,981.7L1083.3,978.4L1095.4,975.2L1107.5,972L1119.4,968.9L1131.2,965.8L1142.9,962.8L1154.5,959.8L1166,956.9L1177.4,954L1188.7,951.2L1199.9,948.4L1211,945.7L1222,943L1232.9,940.4L1243.6,937.9L1254.3,935.3L1264.9,932.9L1275.4,930.4L1285.8,928.1L1296.1,925.7L1306.4,923.4L1316.5,921.2L1326.5,919L1336.4,916.9L1346.3,914.8L1356,912.7L1365.7,910.7L1375.2,908.8L1384.7,906.9L1394.1,905L1403.4,903.2L1412.6,901.4L1421.7,899.7L1430.8,898L1439.7,896.4L1448.6,894.8L1457.4,893.2L1466.1,891.7L1474.7,890.3L1483.2,888.9L1491.6,887.5L1500,886.2L1508.3,884.9L1516.5,883.7L1524.6,882.5L1532.6,881.3L1540.6,880.2L1548.5,879.2L1556.3,878.2L1564,877.2 M490.4,1335.9L506,1331L521.5,1326.1L536.9,1321.3L552.1,1316.6L567.2,1312L582.2,1307.4L597,1302.9L611.7,1298.4L626.3,1294L640.7,1289.7L655,1285.4L669.1,1281.2L683.1,1277.1L697,1273L710.8,1269L724.5,1265L738,1261.2L751.4,1257.3L764.6,1253.6L777.8,1249.8L790.8,1246.2L803.7,1242.6L816.5,1239.1L829.2,1235.6L841.8,1232.2L854.2,1228.8L866.5,1225.5L878.7,1222.3L890.8,1219.1L902.8,1216L914.7,1212.9L926.4,1209.9L938.1,1207L949.6,1204.1L961.1,1201.2L972.4,1198.4L983.6,1195.7L994.7,1193L1005.7,1190.4L1016.6,1187.8L1027.4,1185.3L1038.1,1182.8L1048.7,1180.4L1059.2,1178.1L1069.6,1175.8L1079.9,1173.5L1090.1,1171.3L1100.2,1169.2L1110.2,1167.1L1120.1,1165.1L1129.9,1163.1L1139.6,1161.2L1149.2,1159.3L1158.7,1157.5L1168.1,1155.7L1177.4,1154L1186.7,1152.3L1195.8,1150.7L1204.9,1149.1L1213.8,1147.6L1222.7,1146.1L1231.5,1144.7L1240.1,1143.3L1248.7,1142L1257.2,1140.7L1265.6,1139.5L1274,1138.4L1282.2,1137.2L1290.4,1136.2L1298.4,1135.2L1306.4,1134.2L1314.3,1133.3L1322.1,1132.4L1329.8,1131.6L1337.5,1130.8L1345,1130.1L1352.5,1129.5L1359.9,1128.9L1367.2,1128.3L1374.4,1127.8L1381.6,1127.3L1388.6,1126.9L1395.6,1126.5L1402.5,1126.2L1409.3,1125.9L1416.1,1125.7L1422.7,1125.6L1429.3,1125.4L1435.8,1125.4L1442.2,1125.3L1448.5,1125.4L1454.8,1125.5L1461,1125.6L1467.1,1125.8L1473.1,1126L1479.1,1126.3L1484.9,1126.6L1490.7,1127L1496.4,1127.4L1502.1,1127.9L1507.6,1128.4L1513.1,1129L1518.5,1129.6L1523.9,1130.3L1529.1,1131L1534.3,1131.8L1539.4,1132.7L1544.5,1133.5L1549.4,1134.5L1554.3,1135.5L1559.1,1136.5L1563.9,1137.6L1568.5,1138.7L1573.1,1139.9L1577.6,1141.2L1582.1,1142.5L1586.4,1143.8L1590.7,1145.2L1595,1146.7L1599.1,1148.2L1603.2,1149.7L1607.2,1151.3L1611.1,1153L1615,1154.7L1618.8,1156.5L1622.5,1158.3L1626.1,1160.2L1629.7,1162.1L1633.2,1164.1 M627.2,1497.5L639.5,1494.3L651.6,1491.1L663.7,1488L675.6,1485L687.4,1482.1L699,1479.2L710.6,1476.3L722.1,1473.5L733.4,1470.8L744.6,1468.2L755.7,1465.6L766.7,1463.1L777.6,1460.6L788.4,1458.2L799.1,1455.8L809.6,1453.6L820.1,1451.3L830.4,1449.2L840.7,1447L850.8,1445L860.9,1443L870.8,1441.1L880.6,1439.2L890.3,1437.4L900,1435.6L909.5,1434L918.9,1432.3L928.2,1430.7L937.5,1429.2L946.6,1427.8L955.6,1426.3L964.5,1425L973.4,1423.7L982.1,1422.5L990.7,1421.3L999.3,1420.2L1007.7,1419.1L1016.1,1418.1L1024.3,1417.2L1032.5,1416.3L1040.5,1415.5L1048.5,1414.7L1056.4,1414L1064.2,1413.3L1071.9,1412.7L1079.5,1412.2L1087,1411.7L1094.4,1411.2L1101.8,1410.9L1109,1410.6L1116.2,1410.3L1123.3,1410.1L1130.2,1409.9L1137.1,1409.9L1143.9,1409.8L1150.6,1409.8L1157.3,1409.9L1163.8,1410.1L1170.3,1410.2L1176.6,1410.5L1182.9,1410.8L1189.1,1411.2L1195.2,1411.6L1201.3,1412.1L1207.2,1412.6L1213.1,1413.2L1218.8,1413.9L1224.5,1414.6L1230.1,1415.3L1235.6,1416.2L1241.1,1417L1246.4,1418L1251.7,1419L1256.9,1420L1262,1421.2L1267,1422.3L1272,1423.6L1276.8,1424.9L1281.6,1426.2L1286.3,1427.6L1290.9,1429.1L1295.4,1430.6L1299.9,1432.2L1304.2,1433.9L1308.5,1435.6L1312.7,1437.3L1316.8,1439.2L1320.9,1441.1L1324.8,1443L1328.7,1445L1332.5,1447.1L1336.2,1449.2L1339.8,1451.4L1343.4,1453.7L1346.9,1456" fill="none" stroke="#3a3a3a" stroke-opacity="0.6" stroke-width="2.8" clip-path="url(#sc)"/>
<path d="M541.2,253.4L565.7,246.7L590,240.1L614.1,233.6L638,227.1L661.6,220.7L685,214.3L708.2,208.1L731.1,201.8L753.9,195.7L776.4,189.6L798.8,183.6L820.9,177.6L842.8,171.8L864.5,165.9L886,160.1L907.4,154.4L928.5,148.8L949.4,143.2 M212,481.6L238.7,473.9L265.1,466.3L291.3,458.7L317.2,451.3L342.8,443.9L368.2,436.6L393.3,429.3L418.2,422.2L442.9,415.1L467.3,408.1L491.5,401.2L515.5,394.3L539.2,387.6L562.7,380.8L586,374.2L609.1,367.6L632,361.1L654.6,354.7L677,348.3L699.3,342.1L721.3,335.8L743.1,329.7L764.7,323.5L786.1,317.5L807.4,311.5L828.4,305.6L849.3,299.8L869.9,294L890.4,288.2L910.7,282.6L930.8,276.9L950.7,271.4L970.4,265.9L990,260.4L1009.4,255.1 M76.2,664.7L103,656.5L129.6,648.5L155.9,640.5L182,632.6L207.8,624.8L233.3,617.1L258.6,609.4L283.7,601.9L308.5,594.4L333.1,587L357.4,579.7L381.5,572.5L405.4,565.3L429,558.2L452.5,551.2L475.7,544.3L498.7,537.4L521.5,530.6L544,523.9L566.4,517.3L588.5,510.7L610.5,504.2L632.2,497.8L653.8,491.4L675.1,485.1L696.3,478.9L717.2,472.7L738,466.6L758.6,460.6L779,454.6L799.2,448.7L819.2,442.8L839.1,437L858.7,431.3L878.2,425.6L897.6,420L916.7,414.5L935.7,409L954.5,403.6L973.2,398.2L991.7,392.9L1010,387.6L1028.2,382.4L1046.2,377.2L1064,372.1L1081.7,367.1 M136.2,793.8L161.2,785.9L186,778.1L210.5,770.4L234.8,762.8L258.8,755.3L282.7,747.8L306.3,740.4L329.6,733.1L352.8,725.9L375.7,718.7L398.5,711.7L421,704.7L443.3,697.8L465.4,690.9L487.3,684.1L509,677.4L530.5,670.8L551.7,664.3L572.8,657.8L593.8,651.4L614.5,645L635,638.7L655.3,632.5L675.5,626.4L695.5,620.3L715.3,614.3L734.9,608.4L754.3,602.5L773.6,596.6L792.7,590.9L811.7,585.2L830.4,579.6L849,574L867.5,568.5L885.7,563L903.8,557.6L921.8,552.3L939.6,547L957.2,541.8L974.7,536.6L992.1,531.5L1009.3,526.4L1026.3,521.4L1043.2,516.5L1059.9,511.6L1076.5,506.8L1093,502L1109.3,497.2L1125.5,492.6L1141.5,487.9L1157.5,483.3 M216.1,920.6L239,913.2L261.7,905.8L284.2,898.6L306.4,891.4L328.5,884.3L350.4,877.2L372,870.3L393.5,863.4L414.8,856.6L435.8,849.9L456.7,843.2L477.4,836.6L497.9,830.1L518.2,823.7L538.3,817.3L558.3,811L578,804.8L597.6,798.6L617,792.5L636.2,786.5L655.3,780.5L674.2,774.7L692.9,768.8L711.5,763.1L729.9,757.4L748.1,751.7L766.2,746.2L784.1,740.6L801.8,735.2L819.4,729.8L836.9,724.5L854.1,719.2L871.3,714L888.3,708.9L905.1,703.8L921.8,698.7L938.4,693.7L954.8,688.8L971,684L987.1,679.2L1003.1,674.4L1019,669.7L1034.7,665.1L1050.3,660.5L1065.7,655.9L1081,651.4L1096.2,647L1111.2,642.6L1126.1,638.3L1140.9,634L1155.6,629.8L1170.1,625.6L1184.6,621.5L1198.9,617.4L1213,613.4L1227.1,609.4L1241,605.5L1254.8,601.6 M283.6,1056.9L304.4,1050L325.1,1043.2L345.6,1036.5L365.9,1029.8L386,1023.3L405.9,1016.8L425.7,1010.3L445.2,1004L464.6,997.7L483.8,991.5L502.9,985.3L521.7,979.2L540.4,973.2L558.9,967.3L577.3,961.4L595.5,955.6L613.5,949.9L631.4,944.2L649.1,938.6L666.7,933.1L684.1,927.6L701.3,922.2L718.4,916.8L735.3,911.6L752.1,906.3L768.8,901.2L785.3,896.1L801.6,891L817.8,886.1L833.9,881.2L849.8,876.3L865.6,871.5L881.3,866.8L896.8,862.1L912.2,857.4L927.4,852.9L942.5,848.4L957.5,843.9L972.3,839.5L987.1,835.2L1001.7,830.9L1016.1,826.6L1030.5,822.4L1044.7,818.3L1058.8,814.2L1072.7,810.2L1086.6,806.2L1100.3,802.3L1113.9,798.5L1127.4,794.6L1140.8,790.9L1154.1,787.2L1167.2,783.5L1180.2,779.9L1193.2,776.3L1206,772.8L1218.7,769.3L1231.3,765.9L1243.7,762.5L1256.1,759.2L1268.4,755.9L1280.5,752.7L1292.6,749.5L1304.5,746.4L1316.4,743.3L1328.1,740.3L1339.8,737.3L1351.3,734.3L1362.8,731.4L1374.1,728.6 M389.5,1188.9L407.8,1182.8L426,1176.9L444,1171L461.8,1165.2L479.5,1159.5L497,1153.8L514.4,1148.2L531.6,1142.7L548.7,1137.2L565.6,1131.8L582.3,1126.5L598.9,1121.2L615.4,1116L631.7,1110.9L647.8,1105.8L663.8,1100.8L679.7,1095.9L695.4,1091L711,1086.2L726.5,1081.5L741.8,1076.8L756.9,1072.1L772,1067.6L786.9,1063.1L801.7,1058.6L816.3,1054.2L830.8,1049.9L845.2,1045.6L859.5,1041.4L873.6,1037.3L887.6,1033.2L901.5,1029.1L915.2,1025.2L928.9,1021.2L942.4,1017.4L955.8,1013.5L969,1009.8L982.2,1006.1L995.2,1002.4L1008.1,998.8L1021,995.3L1033.6,991.8L1046.2,988.4L1058.7,985L1071,981.7L1083.3,978.4L1095.4,975.2L1107.5,972L1119.4,968.9L1131.2,965.8L1142.9,962.8L1154.5,959.8L1166,956.9L1177.4,954L1188.7,951.2L1199.9,948.4L1211,945.7L1222,943L1232.9,940.4L1243.6,937.9L1254.3,935.3L1264.9,932.9L1275.4,930.4L1285.8,928.1L1296.1,925.7L1306.4,923.4L1316.5,921.2L1326.5,919L1336.4,916.9L1346.3,914.8L1356,912.7L1365.7,910.7L1375.2,908.8L1384.7,906.9L1394.1,905L1403.4,903.2L1412.6,901.4L1421.7,899.7L1430.8,898L1439.7,896.4L1448.6,894.8L1457.4,893.2L1466.1,891.7L1474.7,890.3L1483.2,888.9L1491.6,887.5L1500,886.2L1508.3,884.9L1516.5,883.7L1524.6,882.5L1532.6,881.3L1540.6,880.2L1548.5,879.2L1556.3,878.2L1564,877.2 M490.4,1335.9L506,1331L521.5,1326.1L536.9,1321.3L552.1,1316.6L567.2,1312L582.2,1307.4L597,1302.9L611.7,1298.4L626.3,1294L640.7,1289.7L655,1285.4L669.1,1281.2L683.1,1277.1L697,1273L710.8,1269L724.5,1265L738,1261.2L751.4,1257.3L764.6,1253.6L777.8,1249.8L790.8,1246.2L803.7,1242.6L816.5,1239.1L829.2,1235.6L841.8,1232.2L854.2,1228.8L866.5,1225.5L878.7,1222.3L890.8,1219.1L902.8,1216L914.7,1212.9L926.4,1209.9L938.1,1207L949.6,1204.1L961.1,1201.2L972.4,1198.4L983.6,1195.7L994.7,1193L1005.7,1190.4L1016.6,1187.8L1027.4,1185.3L1038.1,1182.8L1048.7,1180.4L1059.2,1178.1L1069.6,1175.8L1079.9,1173.5L1090.1,1171.3L1100.2,1169.2L1110.2,1167.1L1120.1,1165.1L1129.9,1163.1L1139.6,1161.2L1149.2,1159.3L1158.7,1157.5L1168.1,1155.7L1177.4,1154L1186.7,1152.3L1195.8,1150.7L1204.9,1149.1L1213.8,1147.6L1222.7,1146.1L1231.5,1144.7L1240.1,1143.3L1248.7,1142L1257.2,1140.7L1265.6,1139.5L1274,1138.4L1282.2,1137.2L1290.4,1136.2L1298.4,1135.2L1306.4,1134.2L1314.3,1133.3L1322.1,1132.4L1329.8,1131.6L1337.5,1130.8L1345,1130.1L1352.5,1129.5L1359.9,1128.9L1367.2,1128.3L1374.4,1127.8L1381.6,1127.3L1388.6,1126.9L1395.6,1126.5L1402.5,1126.2L1409.3,1125.9L1416.1,1125.7L1422.7,1125.6L1429.3,1125.4L1435.8,1125.4L1442.2,1125.3L1448.5,1125.4L1454.8,1125.5L1461,1125.6L1467.1,1125.8L1473.1,1126L1479.1,1126.3L1484.9,1126.6L1490.7,1127L1496.4,1127.4L1502.1,1127.9L1507.6,1128.4L1513.1,1129L1518.5,1129.6L1523.9,1130.3L1529.1,1131L1534.3,1131.8L1539.4,1132.7L1544.5,1133.5L1549.4,1134.5L1554.3,1135.5L1559.1,1136.5L1563.9,1137.6L1568.5,1138.7L1573.1,1139.9L1577.6,1141.2L1582.1,1142.5L1586.4,1143.8L1590.7,1145.2L1595,1146.7L1599.1,1148.2L1603.2,1149.7L1607.2,1151.3L1611.1,1153L1615,1154.7L1618.8,1156.5L1622.5,1158.3L1626.1,1160.2L1629.7,1162.1L1633.2,1164.1 M627.2,1497.5L639.5,1494.3L651.6,1491.1L663.7,1488L675.6,1485L687.4,1482.1L699,1479.2L710.6,1476.3L722.1,1473.5L733.4,1470.8L744.6,1468.2L755.7,1465.6L766.7,1463.1L777.6,1460.6L788.4,1458.2L799.1,1455.8L809.6,1453.6L820.1,1451.3L830.4,1449.2L840.7,1447L850.8,1445L860.9,1443L870.8,1441.1L880.6,1439.2L890.3,1437.4L900,1435.6L909.5,1434L918.9,1432.3L928.2,1430.7L937.5,1429.2L946.6,1427.8L955.6,1426.3L964.5,1425L973.4,1423.7L982.1,1422.5L990.7,1421.3L999.3,1420.2L1007.7,1419.1L1016.1,1418.1L1024.3,1417.2L1032.5,1416.3L1040.5,1415.5L1048.5,1414.7L1056.4,1414L1064.2,1413.3L1071.9,1412.7L1079.5,1412.2L1087,1411.7L1094.4,1411.2L1101.8,1410.9L1109,1410.6L1116.2,1410.3L1123.3,1410.1L1130.2,1409.9L1137.1,1409.9L1143.9,1409.8L1150.6,1409.8L1157.3,1409.9L1163.8,1410.1L1170.3,1410.2L1176.6,1410.5L1182.9,1410.8L1189.1,1411.2L1195.2,1411.6L1201.3,1412.1L1207.2,1412.6L1213.1,1413.2L1218.8,1413.9L1224.5,1414.6L1230.1,1415.3L1235.6,1416.2L1241.1,1417L1246.4,1418L1251.7,1419L1256.9,1420L1262,1421.2L1267,1422.3L1272,1423.6L1276.8,1424.9L1281.6,1426.2L1286.3,1427.6L1290.9,1429.1L1295.4,1430.6L1299.9,1432.2L1304.2,1433.9L1308.5,1435.6L1312.7,1437.3L1316.8,1439.2L1320.9,1441.1L1324.8,1443L1328.7,1445L1332.5,1447.1L1336.2,1449.2L1339.8,1451.4L1343.4,1453.7L1346.9,1456" fill="none" stroke="#dcdcdc" stroke-opacity="0.5" stroke-width="1.4" stroke-dasharray="5 5" clip-path="url(#sc)"/>
<path d="M873.6,47.4L893.7,84.8L913.7,121.5L933.7,157.4L953.6,192.6L973.6,226.9L993.6,260.5L1013.5,293.3L1033.5,325.4L1053.4,356.7L1073.4,387.3L1093.3,417.1L1113.3,446.2L1133.3,474.5L1153.3,502.1L1173.4,529L1193.5,555.2L1213.6,580.6L1233.8,605.4L1254,629.4L1274.2,652.7L1294.5,675.2L1314.9,697.1L1335.3,718.2L1355.8,738.7L1376.3,758.4L1396.9,777.4L1417.6,795.7L1438.4,813.3L1459.2,830.2L1480.2,846.4L1501.2,861.8L1522.4,876.5L1543.6,890.6L1565,903.8L1586.5,916.4L1608.1,928.3L1629.8,939.4L1651.7,949.8L1673.6,959.4L1695.8,968.3L1718.1,976.5L1740.5,983.9L1763.1,990.6L1785.8,996.5" fill="none" stroke="#000" stroke-opacity="0.5" stroke-width="2.6"/>
<path d="M1785.8,996.5L1771.1,1011.3L1756.4,1026.3L1741.5,1041.3L1726.6,1056.5L1711.5,1071.7L1696.4,1087L1681.2,1102.4L1665.8,1118L1650.4,1133.6L1634.9,1149.3L1619.3,1165.1L1603.6,1181.1L1587.8,1197.1L1572,1213.2L1556,1229.5L1539.9,1245.8L1523.7,1262.3L1507.4,1278.8L1491,1295.5L1474.5,1312.3L1457.9,1329.2L1441.2,1346.2L1424.4,1363.3L1407.5,1380.5L1390.4,1397.9L1373.3,1415.3L1356.1,1432.9L1338.7,1450.6L1321.2,1468.4L1303.7,1486.3L1286,1504.4L1268.1,1522.6L1250.2,1540.9L1232.2,1559.3L1214,1577.8L1195.7,1596.5L1177.3,1615.3L1158.8,1634.3L1140.1,1653.4L1121.3,1672.6L1102.4,1691.9L1083.4,1711.4L1064.2,1731L1045,1750.7L1045,1750.7L1021.4,1741.2 M1045,1750.7L1021.4,1741.2L998.1,1731L974.8,1719.9L951.7,1708L928.7,1695.4L905.8,1682L883,1667.9L860.3,1653L837.7,1637.3L815.2,1620.9L792.7,1603.7L770.4,1585.8L748.1,1567.1L725.8,1547.7L703.7,1527.5L681.5,1506.6L659.5,1485L637.4,1462.6L615.4,1439.4L593.5,1415.5L571.5,1390.9L549.6,1365.5L527.7,1339.4L505.8,1312.5L484,1284.9L462.1,1256.5L440.2,1227.3L418.3,1197.4L396.4,1166.7L374.5,1135.3L352.5,1103.1L330.6,1070.1L308.6,1036.3L286.5,1001.7L264.5,966.4L242.3,930.2L220.2,893.3L197.9,855.5L175.6,816.9L153.3,777.5L130.9,737.2L108.4,696.1L85.8,654.2L63.1,611.4L63.1,611.4L84,596.8L104.8,582.2L125.4,567.7L145.9,553.4L166.3,539.1L186.6,524.9L206.7,510.8L226.7,496.8L246.6,482.9L266.4,469.1L286,455.4L305.5,441.7L325,428.2L344.2,414.7L363.4,401.3L382.5,388L401.4,374.8L420.3,361.7L439,348.6L457.6,335.7L476.1,322.8L494.5,310L512.8,297.2L531,284.6L549.1,272L567.1,259.5L584.9,247.1L602.7,234.8L620.4,222.5L637.9,210.4L655.4,198.3L672.8,186.2L690,174.3L707.2,162.4L724.3,150.6L741.2,138.8L758.1,127.1L774.9,115.5L791.6,104L808.2,92.5L824.7,81.2L841.1,69.8L857.4,58.6L873.6,47.4" fill="none" stroke="#000" stroke-opacity="0.72" stroke-width="4.8" stroke-linejoin="round" stroke-linecap="round"/>
<circle cx="517" cy="315" r="20.2" fill="#fff" fill-opacity="0.75"/><circle cx="517" cy="315" r="18" fill="#000"/><ellipse cx="511.5" cy="309.5" rx="6.5" ry="5.9" fill="#fff" filter="url(#b1)"/>
<circle cx="815" cy="177" r="20.2" fill="#fff" fill-opacity="0.75"/><circle cx="815" cy="177" r="18" fill="#000"/><ellipse cx="809.5" cy="171.5" rx="6.5" ry="5.9" fill="#fff" filter="url(#b1)"/>
<circle cx="313.6" cy="683.4" r="20.2" fill="#fff" fill-opacity="0.75"/><circle cx="313.6" cy="683.4" r="18" fill="#000"/><ellipse cx="308.1" cy="677.9" rx="6.5" ry="5.9" fill="#fff" filter="url(#b1)"/>
<circle cx="912" cy="985.5" r="20.2" fill="#fff" fill-opacity="0.75"/><circle cx="912" cy="985.5" r="18" fill="#000"/><ellipse cx="906.5" cy="980" rx="6.5" ry="5.9" fill="#fff" filter="url(#b1)"/>
<circle cx="1484" cy="997.5" r="20.2" fill="#fff" fill-opacity="0.75"/><circle cx="1484" cy="997.5" r="18" fill="#000"/><ellipse cx="1478.5" cy="992" rx="6.5" ry="5.9" fill="#fff" filter="url(#b1)"/>
<circle cx="543.4" cy="1232.2" r="20.2" fill="#fff" fill-opacity="0.75"/><circle cx="543.4" cy="1232.2" r="18" fill="#000"/><ellipse cx="537.9" cy="1226.7" rx="6.5" ry="5.9" fill="#fff" filter="url(#b1)"/>
<circle cx="1007" cy="1502" r="20.2" fill="#fff" fill-opacity="0.75"/><circle cx="1007" cy="1502" r="18" fill="#000"/><ellipse cx="1001.5" cy="1496.5" rx="6.5" ry="5.9" fill="#fff" filter="url(#b1)"/>
<g id="axes"><path d="M151.6,1426.6L1047.6,1836.7" stroke="#000" stroke-width="5.2" fill="none" stroke-linecap="round"/>
<path d="M1047.6,1836.7L1774.7,1316.3" stroke="#000" stroke-width="5.2" fill="none" stroke-linecap="round"/>
<path d="M1774.7,1316.3L1812.9,220.4" stroke="#000" stroke-width="5.4" fill="none" stroke-linecap="round"/>
<path d="M151.6,1426.6L133.1,1436.5" stroke="#000" stroke-width="4.2" fill="none" stroke-linecap="butt"/>
<path d="M219,1457.4L210.2,1462.2" stroke="#000" stroke-width="4.6" fill="none" stroke-linecap="butt"/>
<path d="M287.9,1488.9L269.5,1499.2" stroke="#000" stroke-width="4.2" fill="none" stroke-linecap="butt"/>
<path d="M358.4,1521.2L349.7,1526.2" stroke="#000" stroke-width="4.6" fill="none" stroke-linecap="butt"/>
<path d="M430.6,1554.3L412.5,1564.9" stroke="#000" stroke-width="4.2" fill="none" stroke-linecap="butt"/>
<path d="M504.5,1588.1L495.9,1593.2" stroke="#000" stroke-width="4.6" fill="none" stroke-linecap="butt"/>
<path d="M580.2,1622.8L562.3,1633.7" stroke="#000" stroke-width="4.2" fill="none" stroke-linecap="butt"/>
<path d="M657.8,1658.3L649.3,1663.6" stroke="#000" stroke-width="4.6" fill="none" stroke-linecap="butt"/>
<path d="M737.3,1694.6L719.6,1706" stroke="#000" stroke-width="4.2" fill="none" stroke-linecap="butt"/>
<path d="M818.7,1731.9L810.4,1737.5" stroke="#000" stroke-width="4.6" fill="none" stroke-linecap="butt"/>
<path d="M902.3,1770.2L884.9,1782" stroke="#000" stroke-width="4.2" fill="none" stroke-linecap="butt"/>
<path d="M988,1809.4L979.8,1815.2" stroke="#000" stroke-width="4.6" fill="none" stroke-linecap="butt"/>
<path d="M1774.7,1316.3L1795.5,1323.5" stroke="#000" stroke-width="4.2" fill="none" stroke-linecap="butt"/>
<path d="M1722.4,1353.7L1731.8,1357.1" stroke="#000" stroke-width="4.6" fill="none" stroke-linecap="butt"/>
<path d="M1668.7,1392.1L1689.4,1399.6" stroke="#000" stroke-width="4.2" fill="none" stroke-linecap="butt"/>
<path d="M1613.7,1431.5L1623.1,1434.9" stroke="#000" stroke-width="4.6" fill="none" stroke-linecap="butt"/>
<path d="M1557.3,1471.9L1577.9,1479.6" stroke="#000" stroke-width="4.2" fill="none" stroke-linecap="butt"/>
<path d="M1499.4,1513.3L1508.8,1516.9" stroke="#000" stroke-width="4.6" fill="none" stroke-linecap="butt"/>
<path d="M1440,1555.8L1460.5,1563.9" stroke="#000" stroke-width="4.2" fill="none" stroke-linecap="butt"/>
<path d="M1379,1599.5L1388.3,1603.2" stroke="#000" stroke-width="4.6" fill="none" stroke-linecap="butt"/>
<path d="M1316.3,1644.3L1336.7,1652.7" stroke="#000" stroke-width="4.2" fill="none" stroke-linecap="butt"/>
<path d="M1251.9,1690.4L1261.1,1694.3" stroke="#000" stroke-width="4.6" fill="none" stroke-linecap="butt"/>
<path d="M1185.7,1737.8L1205.9,1746.6" stroke="#000" stroke-width="4.2" fill="none" stroke-linecap="butt"/>
<path d="M1117.6,1786.5L1126.7,1790.6" stroke="#000" stroke-width="4.6" fill="none" stroke-linecap="butt"/>
<path d="M1047.6,1836.7L1067.6,1845.8" stroke="#000" stroke-width="4.2" fill="none" stroke-linecap="butt"/>
<path d="M1778.2,1215.4L1800.7,1220" stroke="#000" stroke-width="4.4" fill="none" stroke-linecap="butt"/>
<path d="M1785.4,1008.3L1808,1012.8" stroke="#000" stroke-width="4.4" fill="none" stroke-linecap="butt"/>
<path d="M1792.9,793.5L1815.5,798" stroke="#000" stroke-width="4.4" fill="none" stroke-linecap="butt"/>
<path d="M1800.7,570.6L1823.2,575.2" stroke="#000" stroke-width="4.4" fill="none" stroke-linecap="butt"/>
<path d="M1808.7,339.3L1831.3,343.9" stroke="#000" stroke-width="4.4" fill="none" stroke-linecap="butt"/></g>
<g id="labels" fill="#000" font-family="'Liberation Sans', Arial, sans-serif"><text transform="matrix(0.4011 -0.2148 0.3910 0.1790 110 1448)" font-size="100" text-anchor="middle" y="36" stroke="#000" stroke-width="2.2">0</text>
<text transform="matrix(0.3971 -0.2221 0.3910 0.1790 236.4 1518.6)" font-size="100" text-anchor="middle" y="36" stroke="#000" stroke-width="2.2">50</text>
<text transform="matrix(0.3927 -0.2298 0.3910 0.1790 371 1590.8)" font-size="100" text-anchor="middle" y="36" stroke="#000" stroke-width="2.2">100</text>
<text transform="matrix(0.3877 -0.2381 0.3910 0.1790 520.4 1661.4)" font-size="100" text-anchor="middle" y="36" stroke="#000" stroke-width="2.2">150</text>
<text transform="matrix(0.3821 -0.2470 0.3910 0.1790 677.2 1733.7)" font-size="100" text-anchor="middle" y="36" stroke="#000" stroke-width="2.2">200</text>
<text transform="matrix(0.3759 -0.2564 0.3910 0.1790 843 1814)" font-size="100" text-anchor="middle" y="36" stroke="#000" stroke-width="2.2">250</text>
<text transform="matrix(0.4819 0.2206 -0.4453 0.2685 441 1701)" font-size="100" text-anchor="middle" y="36" stroke="#000" stroke-width="2.2">Milling time, min</text>
<text transform="matrix(0.4680 0.1612 -0.3497 0.2503 1843.3 1340.3)" font-size="100" text-anchor="middle" y="36" stroke="#000" stroke-width="2.2">200</text>
<text transform="matrix(0.4658 0.1675 -0.3497 0.2503 1741 1421)" font-size="100" text-anchor="middle" y="36" stroke="#000" stroke-width="2.2">400</text>
<text transform="matrix(0.4633 0.1742 -0.3497 0.2503 1628.5 1497.3)" font-size="100" text-anchor="middle" y="36" stroke="#000" stroke-width="2.2">600</text>
<text transform="matrix(0.4606 0.1813 -0.3497 0.2503 1512 1584.3)" font-size="100" text-anchor="middle" y="36" stroke="#000" stroke-width="2.2">800</text>
<text transform="matrix(0.4344 0.1795 -0.3497 0.2503 1406.6 1683.8)" font-size="100" text-anchor="middle" y="36" stroke="#000" stroke-width="2.2">1000</text>
<text transform="matrix(0.4311 0.1873 -0.3497 0.2503 1276.9 1779)" font-size="100" text-anchor="middle" y="36" stroke="#000" stroke-width="2.2">1200</text>
<text transform="matrix(0.4274 0.1956 -0.3497 0.2503 1139.8 1879)" font-size="100" text-anchor="middle" y="36" stroke="#000" stroke-width="2.2">1400</text>
<text transform="matrix(0.4025 -0.2881 0.4848 0.1882 1611 1631)" font-size="100" text-anchor="middle" y="36" stroke="#000" stroke-width="2.2">Milling speed, rpm</text>
<text transform="matrix(0.4652 0.1539 -0.0183 0.5247 1827 1227)" font-size="100" text-anchor="middle" y="36" stroke="#000" stroke-width="2.2">0</text>
<text transform="matrix(0.4689 0.1421 -0.0183 0.5247 1845 1025)" font-size="100" text-anchor="middle" y="36" stroke="#000" stroke-width="2.2">20</text>
<text transform="matrix(0.4726 0.1296 -0.0183 0.5247 1853.2 809.4)" font-size="100" text-anchor="middle" y="36" stroke="#000" stroke-width="2.2">40</text>
<text transform="matrix(0.4760 0.1164 -0.0183 0.5247 1863 584.6)" font-size="100" text-anchor="middle" y="36" stroke="#000" stroke-width="2.2">60</text>
<text transform="matrix(0.4792 0.1024 -0.0183 0.5247 1871.3 349.4)" font-size="100" text-anchor="middle" y="36" stroke="#000" stroke-width="2.2">80</text>
<text transform="matrix(0.0211 -0.6046 0.5593 0.1534 1921 825)" font-size="100" text-anchor="middle" y="36" stroke="#000" stroke-width="2.2">Crystallinity, %</text></g>
<g id="colorbar" font-family="'Liberation Sans', Arial, sans-serif"><rect x="2092" y="218" width="106" height="1120" fill="#fff" stroke="#777" stroke-width="2.5"/>
<rect x="2093" y="232" width="104" height="1096" fill="url(#cb)"/>
<rect x="2093" y="1328" width="104" height="10" fill="#000"/>
<rect x="2093" y="232" width="104" height="4" fill="#000" fill-opacity="0.85"/>
<rect x="2093" y="232" width="4" height="1096" fill="#000" fill-opacity="0.45"/>
<rect x="2193" y="232" width="4" height="1096" fill="#000" fill-opacity="0.45"/>
<rect x="2198" y="231" width="25" height="3.4" fill="#555"/>
<text x="2238" y="246.2" font-size="42.6" fill="#1a1a1a">89.50</text>
<rect x="2198" y="340.6" width="25" height="3.4" fill="#555"/>
<text x="2238" y="355.8" font-size="42.6" fill="#1a1a1a">80.20</text>
<rect x="2198" y="450.2" width="25" height="3.4" fill="#555"/>
<text x="2238" y="465.4" font-size="42.6" fill="#1a1a1a">70.90</text>
<rect x="2198" y="559.8" width="25" height="3.4" fill="#555"/>
<text x="2238" y="575" font-size="42.6" fill="#1a1a1a">61.60</text>
<rect x="2198" y="669.4" width="25" height="3.4" fill="#555"/>
<text x="2238" y="684.6" font-size="42.6" fill="#1a1a1a">52.30</text>
<rect x="2198" y="779" width="25" height="3.4" fill="#555"/>
<text x="2238" y="794.2" font-size="42.6" fill="#1a1a1a">43.00</text>
<rect x="2198" y="888.6" width="25" height="3.4" fill="#555"/>
<text x="2238" y="903.8" font-size="42.6" fill="#1a1a1a">33.70</text>
<rect x="2198" y="998.2" width="25" height="3.4" fill="#555"/>
<text x="2238" y="1013.4" font-size="42.6" fill="#1a1a1a">24.40</text>
<rect x="2198" y="1107.8" width="25" height="3.4" fill="#555"/>
<text x="2238" y="1123" font-size="42.6" fill="#1a1a1a">15.10</text>
<rect x="2198" y="1217.4" width="25" height="3.4" fill="#555"/>
<text x="2238" y="1232.6" font-size="42.6" fill="#1a1a1a">5.800</text>
<rect x="2198" y="1327" width="25" height="3.4" fill="#555"/>
<text x="2238" y="1342.2" font-size="42.6" fill="#1a1a1a">0.000</text>
<text x="1902" y="169" font-size="74" fill="#111" stroke="#111" stroke-width="0.9">Crystallinity, %</text></g>
</g>
</svg>
</body></html>
